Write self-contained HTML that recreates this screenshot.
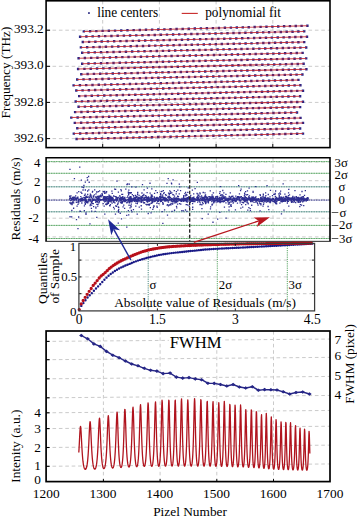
<!DOCTYPE html>
<html><head><meta charset="utf-8"><style>
html,body{margin:0;padding:0;background:#fff;}
svg{display:block;}
text{font-family:"Liberation Serif", serif;fill:#000;}
</style></head><body>
<svg width="357" height="516" viewBox="0 0 357 516">
<rect width="357" height="516" fill="#fff"/>
<line x1="46.1" y1="30.2" x2="330" y2="30.2" stroke="#cbcbcb" stroke-width="1.0" stroke-dasharray="3.6,2.8"/>
<line x1="46.1" y1="66.3" x2="330" y2="66.3" stroke="#cbcbcb" stroke-width="1.0" stroke-dasharray="3.6,2.8"/>
<line x1="46.1" y1="102.4" x2="330" y2="102.4" stroke="#cbcbcb" stroke-width="1.0" stroke-dasharray="3.6,2.8"/>
<line x1="46.1" y1="138.6" x2="330" y2="138.6" stroke="#cbcbcb" stroke-width="1.0" stroke-dasharray="3.6,2.8"/>
<line x1="102.7" y1="0.8" x2="102.7" y2="147.6" stroke="#cbcbcb" stroke-width="1.0" stroke-dasharray="3.6,2.8"/>
<line x1="159.4" y1="0.8" x2="159.4" y2="147.6" stroke="#cbcbcb" stroke-width="1.0" stroke-dasharray="3.6,2.8"/>
<line x1="216.1" y1="0.8" x2="216.1" y2="147.6" stroke="#cbcbcb" stroke-width="1.0" stroke-dasharray="3.6,2.8"/>
<line x1="272.8" y1="0.8" x2="272.8" y2="147.6" stroke="#cbcbcb" stroke-width="1.0" stroke-dasharray="3.6,2.8"/>
<path d="M82.6 30.2h2.4v2.4h-2.4zM88.88 30.04h2.4v2.4h-2.4zM95.14 29.88h2.4v2.4h-2.4zM101.4 29.72h2.4v2.4h-2.4zM107.64 29.56h2.4v2.4h-2.4zM113.86 29.4h2.4v2.4h-2.4zM120.07 29.24h2.4v2.4h-2.4zM126.27 29.09h2.4v2.4h-2.4zM132.46 28.93h2.4v2.4h-2.4zM138.64 28.77h2.4v2.4h-2.4zM144.8 28.61h2.4v2.4h-2.4zM150.94 28.46h2.4v2.4h-2.4zM157.08 28.3h2.4v2.4h-2.4zM163.2 28.15h2.4v2.4h-2.4zM169.31 27.99h2.4v2.4h-2.4zM175.4 27.83h2.4v2.4h-2.4zM181.49 27.68h2.4v2.4h-2.4zM187.56 27.52h2.4v2.4h-2.4zM193.61 27.37h2.4v2.4h-2.4zM199.66 27.22h2.4v2.4h-2.4zM205.69 27.06h2.4v2.4h-2.4zM211.7 26.91h2.4v2.4h-2.4zM217.71 26.76h2.4v2.4h-2.4zM223.7 26.6h2.4v2.4h-2.4zM229.68 26.45h2.4v2.4h-2.4zM235.64 26.3h2.4v2.4h-2.4zM241.59 26.15h2.4v2.4h-2.4zM247.53 26h2.4v2.4h-2.4zM253.46 25.84h2.4v2.4h-2.4zM259.37 25.69h2.4v2.4h-2.4zM265.27 25.54h2.4v2.4h-2.4zM271.16 25.39h2.4v2.4h-2.4zM277.03 25.24h2.4v2.4h-2.4zM282.89 25.09h2.4v2.4h-2.4zM288.74 24.95h2.4v2.4h-2.4zM294.57 24.8h2.4v2.4h-2.4zM300.39 24.65h2.4v2.4h-2.4zM306.2 24.5h2.4v2.4h-2.4zM78.9 35.5h2.4v2.4h-2.4zM85.19 35.35h2.4v2.4h-2.4zM91.47 35.2h2.4v2.4h-2.4zM97.74 35.05h2.4v2.4h-2.4zM103.99 34.91h2.4v2.4h-2.4zM110.23 34.76h2.4v2.4h-2.4zM116.46 34.61h2.4v2.4h-2.4zM122.67 34.46h2.4v2.4h-2.4zM128.87 34.32h2.4v2.4h-2.4zM135.06 34.17h2.4v2.4h-2.4zM141.24 34.03h2.4v2.4h-2.4zM147.4 33.88h2.4v2.4h-2.4zM153.55 33.73h2.4v2.4h-2.4zM159.68 33.59h2.4v2.4h-2.4zM165.8 33.44h2.4v2.4h-2.4zM171.91 33.3h2.4v2.4h-2.4zM178.01 33.16h2.4v2.4h-2.4zM184.09 33.01h2.4v2.4h-2.4zM190.16 32.87h2.4v2.4h-2.4zM196.22 32.73h2.4v2.4h-2.4zM202.26 32.58h2.4v2.4h-2.4zM208.29 32.44h2.4v2.4h-2.4zM214.31 32.3h2.4v2.4h-2.4zM220.31 32.16h2.4v2.4h-2.4zM226.31 32.01h2.4v2.4h-2.4zM232.28 31.87h2.4v2.4h-2.4zM238.25 31.73h2.4v2.4h-2.4zM244.2 31.59h2.4v2.4h-2.4zM250.14 31.45h2.4v2.4h-2.4zM256.07 31.31h2.4v2.4h-2.4zM261.98 31.17h2.4v2.4h-2.4zM267.88 31.03h2.4v2.4h-2.4zM273.76 30.89h2.4v2.4h-2.4zM279.64 30.75h2.4v2.4h-2.4zM285.5 30.61h2.4v2.4h-2.4zM291.34 30.48h2.4v2.4h-2.4zM297.18 30.34h2.4v2.4h-2.4zM303 30.2h2.4v2.4h-2.4zM81.6 40.8h2.4v2.4h-2.4zM87.9 40.65h2.4v2.4h-2.4zM94.18 40.51h2.4v2.4h-2.4zM100.45 40.36h2.4v2.4h-2.4zM106.7 40.22h2.4v2.4h-2.4zM112.95 40.07h2.4v2.4h-2.4zM119.18 39.93h2.4v2.4h-2.4zM125.39 39.78h2.4v2.4h-2.4zM131.6 39.64h2.4v2.4h-2.4zM137.79 39.5h2.4v2.4h-2.4zM143.96 39.35h2.4v2.4h-2.4zM150.13 39.21h2.4v2.4h-2.4zM156.28 39.07h2.4v2.4h-2.4zM162.42 38.93h2.4v2.4h-2.4zM168.54 38.78h2.4v2.4h-2.4zM174.65 38.64h2.4v2.4h-2.4zM180.75 38.5h2.4v2.4h-2.4zM186.84 38.36h2.4v2.4h-2.4zM192.91 38.22h2.4v2.4h-2.4zM198.97 38.08h2.4v2.4h-2.4zM205.02 37.94h2.4v2.4h-2.4zM211.05 37.8h2.4v2.4h-2.4zM217.07 37.66h2.4v2.4h-2.4zM223.08 37.52h2.4v2.4h-2.4zM229.07 37.38h2.4v2.4h-2.4zM235.05 37.24h2.4v2.4h-2.4zM241.02 37.1h2.4v2.4h-2.4zM246.97 36.96h2.4v2.4h-2.4zM252.92 36.83h2.4v2.4h-2.4zM258.84 36.69h2.4v2.4h-2.4zM264.76 36.55h2.4v2.4h-2.4zM270.66 36.41h2.4v2.4h-2.4zM276.55 36.28h2.4v2.4h-2.4zM282.43 36.14h2.4v2.4h-2.4zM288.29 36.01h2.4v2.4h-2.4zM294.14 35.87h2.4v2.4h-2.4zM299.98 35.74h2.4v2.4h-2.4zM305.8 35.6h2.4v2.4h-2.4zM79.7 46.2h2.4v2.4h-2.4zM85.97 46.05h2.4v2.4h-2.4zM92.23 45.9h2.4v2.4h-2.4zM98.47 45.75h2.4v2.4h-2.4zM104.7 45.61h2.4v2.4h-2.4zM110.92 45.46h2.4v2.4h-2.4zM117.12 45.31h2.4v2.4h-2.4zM123.32 45.16h2.4v2.4h-2.4zM129.49 45.02h2.4v2.4h-2.4zM135.66 44.87h2.4v2.4h-2.4zM141.81 44.73h2.4v2.4h-2.4zM147.95 44.58h2.4v2.4h-2.4zM154.08 44.43h2.4v2.4h-2.4zM160.19 44.29h2.4v2.4h-2.4zM166.29 44.14h2.4v2.4h-2.4zM172.38 44h2.4v2.4h-2.4zM178.45 43.86h2.4v2.4h-2.4zM184.52 43.71h2.4v2.4h-2.4zM190.56 43.57h2.4v2.4h-2.4zM196.6 43.43h2.4v2.4h-2.4zM202.62 43.28h2.4v2.4h-2.4zM208.63 43.14h2.4v2.4h-2.4zM214.63 43h2.4v2.4h-2.4zM220.61 42.86h2.4v2.4h-2.4zM226.58 42.71h2.4v2.4h-2.4zM232.54 42.57h2.4v2.4h-2.4zM238.48 42.43h2.4v2.4h-2.4zM244.41 42.29h2.4v2.4h-2.4zM250.33 42.15h2.4v2.4h-2.4zM256.23 42.01h2.4v2.4h-2.4zM262.12 41.87h2.4v2.4h-2.4zM268 41.73h2.4v2.4h-2.4zM273.87 41.59h2.4v2.4h-2.4zM279.72 41.45h2.4v2.4h-2.4zM285.56 41.31h2.4v2.4h-2.4zM291.39 41.18h2.4v2.4h-2.4zM297.2 41.04h2.4v2.4h-2.4zM303 40.9h2.4v2.4h-2.4zM81 51.5h2.4v2.4h-2.4zM87.29 51.35h2.4v2.4h-2.4zM93.57 51.21h2.4v2.4h-2.4zM99.83 51.06h2.4v2.4h-2.4zM106.08 50.92h2.4v2.4h-2.4zM112.32 50.77h2.4v2.4h-2.4zM118.54 50.63h2.4v2.4h-2.4zM124.75 50.48h2.4v2.4h-2.4zM130.95 50.34h2.4v2.4h-2.4zM137.14 50.2h2.4v2.4h-2.4zM143.31 50.05h2.4v2.4h-2.4zM149.47 49.91h2.4v2.4h-2.4zM155.61 49.77h2.4v2.4h-2.4zM161.74 49.63h2.4v2.4h-2.4zM167.86 49.48h2.4v2.4h-2.4zM173.97 49.34h2.4v2.4h-2.4zM180.06 49.2h2.4v2.4h-2.4zM186.14 49.06h2.4v2.4h-2.4zM192.21 48.92h2.4v2.4h-2.4zM198.27 48.78h2.4v2.4h-2.4zM204.31 48.64h2.4v2.4h-2.4zM210.33 48.5h2.4v2.4h-2.4zM216.35 48.36h2.4v2.4h-2.4zM222.35 48.22h2.4v2.4h-2.4zM228.34 48.08h2.4v2.4h-2.4zM234.31 47.94h2.4v2.4h-2.4zM240.28 47.8h2.4v2.4h-2.4zM246.23 47.66h2.4v2.4h-2.4zM252.16 47.53h2.4v2.4h-2.4zM258.09 47.39h2.4v2.4h-2.4zM264 47.25h2.4v2.4h-2.4zM269.89 47.11h2.4v2.4h-2.4zM275.78 46.98h2.4v2.4h-2.4zM281.65 46.84h2.4v2.4h-2.4zM287.51 46.71h2.4v2.4h-2.4zM293.35 46.57h2.4v2.4h-2.4zM299.18 46.44h2.4v2.4h-2.4zM305 46.3h2.4v2.4h-2.4zM77.4 57h2.4v2.4h-2.4zM83.69 56.85h2.4v2.4h-2.4zM89.97 56.7h2.4v2.4h-2.4zM96.23 56.55h2.4v2.4h-2.4zM102.48 56.41h2.4v2.4h-2.4zM108.72 56.26h2.4v2.4h-2.4zM114.94 56.11h2.4v2.4h-2.4zM121.15 55.96h2.4v2.4h-2.4zM127.35 55.82h2.4v2.4h-2.4zM133.54 55.67h2.4v2.4h-2.4zM139.71 55.53h2.4v2.4h-2.4zM145.87 55.38h2.4v2.4h-2.4zM152.01 55.23h2.4v2.4h-2.4zM158.14 55.09h2.4v2.4h-2.4zM164.26 54.94h2.4v2.4h-2.4zM170.37 54.8h2.4v2.4h-2.4zM176.46 54.66h2.4v2.4h-2.4zM182.54 54.51h2.4v2.4h-2.4zM188.61 54.37h2.4v2.4h-2.4zM194.67 54.23h2.4v2.4h-2.4zM200.71 54.08h2.4v2.4h-2.4zM206.73 53.94h2.4v2.4h-2.4zM212.75 53.8h2.4v2.4h-2.4zM218.75 53.66h2.4v2.4h-2.4zM224.74 53.51h2.4v2.4h-2.4zM230.71 53.37h2.4v2.4h-2.4zM236.68 53.23h2.4v2.4h-2.4zM242.63 53.09h2.4v2.4h-2.4zM248.56 52.95h2.4v2.4h-2.4zM254.49 52.81h2.4v2.4h-2.4zM260.4 52.67h2.4v2.4h-2.4zM266.29 52.53h2.4v2.4h-2.4zM272.18 52.39h2.4v2.4h-2.4zM278.05 52.25h2.4v2.4h-2.4zM283.91 52.11h2.4v2.4h-2.4zM289.75 51.98h2.4v2.4h-2.4zM295.58 51.84h2.4v2.4h-2.4zM301.4 51.7h2.4v2.4h-2.4zM81 62.5h2.4v2.4h-2.4zM87.29 62.35h2.4v2.4h-2.4zM93.57 62.2h2.4v2.4h-2.4zM99.83 62.05h2.4v2.4h-2.4zM106.08 61.91h2.4v2.4h-2.4zM112.32 61.76h2.4v2.4h-2.4zM118.54 61.61h2.4v2.4h-2.4zM124.75 61.46h2.4v2.4h-2.4zM130.95 61.32h2.4v2.4h-2.4zM137.14 61.17h2.4v2.4h-2.4zM143.31 61.03h2.4v2.4h-2.4zM149.47 60.88h2.4v2.4h-2.4zM155.61 60.73h2.4v2.4h-2.4zM161.74 60.59h2.4v2.4h-2.4zM167.86 60.44h2.4v2.4h-2.4zM173.97 60.3h2.4v2.4h-2.4zM180.06 60.16h2.4v2.4h-2.4zM186.14 60.01h2.4v2.4h-2.4zM192.21 59.87h2.4v2.4h-2.4zM198.27 59.73h2.4v2.4h-2.4zM204.31 59.58h2.4v2.4h-2.4zM210.33 59.44h2.4v2.4h-2.4zM216.35 59.3h2.4v2.4h-2.4zM222.35 59.16h2.4v2.4h-2.4zM228.34 59.01h2.4v2.4h-2.4zM234.31 58.87h2.4v2.4h-2.4zM240.28 58.73h2.4v2.4h-2.4zM246.23 58.59h2.4v2.4h-2.4zM252.16 58.45h2.4v2.4h-2.4zM258.09 58.31h2.4v2.4h-2.4zM264 58.17h2.4v2.4h-2.4zM269.89 58.03h2.4v2.4h-2.4zM275.78 57.89h2.4v2.4h-2.4zM281.65 57.75h2.4v2.4h-2.4zM287.51 57.61h2.4v2.4h-2.4zM293.35 57.48h2.4v2.4h-2.4zM299.18 57.34h2.4v2.4h-2.4zM305 57.2h2.4v2.4h-2.4zM76.9 67.8h2.4v2.4h-2.4zM83.23 67.65h2.4v2.4h-2.4zM89.55 67.51h2.4v2.4h-2.4zM95.86 67.36h2.4v2.4h-2.4zM102.15 67.22h2.4v2.4h-2.4zM108.43 67.07h2.4v2.4h-2.4zM114.69 66.93h2.4v2.4h-2.4zM120.95 66.78h2.4v2.4h-2.4zM127.19 66.64h2.4v2.4h-2.4zM133.41 66.5h2.4v2.4h-2.4zM139.62 66.35h2.4v2.4h-2.4zM145.82 66.21h2.4v2.4h-2.4zM152.01 66.07h2.4v2.4h-2.4zM158.19 65.93h2.4v2.4h-2.4zM164.35 65.78h2.4v2.4h-2.4zM170.49 65.64h2.4v2.4h-2.4zM176.63 65.5h2.4v2.4h-2.4zM182.75 65.36h2.4v2.4h-2.4zM188.86 65.22h2.4v2.4h-2.4zM194.95 65.08h2.4v2.4h-2.4zM201.03 64.94h2.4v2.4h-2.4zM207.1 64.8h2.4v2.4h-2.4zM213.16 64.66h2.4v2.4h-2.4zM219.2 64.52h2.4v2.4h-2.4zM225.23 64.38h2.4v2.4h-2.4zM231.24 64.24h2.4v2.4h-2.4zM237.24 64.1h2.4v2.4h-2.4zM243.23 63.96h2.4v2.4h-2.4zM249.21 63.83h2.4v2.4h-2.4zM255.17 63.69h2.4v2.4h-2.4zM261.12 63.55h2.4v2.4h-2.4zM267.06 63.41h2.4v2.4h-2.4zM272.98 63.28h2.4v2.4h-2.4zM278.89 63.14h2.4v2.4h-2.4zM284.79 63.01h2.4v2.4h-2.4zM290.67 62.87h2.4v2.4h-2.4zM296.54 62.74h2.4v2.4h-2.4zM302.4 62.6h2.4v2.4h-2.4zM80.1 73h2.4v2.4h-2.4zM86.42 72.86h2.4v2.4h-2.4zM92.73 72.72h2.4v2.4h-2.4zM99.02 72.58h2.4v2.4h-2.4zM105.3 72.44h2.4v2.4h-2.4zM111.57 72.3h2.4v2.4h-2.4zM117.83 72.16h2.4v2.4h-2.4zM124.07 72.02h2.4v2.4h-2.4zM130.3 71.89h2.4v2.4h-2.4zM136.51 71.75h2.4v2.4h-2.4zM142.71 71.61h2.4v2.4h-2.4zM148.9 71.47h2.4v2.4h-2.4zM155.08 71.33h2.4v2.4h-2.4zM161.24 71.2h2.4v2.4h-2.4zM167.39 71.06h2.4v2.4h-2.4zM173.53 70.92h2.4v2.4h-2.4zM179.65 70.79h2.4v2.4h-2.4zM185.76 70.65h2.4v2.4h-2.4zM191.86 70.52h2.4v2.4h-2.4zM197.94 70.38h2.4v2.4h-2.4zM204.01 70.25h2.4v2.4h-2.4zM210.07 70.11h2.4v2.4h-2.4zM216.11 69.98h2.4v2.4h-2.4zM222.14 69.84h2.4v2.4h-2.4zM228.16 69.71h2.4v2.4h-2.4zM234.17 69.58h2.4v2.4h-2.4zM240.16 69.44h2.4v2.4h-2.4zM246.14 69.31h2.4v2.4h-2.4zM252.1 69.18h2.4v2.4h-2.4zM258.06 69.05h2.4v2.4h-2.4zM263.99 68.92h2.4v2.4h-2.4zM269.92 68.78h2.4v2.4h-2.4zM275.83 68.65h2.4v2.4h-2.4zM281.73 68.52h2.4v2.4h-2.4zM287.62 68.39h2.4v2.4h-2.4zM293.49 68.26h2.4v2.4h-2.4zM299.35 68.13h2.4v2.4h-2.4zM305.2 68h2.4v2.4h-2.4zM76 78.3h2.4v2.4h-2.4zM82.32 78.16h2.4v2.4h-2.4zM88.63 78.02h2.4v2.4h-2.4zM94.93 77.88h2.4v2.4h-2.4zM101.21 77.74h2.4v2.4h-2.4zM107.49 77.6h2.4v2.4h-2.4zM113.74 77.46h2.4v2.4h-2.4zM119.99 77.32h2.4v2.4h-2.4zM126.22 77.19h2.4v2.4h-2.4zM132.44 77.05h2.4v2.4h-2.4zM138.64 76.91h2.4v2.4h-2.4zM144.83 76.77h2.4v2.4h-2.4zM151.01 76.63h2.4v2.4h-2.4zM157.18 76.5h2.4v2.4h-2.4zM163.33 76.36h2.4v2.4h-2.4zM169.47 76.22h2.4v2.4h-2.4zM175.59 76.09h2.4v2.4h-2.4zM181.71 75.95h2.4v2.4h-2.4zM187.81 75.82h2.4v2.4h-2.4zM193.89 75.68h2.4v2.4h-2.4zM199.97 75.55h2.4v2.4h-2.4zM206.03 75.41h2.4v2.4h-2.4zM212.07 75.28h2.4v2.4h-2.4zM218.11 75.14h2.4v2.4h-2.4zM224.13 75.01h2.4v2.4h-2.4zM230.14 74.88h2.4v2.4h-2.4zM236.13 74.74h2.4v2.4h-2.4zM242.11 74.61h2.4v2.4h-2.4zM248.08 74.48h2.4v2.4h-2.4zM254.03 74.35h2.4v2.4h-2.4zM259.98 74.22h2.4v2.4h-2.4zM265.9 74.08h2.4v2.4h-2.4zM271.82 73.95h2.4v2.4h-2.4zM277.72 73.82h2.4v2.4h-2.4zM283.61 73.69h2.4v2.4h-2.4zM289.49 73.56h2.4v2.4h-2.4zM295.35 73.43h2.4v2.4h-2.4zM301.2 73.3h2.4v2.4h-2.4zM72.4 84.2h2.4v2.4h-2.4zM78.71 84.05h2.4v2.4h-2.4zM85.01 83.89h2.4v2.4h-2.4zM91.3 83.74h2.4v2.4h-2.4zM97.57 83.58h2.4v2.4h-2.4zM103.83 83.43h2.4v2.4h-2.4zM110.08 83.28h2.4v2.4h-2.4zM116.31 83.13h2.4v2.4h-2.4zM122.53 82.97h2.4v2.4h-2.4zM128.74 82.82h2.4v2.4h-2.4zM134.93 82.67h2.4v2.4h-2.4zM141.11 82.52h2.4v2.4h-2.4zM147.28 82.37h2.4v2.4h-2.4zM153.43 82.22h2.4v2.4h-2.4zM159.57 82.07h2.4v2.4h-2.4zM165.7 81.92h2.4v2.4h-2.4zM171.82 81.77h2.4v2.4h-2.4zM177.92 81.62h2.4v2.4h-2.4zM184.01 81.47h2.4v2.4h-2.4zM190.08 81.32h2.4v2.4h-2.4zM196.15 81.17h2.4v2.4h-2.4zM202.2 81.02h2.4v2.4h-2.4zM208.23 80.88h2.4v2.4h-2.4zM214.26 80.73h2.4v2.4h-2.4zM220.27 80.58h2.4v2.4h-2.4zM226.26 80.44h2.4v2.4h-2.4zM232.25 80.29h2.4v2.4h-2.4zM238.22 80.14h2.4v2.4h-2.4zM244.17 80h2.4v2.4h-2.4zM250.12 79.85h2.4v2.4h-2.4zM256.05 79.71h2.4v2.4h-2.4zM261.97 79.56h2.4v2.4h-2.4zM267.87 79.42h2.4v2.4h-2.4zM273.76 79.27h2.4v2.4h-2.4zM279.64 79.13h2.4v2.4h-2.4zM285.51 78.99h2.4v2.4h-2.4zM291.36 78.84h2.4v2.4h-2.4zM297.2 78.7h2.4v2.4h-2.4zM75.1 89.3h2.4v2.4h-2.4zM81.39 89.15h2.4v2.4h-2.4zM87.67 89h2.4v2.4h-2.4zM93.94 88.85h2.4v2.4h-2.4zM100.19 88.71h2.4v2.4h-2.4zM106.43 88.56h2.4v2.4h-2.4zM112.66 88.41h2.4v2.4h-2.4zM118.87 88.26h2.4v2.4h-2.4zM125.07 88.12h2.4v2.4h-2.4zM131.26 87.97h2.4v2.4h-2.4zM137.44 87.83h2.4v2.4h-2.4zM143.6 87.68h2.4v2.4h-2.4zM149.75 87.53h2.4v2.4h-2.4zM155.88 87.39h2.4v2.4h-2.4zM162 87.24h2.4v2.4h-2.4zM168.11 87.1h2.4v2.4h-2.4zM174.21 86.96h2.4v2.4h-2.4zM180.29 86.81h2.4v2.4h-2.4zM186.36 86.67h2.4v2.4h-2.4zM192.42 86.53h2.4v2.4h-2.4zM198.46 86.38h2.4v2.4h-2.4zM204.49 86.24h2.4v2.4h-2.4zM210.51 86.1h2.4v2.4h-2.4zM216.51 85.96h2.4v2.4h-2.4zM222.51 85.81h2.4v2.4h-2.4zM228.48 85.67h2.4v2.4h-2.4zM234.45 85.53h2.4v2.4h-2.4zM240.4 85.39h2.4v2.4h-2.4zM246.34 85.25h2.4v2.4h-2.4zM252.27 85.11h2.4v2.4h-2.4zM258.18 84.97h2.4v2.4h-2.4zM264.08 84.83h2.4v2.4h-2.4zM269.96 84.69h2.4v2.4h-2.4zM275.84 84.55h2.4v2.4h-2.4zM281.7 84.41h2.4v2.4h-2.4zM287.54 84.28h2.4v2.4h-2.4zM293.38 84.14h2.4v2.4h-2.4zM299.2 84h2.4v2.4h-2.4zM78 94.9h2.4v2.4h-2.4zM84.28 94.75h2.4v2.4h-2.4zM90.56 94.6h2.4v2.4h-2.4zM96.81 94.45h2.4v2.4h-2.4zM103.06 94.3h2.4v2.4h-2.4zM109.29 94.15h2.4v2.4h-2.4zM115.51 93.99h2.4v2.4h-2.4zM121.71 93.85h2.4v2.4h-2.4zM127.91 93.7h2.4v2.4h-2.4zM134.09 93.55h2.4v2.4h-2.4zM140.25 93.4h2.4v2.4h-2.4zM146.41 93.25h2.4v2.4h-2.4zM152.55 93.1h2.4v2.4h-2.4zM158.67 92.95h2.4v2.4h-2.4zM164.79 92.81h2.4v2.4h-2.4zM170.89 92.66h2.4v2.4h-2.4zM176.98 92.51h2.4v2.4h-2.4zM183.05 92.37h2.4v2.4h-2.4zM189.11 92.22h2.4v2.4h-2.4zM195.16 92.07h2.4v2.4h-2.4zM201.2 91.93h2.4v2.4h-2.4zM207.22 91.78h2.4v2.4h-2.4zM213.23 91.64h2.4v2.4h-2.4zM219.22 91.49h2.4v2.4h-2.4zM225.21 91.35h2.4v2.4h-2.4zM231.18 91.2h2.4v2.4h-2.4zM237.14 91.06h2.4v2.4h-2.4zM243.08 90.92h2.4v2.4h-2.4zM249.01 90.77h2.4v2.4h-2.4zM254.93 90.63h2.4v2.4h-2.4zM260.83 90.49h2.4v2.4h-2.4zM266.72 90.35h2.4v2.4h-2.4zM272.6 90.2h2.4v2.4h-2.4zM278.47 90.06h2.4v2.4h-2.4zM284.32 89.92h2.4v2.4h-2.4zM290.16 89.78h2.4v2.4h-2.4zM295.99 89.64h2.4v2.4h-2.4zM301.8 89.5h2.4v2.4h-2.4zM74.5 100.3h2.4v2.4h-2.4zM80.8 100.15h2.4v2.4h-2.4zM87.09 100h2.4v2.4h-2.4zM93.36 99.85h2.4v2.4h-2.4zM99.62 99.71h2.4v2.4h-2.4zM105.87 99.56h2.4v2.4h-2.4zM112.11 99.41h2.4v2.4h-2.4zM118.33 99.26h2.4v2.4h-2.4zM124.54 99.12h2.4v2.4h-2.4zM130.74 98.97h2.4v2.4h-2.4zM136.92 98.83h2.4v2.4h-2.4zM143.09 98.68h2.4v2.4h-2.4zM149.25 98.53h2.4v2.4h-2.4zM155.39 98.39h2.4v2.4h-2.4zM161.52 98.24h2.4v2.4h-2.4zM167.64 98.1h2.4v2.4h-2.4zM173.74 97.96h2.4v2.4h-2.4zM179.83 97.81h2.4v2.4h-2.4zM185.91 97.67h2.4v2.4h-2.4zM191.97 97.53h2.4v2.4h-2.4zM198.03 97.38h2.4v2.4h-2.4zM204.07 97.24h2.4v2.4h-2.4zM210.09 97.1h2.4v2.4h-2.4zM216.1 96.96h2.4v2.4h-2.4zM222.1 96.81h2.4v2.4h-2.4zM228.09 96.67h2.4v2.4h-2.4zM234.06 96.53h2.4v2.4h-2.4zM240.02 96.39h2.4v2.4h-2.4zM245.97 96.25h2.4v2.4h-2.4zM251.9 96.11h2.4v2.4h-2.4zM257.82 95.97h2.4v2.4h-2.4zM263.73 95.83h2.4v2.4h-2.4zM269.62 95.69h2.4v2.4h-2.4zM275.51 95.55h2.4v2.4h-2.4zM281.37 95.41h2.4v2.4h-2.4zM287.23 95.28h2.4v2.4h-2.4zM293.07 95.14h2.4v2.4h-2.4zM298.9 95h2.4v2.4h-2.4zM77.4 105.6h2.4v2.4h-2.4zM83.7 105.46h2.4v2.4h-2.4zM89.99 105.32h2.4v2.4h-2.4zM96.26 105.18h2.4v2.4h-2.4zM102.52 105.04h2.4v2.4h-2.4zM108.77 104.9h2.4v2.4h-2.4zM115.01 104.76h2.4v2.4h-2.4zM121.23 104.62h2.4v2.4h-2.4zM127.44 104.49h2.4v2.4h-2.4zM133.64 104.35h2.4v2.4h-2.4zM139.82 104.21h2.4v2.4h-2.4zM145.99 104.07h2.4v2.4h-2.4zM152.15 103.93h2.4v2.4h-2.4zM158.29 103.8h2.4v2.4h-2.4zM164.42 103.66h2.4v2.4h-2.4zM170.54 103.52h2.4v2.4h-2.4zM176.64 103.39h2.4v2.4h-2.4zM182.73 103.25h2.4v2.4h-2.4zM188.81 103.12h2.4v2.4h-2.4zM194.87 102.98h2.4v2.4h-2.4zM200.93 102.85h2.4v2.4h-2.4zM206.97 102.71h2.4v2.4h-2.4zM212.99 102.58h2.4v2.4h-2.4zM219 102.44h2.4v2.4h-2.4zM225 102.31h2.4v2.4h-2.4zM230.99 102.18h2.4v2.4h-2.4zM236.96 102.04h2.4v2.4h-2.4zM242.92 101.91h2.4v2.4h-2.4zM248.87 101.78h2.4v2.4h-2.4zM254.8 101.65h2.4v2.4h-2.4zM260.72 101.52h2.4v2.4h-2.4zM266.63 101.38h2.4v2.4h-2.4zM272.52 101.25h2.4v2.4h-2.4zM278.41 101.12h2.4v2.4h-2.4zM284.27 100.99h2.4v2.4h-2.4zM290.13 100.86h2.4v2.4h-2.4zM295.97 100.73h2.4v2.4h-2.4zM301.8 100.6h2.4v2.4h-2.4zM73.9 110.9h2.4v2.4h-2.4zM80.22 110.76h2.4v2.4h-2.4zM86.52 110.62h2.4v2.4h-2.4zM92.81 110.48h2.4v2.4h-2.4zM99.09 110.34h2.4v2.4h-2.4zM105.36 110.2h2.4v2.4h-2.4zM111.61 110.06h2.4v2.4h-2.4zM117.85 109.92h2.4v2.4h-2.4zM124.07 109.79h2.4v2.4h-2.4zM130.29 109.65h2.4v2.4h-2.4zM136.49 109.51h2.4v2.4h-2.4zM142.67 109.37h2.4v2.4h-2.4zM148.85 109.23h2.4v2.4h-2.4zM155.01 109.1h2.4v2.4h-2.4zM161.15 108.96h2.4v2.4h-2.4zM167.29 108.82h2.4v2.4h-2.4zM173.41 108.69h2.4v2.4h-2.4zM179.51 108.55h2.4v2.4h-2.4zM185.61 108.42h2.4v2.4h-2.4zM191.69 108.28h2.4v2.4h-2.4zM197.76 108.15h2.4v2.4h-2.4zM203.81 108.01h2.4v2.4h-2.4zM209.85 107.88h2.4v2.4h-2.4zM215.88 107.74h2.4v2.4h-2.4zM221.9 107.61h2.4v2.4h-2.4zM227.9 107.48h2.4v2.4h-2.4zM233.89 107.34h2.4v2.4h-2.4zM239.86 107.21h2.4v2.4h-2.4zM245.83 107.08h2.4v2.4h-2.4zM251.78 106.95h2.4v2.4h-2.4zM257.71 106.82h2.4v2.4h-2.4zM263.64 106.68h2.4v2.4h-2.4zM269.55 106.55h2.4v2.4h-2.4zM275.44 106.42h2.4v2.4h-2.4zM281.33 106.29h2.4v2.4h-2.4zM287.2 106.16h2.4v2.4h-2.4zM293.06 106.03h2.4v2.4h-2.4zM298.9 105.9h2.4v2.4h-2.4zM70.1 116.4h2.4v2.4h-2.4zM76.44 116.26h2.4v2.4h-2.4zM82.76 116.11h2.4v2.4h-2.4zM89.07 115.97h2.4v2.4h-2.4zM95.37 115.83h2.4v2.4h-2.4zM101.66 115.69h2.4v2.4h-2.4zM107.93 115.55h2.4v2.4h-2.4zM114.18 115.4h2.4v2.4h-2.4zM120.43 115.26h2.4v2.4h-2.4zM126.66 115.12h2.4v2.4h-2.4zM132.88 114.98h2.4v2.4h-2.4zM139.09 114.84h2.4v2.4h-2.4zM145.28 114.7h2.4v2.4h-2.4zM151.46 114.56h2.4v2.4h-2.4zM157.62 114.42h2.4v2.4h-2.4zM163.78 114.28h2.4v2.4h-2.4zM169.92 114.14h2.4v2.4h-2.4zM176.04 114.01h2.4v2.4h-2.4zM182.16 113.87h2.4v2.4h-2.4zM188.26 113.73h2.4v2.4h-2.4zM194.34 113.59h2.4v2.4h-2.4zM200.42 113.46h2.4v2.4h-2.4zM206.48 113.32h2.4v2.4h-2.4zM212.52 113.18h2.4v2.4h-2.4zM218.56 113.05h2.4v2.4h-2.4zM224.58 112.91h2.4v2.4h-2.4zM230.59 112.77h2.4v2.4h-2.4zM236.58 112.64h2.4v2.4h-2.4zM242.56 112.5h2.4v2.4h-2.4zM248.53 112.37h2.4v2.4h-2.4zM254.48 112.23h2.4v2.4h-2.4zM260.43 112.1h2.4v2.4h-2.4zM266.36 111.97h2.4v2.4h-2.4zM272.27 111.83h2.4v2.4h-2.4zM278.17 111.7h2.4v2.4h-2.4zM284.06 111.57h2.4v2.4h-2.4zM289.94 111.43h2.4v2.4h-2.4zM295.8 111.3h2.4v2.4h-2.4zM73.6 121.7h2.4v2.4h-2.4zM79.94 121.56h2.4v2.4h-2.4zM86.26 121.42h2.4v2.4h-2.4zM92.57 121.28h2.4v2.4h-2.4zM98.87 121.14h2.4v2.4h-2.4zM105.16 121h2.4v2.4h-2.4zM111.43 120.86h2.4v2.4h-2.4zM117.68 120.72h2.4v2.4h-2.4zM123.93 120.59h2.4v2.4h-2.4zM130.16 120.45h2.4v2.4h-2.4zM136.38 120.31h2.4v2.4h-2.4zM142.59 120.17h2.4v2.4h-2.4zM148.78 120.03h2.4v2.4h-2.4zM154.96 119.9h2.4v2.4h-2.4zM161.12 119.76h2.4v2.4h-2.4zM167.28 119.62h2.4v2.4h-2.4zM173.42 119.49h2.4v2.4h-2.4zM179.54 119.35h2.4v2.4h-2.4zM185.66 119.22h2.4v2.4h-2.4zM191.76 119.08h2.4v2.4h-2.4zM197.84 118.95h2.4v2.4h-2.4zM203.92 118.81h2.4v2.4h-2.4zM209.98 118.68h2.4v2.4h-2.4zM216.02 118.54h2.4v2.4h-2.4zM222.06 118.41h2.4v2.4h-2.4zM228.08 118.28h2.4v2.4h-2.4zM234.09 118.14h2.4v2.4h-2.4zM240.08 118.01h2.4v2.4h-2.4zM246.06 117.88h2.4v2.4h-2.4zM252.03 117.75h2.4v2.4h-2.4zM257.98 117.62h2.4v2.4h-2.4zM263.93 117.48h2.4v2.4h-2.4zM269.86 117.35h2.4v2.4h-2.4zM275.77 117.22h2.4v2.4h-2.4zM281.67 117.09h2.4v2.4h-2.4zM287.56 116.96h2.4v2.4h-2.4zM293.44 116.83h2.4v2.4h-2.4zM299.3 116.7h2.4v2.4h-2.4zM76.1 127h2.4v2.4h-2.4zM82.44 126.85h2.4v2.4h-2.4zM88.76 126.7h2.4v2.4h-2.4zM95.07 126.55h2.4v2.4h-2.4zM101.37 126.41h2.4v2.4h-2.4zM107.66 126.26h2.4v2.4h-2.4zM113.93 126.11h2.4v2.4h-2.4zM120.18 125.96h2.4v2.4h-2.4zM126.43 125.82h2.4v2.4h-2.4zM132.66 125.67h2.4v2.4h-2.4zM138.88 125.53h2.4v2.4h-2.4zM145.09 125.38h2.4v2.4h-2.4zM151.28 125.23h2.4v2.4h-2.4zM157.46 125.09h2.4v2.4h-2.4zM163.62 124.94h2.4v2.4h-2.4zM169.78 124.8h2.4v2.4h-2.4zM175.92 124.66h2.4v2.4h-2.4zM182.04 124.51h2.4v2.4h-2.4zM188.16 124.37h2.4v2.4h-2.4zM194.26 124.23h2.4v2.4h-2.4zM200.34 124.08h2.4v2.4h-2.4zM206.42 123.94h2.4v2.4h-2.4zM212.48 123.8h2.4v2.4h-2.4zM218.52 123.66h2.4v2.4h-2.4zM224.56 123.51h2.4v2.4h-2.4zM230.58 123.37h2.4v2.4h-2.4zM236.59 123.23h2.4v2.4h-2.4zM242.58 123.09h2.4v2.4h-2.4zM248.56 122.95h2.4v2.4h-2.4zM254.53 122.81h2.4v2.4h-2.4zM260.48 122.67h2.4v2.4h-2.4zM266.43 122.53h2.4v2.4h-2.4zM272.36 122.39h2.4v2.4h-2.4zM278.27 122.25h2.4v2.4h-2.4zM284.17 122.11h2.4v2.4h-2.4zM290.06 121.98h2.4v2.4h-2.4zM295.94 121.84h2.4v2.4h-2.4zM301.8 121.7h2.4v2.4h-2.4zM72.6 132.4h2.4v2.4h-2.4zM78.95 132.26h2.4v2.4h-2.4zM85.3 132.11h2.4v2.4h-2.4zM91.62 131.97h2.4v2.4h-2.4zM97.94 131.83h2.4v2.4h-2.4zM104.24 131.69h2.4v2.4h-2.4zM110.53 131.55h2.4v2.4h-2.4zM116.8 131.4h2.4v2.4h-2.4zM123.06 131.26h2.4v2.4h-2.4zM129.31 131.12h2.4v2.4h-2.4zM135.55 130.98h2.4v2.4h-2.4zM141.77 130.84h2.4v2.4h-2.4zM147.98 130.7h2.4v2.4h-2.4zM154.17 130.56h2.4v2.4h-2.4zM160.36 130.42h2.4v2.4h-2.4zM166.53 130.28h2.4v2.4h-2.4zM172.68 130.14h2.4v2.4h-2.4zM178.82 130.01h2.4v2.4h-2.4zM184.95 129.87h2.4v2.4h-2.4zM191.07 129.73h2.4v2.4h-2.4zM197.17 129.59h2.4v2.4h-2.4zM203.26 129.46h2.4v2.4h-2.4zM209.34 129.32h2.4v2.4h-2.4zM215.4 129.18h2.4v2.4h-2.4zM221.45 129.05h2.4v2.4h-2.4zM227.49 128.91h2.4v2.4h-2.4zM233.51 128.77h2.4v2.4h-2.4zM239.52 128.64h2.4v2.4h-2.4zM245.52 128.5h2.4v2.4h-2.4zM251.5 128.37h2.4v2.4h-2.4zM257.48 128.23h2.4v2.4h-2.4zM263.43 128.1h2.4v2.4h-2.4zM269.38 127.97h2.4v2.4h-2.4zM275.31 127.83h2.4v2.4h-2.4zM281.23 127.7h2.4v2.4h-2.4zM287.13 127.57h2.4v2.4h-2.4zM293.02 127.43h2.4v2.4h-2.4zM298.9 127.3h2.4v2.4h-2.4zM75.4 137.8h2.4v2.4h-2.4zM81.76 137.65h2.4v2.4h-2.4zM88.1 137.5h2.4v2.4h-2.4zM94.43 137.35h2.4v2.4h-2.4zM100.75 137.2h2.4v2.4h-2.4zM107.05 137.05h2.4v2.4h-2.4zM113.34 136.89h2.4v2.4h-2.4zM119.62 136.75h2.4v2.4h-2.4zM125.89 136.6h2.4v2.4h-2.4zM132.14 136.45h2.4v2.4h-2.4zM138.38 136.3h2.4v2.4h-2.4zM144.6 136.15h2.4v2.4h-2.4zM150.81 136h2.4v2.4h-2.4zM157.01 135.85h2.4v2.4h-2.4zM163.19 135.71h2.4v2.4h-2.4zM169.37 135.56h2.4v2.4h-2.4zM175.53 135.41h2.4v2.4h-2.4zM181.67 135.27h2.4v2.4h-2.4zM187.8 135.12h2.4v2.4h-2.4zM193.92 134.97h2.4v2.4h-2.4zM200.03 134.83h2.4v2.4h-2.4zM206.12 134.68h2.4v2.4h-2.4zM212.2 134.54h2.4v2.4h-2.4zM218.27 134.39h2.4v2.4h-2.4zM224.32 134.25h2.4v2.4h-2.4zM230.36 134.1h2.4v2.4h-2.4zM236.38 133.96h2.4v2.4h-2.4zM242.4 133.82h2.4v2.4h-2.4zM248.4 133.67h2.4v2.4h-2.4zM254.38 133.53h2.4v2.4h-2.4zM260.36 133.39h2.4v2.4h-2.4zM266.32 133.25h2.4v2.4h-2.4zM272.26 133.1h2.4v2.4h-2.4zM278.2 132.96h2.4v2.4h-2.4zM284.12 132.82h2.4v2.4h-2.4zM290.03 132.68h2.4v2.4h-2.4zM295.92 132.54h2.4v2.4h-2.4zM301.8 132.4h2.4v2.4h-2.4z" fill="#26268a"/>
<path d="M83.8 31.4L307.4 25.7M80.1 36.7L304.2 31.4M82.8 42L307 36.8M80.9 47.4L304.2 42.1M82.2 52.7L306.2 47.5M78.6 58.2L302.6 52.9M82.2 63.7L306.2 58.4M78.1 69L303.6 63.8M81.3 74.2L306.4 69.2M77.2 79.5L302.4 74.5M73.6 85.4L298.4 79.9M76.3 90.5L300.4 85.2M79.2 96.1L303 90.7M75.7 101.5L300.1 96.2M78.6 106.8L303 101.8M75.1 112.1L300.1 107.1M71.3 117.6L297 112.5M74.8 122.9L300.5 117.9M77.3 128.2L303 122.9M73.8 133.6L300.1 128.5M76.6 139L303 133.6" stroke="#c21e2a" stroke-width="1.05" fill="none" stroke-opacity="0.85"/>
<rect x="88.1" y="12.2" width="1.7" height="1.7" fill="#23237e"/>
<text x="97.2" y="16.9" font-size="13.6" text-anchor="start" textLength="61" lengthAdjust="spacingAndGlyphs">line centers</text>
<line x1="181.7" y1="13.4" x2="197.8" y2="13.4" stroke="#c82828" stroke-width="1.1"/>
<text x="205.2" y="16.9" font-size="13.6" text-anchor="start" textLength="75.7" lengthAdjust="spacingAndGlyphs">polynomial fit</text>
<line x1="46.1" y1="30.2" x2="50.1" y2="30.2" stroke="#000" stroke-width="1"/>
<line x1="46.1" y1="66.3" x2="50.1" y2="66.3" stroke="#000" stroke-width="1"/>
<line x1="46.1" y1="102.4" x2="50.1" y2="102.4" stroke="#000" stroke-width="1"/>
<line x1="46.1" y1="138.6" x2="50.1" y2="138.6" stroke="#000" stroke-width="1"/>
<line x1="102.7" y1="144.1" x2="102.7" y2="147.6" stroke="#000" stroke-width="1"/>
<line x1="159.4" y1="144.1" x2="159.4" y2="147.6" stroke="#000" stroke-width="1"/>
<line x1="216.1" y1="144.1" x2="216.1" y2="147.6" stroke="#000" stroke-width="1"/>
<line x1="272.8" y1="144.1" x2="272.8" y2="147.6" stroke="#000" stroke-width="1"/>
<rect x="46.1" y="0.8" width="283.9" height="146.8" fill="none" stroke="#000" stroke-width="1.6"/>
<text x="43.7" y="33.36" font-size="13.2" text-anchor="end">393.2</text>
<text x="43.7" y="69.46" font-size="13.2" text-anchor="end">393.0</text>
<text x="43.7" y="105.56" font-size="13.2" text-anchor="end">392.8</text>
<text x="43.7" y="141.76" font-size="13.2" text-anchor="end">392.6</text>
<text x="9.6" y="118.4" font-size="12.5" text-anchor="start" textLength="91.8" lengthAdjust="spacingAndGlyphs" transform="rotate(-90 9.6 118.4)">Frequency (THz)</text>
<line x1="46.1" y1="162" x2="330" y2="162" stroke="#cbcbcb" stroke-width="1.0" stroke-dasharray="3.6,2.8"/>
<line x1="46.1" y1="180.7" x2="330" y2="180.7" stroke="#cbcbcb" stroke-width="1.0" stroke-dasharray="3.6,2.8"/>
<line x1="46.1" y1="199.4" x2="330" y2="199.4" stroke="#cbcbcb" stroke-width="1.0" stroke-dasharray="3.6,2.8"/>
<line x1="46.1" y1="218.2" x2="330" y2="218.2" stroke="#cbcbcb" stroke-width="1.0" stroke-dasharray="3.6,2.8"/>
<line x1="46.1" y1="236.9" x2="330" y2="236.9" stroke="#cbcbcb" stroke-width="1.0" stroke-dasharray="3.6,2.8"/>
<line x1="102.9" y1="157.8" x2="102.9" y2="241.3" stroke="#cbcbcb" stroke-width="1.0" stroke-dasharray="3.6,2.8"/>
<line x1="159.6" y1="157.8" x2="159.6" y2="241.3" stroke="#cbcbcb" stroke-width="1.0" stroke-dasharray="3.6,2.8"/>
<line x1="216.3" y1="157.8" x2="216.3" y2="241.3" stroke="#cbcbcb" stroke-width="1.0" stroke-dasharray="3.6,2.8"/>
<line x1="273" y1="157.8" x2="273" y2="241.3" stroke="#cbcbcb" stroke-width="1.0" stroke-dasharray="3.6,2.8"/>
<line x1="46.1" y1="161.6" x2="330" y2="161.6" stroke="#a9d3ae" stroke-width="1.0"/>
<line x1="46.1" y1="161.6" x2="330" y2="161.6" stroke="#5aa566" stroke-width="1.0" stroke-dasharray="1.2,1.3"/>
<line x1="46.1" y1="173.3" x2="330" y2="173.3" stroke="#a9d3ae" stroke-width="1.0"/>
<line x1="46.1" y1="173.3" x2="330" y2="173.3" stroke="#5aa566" stroke-width="1.0" stroke-dasharray="1.2,1.3"/>
<line x1="46.1" y1="186.8" x2="330" y2="186.8" stroke="#a0c4c0" stroke-width="1.0"/>
<line x1="46.1" y1="186.8" x2="330" y2="186.8" stroke="#4f8a82" stroke-width="1.0" stroke-dasharray="1.2,1.3"/>
<line x1="46.1" y1="211.8" x2="330" y2="211.8" stroke="#a0c4c0" stroke-width="1.0"/>
<line x1="46.1" y1="211.8" x2="330" y2="211.8" stroke="#4f8a82" stroke-width="1.0" stroke-dasharray="1.2,1.3"/>
<line x1="46.1" y1="225.4" x2="330" y2="225.4" stroke="#a9d3ae" stroke-width="1.0"/>
<line x1="46.1" y1="225.4" x2="330" y2="225.4" stroke="#5aa566" stroke-width="1.0" stroke-dasharray="1.2,1.3"/>
<line x1="46.1" y1="238.5" x2="330" y2="238.5" stroke="#a9d3ae" stroke-width="1.0"/>
<line x1="46.1" y1="238.5" x2="330" y2="238.5" stroke="#5aa566" stroke-width="1.0" stroke-dasharray="1.2,1.3"/>
<line x1="46.1" y1="200.1" x2="330" y2="200.1" stroke="#a8a8cc" stroke-width="1.0"/>
<line x1="46.1" y1="200.1" x2="330" y2="200.1" stroke="#3a3a8a" stroke-width="1.0" stroke-dasharray="1.2,1.3"/>
<path d="M123.18 199.9h1.3v1.3h-1.3zM144.56 195.08h1.3v1.3h-1.3zM259.42 193.88h1.3v1.3h-1.3zM230.47 198.09h1.3v1.3h-1.3zM162.33 199.15h1.3v1.3h-1.3zM148.39 197.08h1.3v1.3h-1.3zM211.85 203.38h1.3v1.3h-1.3zM113.48 195.75h1.3v1.3h-1.3zM229.64 192.21h1.3v1.3h-1.3zM293.94 199.31h1.3v1.3h-1.3zM128.18 198.76h1.3v1.3h-1.3zM295.63 198.41h1.3v1.3h-1.3zM228.32 209.38h1.3v1.3h-1.3zM91.77 191.39h1.3v1.3h-1.3zM174.45 199.63h1.3v1.3h-1.3zM280.72 197.1h1.3v1.3h-1.3zM235.54 200.65h1.3v1.3h-1.3zM146.88 198.67h1.3v1.3h-1.3zM244.26 198.87h1.3v1.3h-1.3zM121.46 200.92h1.3v1.3h-1.3zM88.35 198.27h1.3v1.3h-1.3zM107.07 200.46h1.3v1.3h-1.3zM150.13 198.33h1.3v1.3h-1.3zM180.03 199.53h1.3v1.3h-1.3zM132.52 198.92h1.3v1.3h-1.3zM263.82 198.05h1.3v1.3h-1.3zM115.05 199.46h1.3v1.3h-1.3zM99.79 199.42h1.3v1.3h-1.3zM90.76 196.77h1.3v1.3h-1.3zM211.91 197.63h1.3v1.3h-1.3zM273.13 193.69h1.3v1.3h-1.3zM212.64 199.68h1.3v1.3h-1.3zM291.6 201.03h1.3v1.3h-1.3zM242.07 206.56h1.3v1.3h-1.3zM274.52 199.54h1.3v1.3h-1.3zM290.96 201.64h1.3v1.3h-1.3zM199.39 204.03h1.3v1.3h-1.3zM292.95 199.42h1.3v1.3h-1.3zM187.15 191.76h1.3v1.3h-1.3zM134.28 196.94h1.3v1.3h-1.3zM176.83 199.15h1.3v1.3h-1.3zM227.79 199.7h1.3v1.3h-1.3zM147.93 198.84h1.3v1.3h-1.3zM284.78 197.71h1.3v1.3h-1.3zM130.29 196.06h1.3v1.3h-1.3zM150.07 199.19h1.3v1.3h-1.3zM130.72 209.77h1.3v1.3h-1.3zM153.8 196.9h1.3v1.3h-1.3zM70.05 199.91h1.3v1.3h-1.3zM219.09 198h1.3v1.3h-1.3zM136.34 198.47h1.3v1.3h-1.3zM85.12 197.58h1.3v1.3h-1.3zM216.27 201.57h1.3v1.3h-1.3zM110.99 197.39h1.3v1.3h-1.3zM141.6 199.26h1.3v1.3h-1.3zM174.22 202.15h1.3v1.3h-1.3zM104.75 198.64h1.3v1.3h-1.3zM120.93 196.96h1.3v1.3h-1.3zM182.22 199.21h1.3v1.3h-1.3zM182.7 198.42h1.3v1.3h-1.3zM129.85 196.88h1.3v1.3h-1.3zM139.97 198.42h1.3v1.3h-1.3zM135.55 196.02h1.3v1.3h-1.3zM131.13 199.52h1.3v1.3h-1.3zM184.23 198h1.3v1.3h-1.3zM119.51 198.81h1.3v1.3h-1.3zM187.31 204.4h1.3v1.3h-1.3zM127.71 191.51h1.3v1.3h-1.3zM269.25 201.63h1.3v1.3h-1.3zM111.9 198.69h1.3v1.3h-1.3zM274.91 197.58h1.3v1.3h-1.3zM111.46 198.85h1.3v1.3h-1.3zM248.23 206.96h1.3v1.3h-1.3zM214.91 196.31h1.3v1.3h-1.3zM118.84 197.9h1.3v1.3h-1.3zM250.46 200.25h1.3v1.3h-1.3zM128.42 204.6h1.3v1.3h-1.3zM89.3 223.16h1.3v1.3h-1.3zM216.57 198.84h1.3v1.3h-1.3zM197.19 195.27h1.3v1.3h-1.3zM220.5 197.46h1.3v1.3h-1.3zM110.53 198.21h1.3v1.3h-1.3zM128.16 189.38h1.3v1.3h-1.3zM232.52 202.35h1.3v1.3h-1.3zM88.18 200.99h1.3v1.3h-1.3zM277.99 197.52h1.3v1.3h-1.3zM171.31 200.72h1.3v1.3h-1.3zM216.65 197.52h1.3v1.3h-1.3zM143.68 197.7h1.3v1.3h-1.3zM111.62 196.75h1.3v1.3h-1.3zM71.17 209.65h1.3v1.3h-1.3zM119.05 198.38h1.3v1.3h-1.3zM276.78 198.69h1.3v1.3h-1.3zM301.36 190.83h1.3v1.3h-1.3zM174.44 197.84h1.3v1.3h-1.3zM159.37 199.09h1.3v1.3h-1.3zM134.8 194.84h1.3v1.3h-1.3zM299.75 204.02h1.3v1.3h-1.3zM82.76 199.3h1.3v1.3h-1.3zM166.54 200.19h1.3v1.3h-1.3zM109.15 197.56h1.3v1.3h-1.3zM126.24 202.17h1.3v1.3h-1.3zM255.27 200.15h1.3v1.3h-1.3zM117.55 202.25h1.3v1.3h-1.3zM200.79 197.32h1.3v1.3h-1.3zM156.56 206.66h1.3v1.3h-1.3zM190.09 194.83h1.3v1.3h-1.3zM148.54 200.6h1.3v1.3h-1.3zM136.42 195.45h1.3v1.3h-1.3zM136.21 198.49h1.3v1.3h-1.3zM89.26 195.25h1.3v1.3h-1.3zM184 197.79h1.3v1.3h-1.3zM279.97 190.4h1.3v1.3h-1.3zM295.24 198.51h1.3v1.3h-1.3zM75.39 199.34h1.3v1.3h-1.3zM288.19 198.79h1.3v1.3h-1.3zM97.89 198.51h1.3v1.3h-1.3zM247.59 203.32h1.3v1.3h-1.3zM283.12 199.08h1.3v1.3h-1.3zM108.99 199.6h1.3v1.3h-1.3zM148.07 204.03h1.3v1.3h-1.3zM159.23 198.68h1.3v1.3h-1.3zM151.75 198.91h1.3v1.3h-1.3zM192.24 199.67h1.3v1.3h-1.3zM71 198.25h1.3v1.3h-1.3zM169.87 203.71h1.3v1.3h-1.3zM278.61 194.66h1.3v1.3h-1.3zM89.74 198.42h1.3v1.3h-1.3zM184.55 198.44h1.3v1.3h-1.3zM183.86 197.77h1.3v1.3h-1.3zM255.88 198.73h1.3v1.3h-1.3zM299.38 197.57h1.3v1.3h-1.3zM237.85 195.88h1.3v1.3h-1.3zM134.27 200.36h1.3v1.3h-1.3zM229.01 198.21h1.3v1.3h-1.3zM151.91 201.7h1.3v1.3h-1.3zM252.43 190.75h1.3v1.3h-1.3zM230.36 204.09h1.3v1.3h-1.3zM302.48 197.43h1.3v1.3h-1.3zM275.99 203.11h1.3v1.3h-1.3zM79.87 198.25h1.3v1.3h-1.3zM138.24 197.19h1.3v1.3h-1.3zM274.96 190.37h1.3v1.3h-1.3zM212.45 195.79h1.3v1.3h-1.3zM151.13 196.91h1.3v1.3h-1.3zM82.14 197.48h1.3v1.3h-1.3zM251.18 197.96h1.3v1.3h-1.3zM69.21 197.56h1.3v1.3h-1.3zM91.04 210.5h1.3v1.3h-1.3zM306.3 198.27h1.3v1.3h-1.3zM254.32 197.44h1.3v1.3h-1.3zM276.37 197.85h1.3v1.3h-1.3zM182.89 197.18h1.3v1.3h-1.3zM109.2 199.18h1.3v1.3h-1.3zM196.47 198.09h1.3v1.3h-1.3zM170.62 198.13h1.3v1.3h-1.3zM107.81 201.55h1.3v1.3h-1.3zM108.49 198.74h1.3v1.3h-1.3zM130.55 206.17h1.3v1.3h-1.3zM294.25 199.42h1.3v1.3h-1.3zM304.7 190.03h1.3v1.3h-1.3zM237.03 196.09h1.3v1.3h-1.3zM241.68 201.8h1.3v1.3h-1.3zM243.92 197.45h1.3v1.3h-1.3zM192.51 201h1.3v1.3h-1.3zM111.25 190.42h1.3v1.3h-1.3zM278.61 196.05h1.3v1.3h-1.3zM279.26 192.29h1.3v1.3h-1.3zM238.43 197.83h1.3v1.3h-1.3zM291.94 198.22h1.3v1.3h-1.3zM303.07 205.05h1.3v1.3h-1.3zM189.18 199.7h1.3v1.3h-1.3zM249.91 199.5h1.3v1.3h-1.3zM216.22 199.86h1.3v1.3h-1.3zM96.31 191.53h1.3v1.3h-1.3zM144.37 198.78h1.3v1.3h-1.3zM85.04 198.51h1.3v1.3h-1.3zM280.81 213.19h1.3v1.3h-1.3zM74.12 197.24h1.3v1.3h-1.3zM197.26 193.49h1.3v1.3h-1.3zM111.3 198.81h1.3v1.3h-1.3zM103.98 198.06h1.3v1.3h-1.3zM108.49 198.85h1.3v1.3h-1.3zM278.44 198.96h1.3v1.3h-1.3zM187.03 198.94h1.3v1.3h-1.3zM150.33 196.45h1.3v1.3h-1.3zM307.66 198.27h1.3v1.3h-1.3zM199.34 201.81h1.3v1.3h-1.3zM141.35 196.53h1.3v1.3h-1.3zM157.44 199.45h1.3v1.3h-1.3zM235.16 195.57h1.3v1.3h-1.3zM97.59 195.94h1.3v1.3h-1.3zM250.06 199.79h1.3v1.3h-1.3zM280.07 198.95h1.3v1.3h-1.3zM182.41 200.61h1.3v1.3h-1.3zM173.37 200.27h1.3v1.3h-1.3zM103.05 199.2h1.3v1.3h-1.3zM169.89 192.67h1.3v1.3h-1.3zM251.54 201.05h1.3v1.3h-1.3zM167.79 199.43h1.3v1.3h-1.3zM217.01 218.48h1.3v1.3h-1.3zM79.31 210.55h1.3v1.3h-1.3zM121.36 202.77h1.3v1.3h-1.3zM117.57 206.26h1.3v1.3h-1.3zM303.35 199.3h1.3v1.3h-1.3zM79.5 198.64h1.3v1.3h-1.3zM120.31 202.2h1.3v1.3h-1.3zM76.35 197.24h1.3v1.3h-1.3zM221.7 194.22h1.3v1.3h-1.3zM224.96 199.3h1.3v1.3h-1.3zM151.43 194.57h1.3v1.3h-1.3zM77.54 201.12h1.3v1.3h-1.3zM172.82 199.07h1.3v1.3h-1.3zM109.8 203.96h1.3v1.3h-1.3zM170.84 199.1h1.3v1.3h-1.3zM157.95 197.88h1.3v1.3h-1.3zM121.69 198.51h1.3v1.3h-1.3zM270 199.66h1.3v1.3h-1.3zM234.38 198.17h1.3v1.3h-1.3zM181.33 197.8h1.3v1.3h-1.3zM164.37 198.96h1.3v1.3h-1.3zM94.91 199.54h1.3v1.3h-1.3zM212.98 200.5h1.3v1.3h-1.3zM189.34 199.52h1.3v1.3h-1.3zM285.24 199.77h1.3v1.3h-1.3zM300.42 198.67h1.3v1.3h-1.3zM262.34 200.96h1.3v1.3h-1.3zM275.99 201.24h1.3v1.3h-1.3zM187.34 198.04h1.3v1.3h-1.3zM158.18 202.88h1.3v1.3h-1.3zM183.33 199.41h1.3v1.3h-1.3zM195.82 199.35h1.3v1.3h-1.3zM264.28 197.86h1.3v1.3h-1.3zM104.94 196.65h1.3v1.3h-1.3zM212.38 197.24h1.3v1.3h-1.3zM285.38 196.47h1.3v1.3h-1.3zM122.02 198.95h1.3v1.3h-1.3zM137.65 200.36h1.3v1.3h-1.3zM270.14 200.92h1.3v1.3h-1.3zM224.65 198.38h1.3v1.3h-1.3zM299.6 198.18h1.3v1.3h-1.3zM222.31 197.01h1.3v1.3h-1.3zM295.74 199.54h1.3v1.3h-1.3zM266.47 198.96h1.3v1.3h-1.3zM230.1 205.25h1.3v1.3h-1.3zM114.26 202.2h1.3v1.3h-1.3zM119.88 199.67h1.3v1.3h-1.3zM275.11 198.74h1.3v1.3h-1.3zM148.66 198.5h1.3v1.3h-1.3zM232.91 197.65h1.3v1.3h-1.3zM172.9 194.29h1.3v1.3h-1.3zM178.63 199.48h1.3v1.3h-1.3zM71.38 203.94h1.3v1.3h-1.3zM265.39 198.38h1.3v1.3h-1.3zM143.29 202.4h1.3v1.3h-1.3zM149.42 203.31h1.3v1.3h-1.3zM85.96 201.91h1.3v1.3h-1.3zM218.14 198.42h1.3v1.3h-1.3zM254.94 198.84h1.3v1.3h-1.3zM190.99 198.29h1.3v1.3h-1.3zM183.02 196.18h1.3v1.3h-1.3zM253.38 201.68h1.3v1.3h-1.3zM91.97 190.8h1.3v1.3h-1.3zM198.13 194.63h1.3v1.3h-1.3zM247.83 197.63h1.3v1.3h-1.3zM156.4 199.41h1.3v1.3h-1.3zM278.25 197.73h1.3v1.3h-1.3zM178.03 198.1h1.3v1.3h-1.3zM96.55 197.34h1.3v1.3h-1.3zM302.33 198.95h1.3v1.3h-1.3zM177.81 195.96h1.3v1.3h-1.3zM248.77 197.86h1.3v1.3h-1.3zM87.55 196.25h1.3v1.3h-1.3zM262.16 197.71h1.3v1.3h-1.3zM105.18 200.34h1.3v1.3h-1.3zM98.71 196.15h1.3v1.3h-1.3zM134.92 199.2h1.3v1.3h-1.3zM170.36 199h1.3v1.3h-1.3zM184.83 209.37h1.3v1.3h-1.3zM171.21 192.14h1.3v1.3h-1.3zM77.1 196.62h1.3v1.3h-1.3zM211.54 198.24h1.3v1.3h-1.3zM246.18 198.17h1.3v1.3h-1.3zM302.77 196.03h1.3v1.3h-1.3zM201.29 200.18h1.3v1.3h-1.3zM291.57 198.86h1.3v1.3h-1.3zM296.37 199.36h1.3v1.3h-1.3zM119.61 197.47h1.3v1.3h-1.3zM84.71 202.84h1.3v1.3h-1.3zM109.4 197.42h1.3v1.3h-1.3zM246.77 200.47h1.3v1.3h-1.3zM131.22 199.56h1.3v1.3h-1.3zM95.67 200.97h1.3v1.3h-1.3zM294.32 189.88h1.3v1.3h-1.3zM232.23 195.62h1.3v1.3h-1.3zM297.85 198.19h1.3v1.3h-1.3zM147.6 197.74h1.3v1.3h-1.3zM114.8 213.43h1.3v1.3h-1.3zM101.54 199.16h1.3v1.3h-1.3zM294.32 197.52h1.3v1.3h-1.3zM108.09 197.48h1.3v1.3h-1.3zM260.61 200.68h1.3v1.3h-1.3zM119.44 198.17h1.3v1.3h-1.3zM275.09 202.89h1.3v1.3h-1.3zM82.4 189.36h1.3v1.3h-1.3zM160.01 193.03h1.3v1.3h-1.3zM164.91 197.92h1.3v1.3h-1.3zM302.17 198.36h1.3v1.3h-1.3zM283.41 198.61h1.3v1.3h-1.3zM160.73 199.83h1.3v1.3h-1.3zM170.35 200.19h1.3v1.3h-1.3zM239.77 196.52h1.3v1.3h-1.3zM221.84 198.68h1.3v1.3h-1.3zM282.55 200.57h1.3v1.3h-1.3zM233.09 199.29h1.3v1.3h-1.3zM192.01 208.78h1.3v1.3h-1.3zM284.11 198.47h1.3v1.3h-1.3zM147.96 196.88h1.3v1.3h-1.3zM156.67 197.45h1.3v1.3h-1.3zM152.84 206.87h1.3v1.3h-1.3zM185.84 193.73h1.3v1.3h-1.3zM77.15 197.68h1.3v1.3h-1.3zM177.09 197.86h1.3v1.3h-1.3zM144.52 199.45h1.3v1.3h-1.3zM126.97 195.48h1.3v1.3h-1.3zM127.99 197.28h1.3v1.3h-1.3zM259.46 200.29h1.3v1.3h-1.3zM161.01 196.99h1.3v1.3h-1.3zM303.25 197.87h1.3v1.3h-1.3zM167.5 195.78h1.3v1.3h-1.3zM235.6 199.58h1.3v1.3h-1.3zM141.83 199.33h1.3v1.3h-1.3zM266.38 184.98h1.3v1.3h-1.3zM119.77 198.23h1.3v1.3h-1.3zM134.62 200.46h1.3v1.3h-1.3zM138.76 197.61h1.3v1.3h-1.3zM99.77 195.86h1.3v1.3h-1.3zM248.24 198.06h1.3v1.3h-1.3zM171.98 203.55h1.3v1.3h-1.3zM98.95 190.15h1.3v1.3h-1.3zM197.01 201.4h1.3v1.3h-1.3zM185.56 198.43h1.3v1.3h-1.3zM189.6 201.69h1.3v1.3h-1.3zM239.14 197.29h1.3v1.3h-1.3zM84.75 200.25h1.3v1.3h-1.3zM186.42 199.48h1.3v1.3h-1.3zM81.18 202.34h1.3v1.3h-1.3zM302.14 198.63h1.3v1.3h-1.3zM226.57 199.75h1.3v1.3h-1.3zM109.29 196.19h1.3v1.3h-1.3zM288.63 198.1h1.3v1.3h-1.3zM110.67 197.09h1.3v1.3h-1.3zM153.6 196.36h1.3v1.3h-1.3zM80.2 198.61h1.3v1.3h-1.3zM157.58 198.05h1.3v1.3h-1.3zM243.66 198.42h1.3v1.3h-1.3zM97.98 197h1.3v1.3h-1.3zM254.55 198.94h1.3v1.3h-1.3zM170.92 198.59h1.3v1.3h-1.3zM260.61 197.88h1.3v1.3h-1.3zM110.42 201.15h1.3v1.3h-1.3zM284.51 200.78h1.3v1.3h-1.3zM242.67 197.51h1.3v1.3h-1.3zM80.37 191.58h1.3v1.3h-1.3zM183.39 200.4h1.3v1.3h-1.3zM84.51 197.11h1.3v1.3h-1.3zM241.52 201.7h1.3v1.3h-1.3zM155.67 197.6h1.3v1.3h-1.3zM253.87 197.19h1.3v1.3h-1.3zM279.78 197.57h1.3v1.3h-1.3zM111 200.02h1.3v1.3h-1.3zM262.53 196.31h1.3v1.3h-1.3zM161.05 199.27h1.3v1.3h-1.3zM160.21 195.59h1.3v1.3h-1.3zM225.23 199.5h1.3v1.3h-1.3zM301.67 199h1.3v1.3h-1.3zM231.96 200.72h1.3v1.3h-1.3zM121.68 201.58h1.3v1.3h-1.3zM68.95 198.47h1.3v1.3h-1.3zM95.47 200.59h1.3v1.3h-1.3zM139.28 200.93h1.3v1.3h-1.3zM85.32 212.36h1.3v1.3h-1.3zM84.7 189.36h1.3v1.3h-1.3zM295.03 201.86h1.3v1.3h-1.3zM105.1 198.26h1.3v1.3h-1.3zM148.66 204.47h1.3v1.3h-1.3zM299.68 201.43h1.3v1.3h-1.3zM196.4 199.2h1.3v1.3h-1.3zM234.4 200.92h1.3v1.3h-1.3zM137.59 199.54h1.3v1.3h-1.3zM228.04 201.52h1.3v1.3h-1.3zM107.82 202.63h1.3v1.3h-1.3zM151.57 195.99h1.3v1.3h-1.3zM285.53 197.35h1.3v1.3h-1.3zM243.21 197.24h1.3v1.3h-1.3zM179.32 198.5h1.3v1.3h-1.3zM178.29 198.78h1.3v1.3h-1.3zM246.26 199.63h1.3v1.3h-1.3zM163.94 200.23h1.3v1.3h-1.3zM172.22 202.45h1.3v1.3h-1.3zM204.53 199.75h1.3v1.3h-1.3zM202.63 191.74h1.3v1.3h-1.3zM178.89 203.07h1.3v1.3h-1.3zM213.32 200.64h1.3v1.3h-1.3zM104.67 198.73h1.3v1.3h-1.3zM245.45 199.7h1.3v1.3h-1.3zM107.7 198h1.3v1.3h-1.3zM262.1 198.83h1.3v1.3h-1.3zM205.73 199.02h1.3v1.3h-1.3zM292.51 201.57h1.3v1.3h-1.3zM168.6 193.83h1.3v1.3h-1.3zM226.2 198.95h1.3v1.3h-1.3zM86.41 200.66h1.3v1.3h-1.3zM141.37 199.38h1.3v1.3h-1.3zM107.62 201.91h1.3v1.3h-1.3zM228.62 195.78h1.3v1.3h-1.3zM97.79 190.88h1.3v1.3h-1.3zM187.99 196.16h1.3v1.3h-1.3zM129.24 196.33h1.3v1.3h-1.3zM108.96 195.56h1.3v1.3h-1.3zM263.24 202.32h1.3v1.3h-1.3zM127.12 199.18h1.3v1.3h-1.3zM87.94 175.86h1.3v1.3h-1.3zM162.64 198.13h1.3v1.3h-1.3zM119.21 199.2h1.3v1.3h-1.3zM239.5 202.13h1.3v1.3h-1.3zM216.72 199.63h1.3v1.3h-1.3zM295.65 196.1h1.3v1.3h-1.3zM272.32 198.03h1.3v1.3h-1.3zM142.01 199.85h1.3v1.3h-1.3zM274.62 201.83h1.3v1.3h-1.3zM129.31 197.28h1.3v1.3h-1.3zM272.82 198.05h1.3v1.3h-1.3zM103.51 205.43h1.3v1.3h-1.3zM290.79 198.87h1.3v1.3h-1.3zM203.75 200.56h1.3v1.3h-1.3zM178.18 199.43h1.3v1.3h-1.3zM165.15 200.15h1.3v1.3h-1.3zM159.07 195.99h1.3v1.3h-1.3zM106.43 196.76h1.3v1.3h-1.3zM219.71 185.97h1.3v1.3h-1.3zM153.9 192.63h1.3v1.3h-1.3zM279.27 199.08h1.3v1.3h-1.3zM98.41 197.62h1.3v1.3h-1.3zM180.7 200.72h1.3v1.3h-1.3zM208.75 196.09h1.3v1.3h-1.3zM243.07 201.93h1.3v1.3h-1.3zM225.45 199.76h1.3v1.3h-1.3zM170.79 182.41h1.3v1.3h-1.3zM243.69 195.25h1.3v1.3h-1.3zM238.54 197.92h1.3v1.3h-1.3zM160.05 199.82h1.3v1.3h-1.3zM171.15 199.76h1.3v1.3h-1.3zM153.58 205.54h1.3v1.3h-1.3zM254.68 196.91h1.3v1.3h-1.3zM103.02 198.99h1.3v1.3h-1.3zM263.76 198.6h1.3v1.3h-1.3zM209.41 197.64h1.3v1.3h-1.3zM157.55 197.27h1.3v1.3h-1.3zM294.09 196.49h1.3v1.3h-1.3zM297.77 200.59h1.3v1.3h-1.3zM300.35 198.21h1.3v1.3h-1.3zM92.97 196.41h1.3v1.3h-1.3zM186.09 203.9h1.3v1.3h-1.3zM288.93 197.9h1.3v1.3h-1.3zM70.97 199.12h1.3v1.3h-1.3zM140.54 195.9h1.3v1.3h-1.3zM178.67 183.53h1.3v1.3h-1.3zM135.3 196.78h1.3v1.3h-1.3zM205.44 199.03h1.3v1.3h-1.3zM197 197.25h1.3v1.3h-1.3zM270.59 199.18h1.3v1.3h-1.3zM126.1 214.76h1.3v1.3h-1.3zM249.55 208.04h1.3v1.3h-1.3zM186.8 198.19h1.3v1.3h-1.3zM299.55 197.82h1.3v1.3h-1.3zM273.98 201.37h1.3v1.3h-1.3zM73.76 177.99h1.3v1.3h-1.3zM164.35 197.17h1.3v1.3h-1.3zM129.81 201.09h1.3v1.3h-1.3zM185.49 200.12h1.3v1.3h-1.3zM306.94 199.16h1.3v1.3h-1.3zM207.29 198.29h1.3v1.3h-1.3zM85.35 213.64h1.3v1.3h-1.3zM247.47 202.44h1.3v1.3h-1.3zM116.85 198.5h1.3v1.3h-1.3zM179.45 199.9h1.3v1.3h-1.3zM220.84 197.87h1.3v1.3h-1.3zM287.01 199.21h1.3v1.3h-1.3zM150.42 212.23h1.3v1.3h-1.3zM227.8 203.31h1.3v1.3h-1.3zM77.29 196.4h1.3v1.3h-1.3zM83.77 205.19h1.3v1.3h-1.3zM170.52 202.81h1.3v1.3h-1.3zM209.82 208.17h1.3v1.3h-1.3zM136.58 213.49h1.3v1.3h-1.3zM246.35 199.47h1.3v1.3h-1.3zM145.54 198.71h1.3v1.3h-1.3zM133.43 197.24h1.3v1.3h-1.3zM235.17 197.57h1.3v1.3h-1.3zM238.21 196.73h1.3v1.3h-1.3zM302.16 195.92h1.3v1.3h-1.3zM100.58 195.25h1.3v1.3h-1.3zM91.88 202.72h1.3v1.3h-1.3zM267.63 193.83h1.3v1.3h-1.3zM134.87 199.39h1.3v1.3h-1.3zM285.43 196.64h1.3v1.3h-1.3zM205.46 202.28h1.3v1.3h-1.3zM212.66 196.94h1.3v1.3h-1.3zM69.97 202.51h1.3v1.3h-1.3zM204.22 201.15h1.3v1.3h-1.3zM276.9 198.36h1.3v1.3h-1.3zM306.37 198.85h1.3v1.3h-1.3zM159.81 199h1.3v1.3h-1.3zM108.99 205.06h1.3v1.3h-1.3zM284.86 195.7h1.3v1.3h-1.3zM167.89 201.3h1.3v1.3h-1.3zM176.94 203.48h1.3v1.3h-1.3zM180.98 199.59h1.3v1.3h-1.3zM199.69 203.55h1.3v1.3h-1.3zM83.34 198.65h1.3v1.3h-1.3zM72.49 197.7h1.3v1.3h-1.3zM252.18 198.65h1.3v1.3h-1.3zM220.05 199.39h1.3v1.3h-1.3zM163.05 193.04h1.3v1.3h-1.3zM225.28 198.36h1.3v1.3h-1.3zM239.21 199.33h1.3v1.3h-1.3zM138.43 194.75h1.3v1.3h-1.3zM162.53 202.78h1.3v1.3h-1.3zM127.98 197.2h1.3v1.3h-1.3zM101.86 199.11h1.3v1.3h-1.3zM210.29 198.71h1.3v1.3h-1.3zM245.15 199.18h1.3v1.3h-1.3zM214.13 197.8h1.3v1.3h-1.3zM129.89 195.94h1.3v1.3h-1.3zM222.15 189.83h1.3v1.3h-1.3zM167.09 204.11h1.3v1.3h-1.3zM175.57 193.23h1.3v1.3h-1.3zM71.97 196.86h1.3v1.3h-1.3zM255.04 185.88h1.3v1.3h-1.3zM283.33 209.43h1.3v1.3h-1.3zM138.54 199.78h1.3v1.3h-1.3zM155.33 199.97h1.3v1.3h-1.3zM186.32 194.53h1.3v1.3h-1.3zM163.92 209.23h1.3v1.3h-1.3zM157.14 197.65h1.3v1.3h-1.3zM247.14 209.39h1.3v1.3h-1.3zM225.05 198.62h1.3v1.3h-1.3zM145.53 195.43h1.3v1.3h-1.3zM220.51 198.59h1.3v1.3h-1.3zM232.21 197.61h1.3v1.3h-1.3zM174.03 202.22h1.3v1.3h-1.3zM131.17 186.19h1.3v1.3h-1.3zM275.08 198.37h1.3v1.3h-1.3zM70.22 197.18h1.3v1.3h-1.3zM240.76 195.97h1.3v1.3h-1.3zM262.19 197.84h1.3v1.3h-1.3zM119.27 198.63h1.3v1.3h-1.3zM205.08 199.17h1.3v1.3h-1.3zM303.57 198.25h1.3v1.3h-1.3zM140.93 198.31h1.3v1.3h-1.3zM215.88 198.69h1.3v1.3h-1.3zM167.73 197.32h1.3v1.3h-1.3zM174.25 198.35h1.3v1.3h-1.3zM248.75 198.84h1.3v1.3h-1.3zM199.14 200.1h1.3v1.3h-1.3zM135.16 205.54h1.3v1.3h-1.3zM246.05 199.28h1.3v1.3h-1.3zM202.51 199.93h1.3v1.3h-1.3zM142.44 197.56h1.3v1.3h-1.3zM211.55 200.19h1.3v1.3h-1.3zM246.24 198.22h1.3v1.3h-1.3zM84.15 196.92h1.3v1.3h-1.3zM108.39 198.07h1.3v1.3h-1.3zM153.13 205.21h1.3v1.3h-1.3zM128.42 197.74h1.3v1.3h-1.3zM204.21 199.45h1.3v1.3h-1.3zM80.58 197.95h1.3v1.3h-1.3zM288.16 198.11h1.3v1.3h-1.3zM244.62 199.97h1.3v1.3h-1.3zM169.13 190.32h1.3v1.3h-1.3zM105.16 203.58h1.3v1.3h-1.3zM83.84 194.77h1.3v1.3h-1.3zM245.52 197.05h1.3v1.3h-1.3zM204.24 200.26h1.3v1.3h-1.3zM168.05 196.51h1.3v1.3h-1.3zM143.88 202.1h1.3v1.3h-1.3zM81.8 198.75h1.3v1.3h-1.3zM250.11 198.74h1.3v1.3h-1.3zM119.23 199.34h1.3v1.3h-1.3zM132.83 195.03h1.3v1.3h-1.3zM124.51 200.98h1.3v1.3h-1.3zM204.21 199.35h1.3v1.3h-1.3zM138.25 199.55h1.3v1.3h-1.3zM94.84 200.02h1.3v1.3h-1.3zM277.44 199.69h1.3v1.3h-1.3zM110.27 199.06h1.3v1.3h-1.3zM120.47 197.26h1.3v1.3h-1.3zM245.81 194.32h1.3v1.3h-1.3zM178.59 193.25h1.3v1.3h-1.3zM292.25 198.13h1.3v1.3h-1.3zM282.69 199.69h1.3v1.3h-1.3zM202.89 196.83h1.3v1.3h-1.3zM108.02 198.08h1.3v1.3h-1.3zM142.42 199.44h1.3v1.3h-1.3zM227.48 198.16h1.3v1.3h-1.3zM139.89 198.2h1.3v1.3h-1.3zM191.42 197.09h1.3v1.3h-1.3zM98.07 198.83h1.3v1.3h-1.3zM202.96 197.78h1.3v1.3h-1.3zM293.94 197.85h1.3v1.3h-1.3zM217.62 198.04h1.3v1.3h-1.3zM137.46 199.82h1.3v1.3h-1.3zM96.51 200.19h1.3v1.3h-1.3zM211.79 197.04h1.3v1.3h-1.3zM200.68 199.22h1.3v1.3h-1.3zM249.36 197.25h1.3v1.3h-1.3zM69.29 168.73h1.3v1.3h-1.3zM105.18 197.53h1.3v1.3h-1.3zM215.84 198.51h1.3v1.3h-1.3zM206.16 198.48h1.3v1.3h-1.3zM236.75 199.02h1.3v1.3h-1.3zM282.5 183.24h1.3v1.3h-1.3zM252.41 200.21h1.3v1.3h-1.3zM214.79 199.63h1.3v1.3h-1.3zM306.45 199.25h1.3v1.3h-1.3zM149.34 182.58h1.3v1.3h-1.3zM126.42 199.2h1.3v1.3h-1.3zM133.04 197.84h1.3v1.3h-1.3zM219.01 197.94h1.3v1.3h-1.3zM97.41 198.08h1.3v1.3h-1.3zM166.34 182.65h1.3v1.3h-1.3zM151.14 202.59h1.3v1.3h-1.3zM97.35 200.26h1.3v1.3h-1.3zM266.99 200.94h1.3v1.3h-1.3zM268.15 208.98h1.3v1.3h-1.3zM128.93 191.91h1.3v1.3h-1.3zM90.15 194.33h1.3v1.3h-1.3zM218.76 198.15h1.3v1.3h-1.3zM117.61 196.82h1.3v1.3h-1.3zM208.31 199.67h1.3v1.3h-1.3zM162.22 222.81h1.3v1.3h-1.3zM274.55 197.44h1.3v1.3h-1.3zM143.36 199.41h1.3v1.3h-1.3zM193.08 198.71h1.3v1.3h-1.3zM88.47 198.87h1.3v1.3h-1.3zM155.95 198.75h1.3v1.3h-1.3zM284.64 200.56h1.3v1.3h-1.3zM103.59 195.91h1.3v1.3h-1.3zM248.78 195.19h1.3v1.3h-1.3zM176.49 200.95h1.3v1.3h-1.3zM203.72 198.63h1.3v1.3h-1.3zM282.64 198.61h1.3v1.3h-1.3zM284.25 193.47h1.3v1.3h-1.3zM173.02 199.28h1.3v1.3h-1.3zM306.37 199.24h1.3v1.3h-1.3zM136.83 199h1.3v1.3h-1.3zM122.11 200.83h1.3v1.3h-1.3zM216.13 196.05h1.3v1.3h-1.3zM209.96 206.29h1.3v1.3h-1.3zM193.29 196.38h1.3v1.3h-1.3zM142.24 197.11h1.3v1.3h-1.3zM172.43 179.16h1.3v1.3h-1.3zM199.45 199.69h1.3v1.3h-1.3zM75.2 198.26h1.3v1.3h-1.3zM84.38 197.68h1.3v1.3h-1.3zM78.08 198.59h1.3v1.3h-1.3zM269.36 196.22h1.3v1.3h-1.3zM217.01 196.23h1.3v1.3h-1.3zM143.73 199.1h1.3v1.3h-1.3zM206.15 197.75h1.3v1.3h-1.3zM278.52 198.49h1.3v1.3h-1.3zM92.66 195.7h1.3v1.3h-1.3zM115.77 198.94h1.3v1.3h-1.3zM147.68 197.12h1.3v1.3h-1.3zM178.36 198.82h1.3v1.3h-1.3zM154.42 200.71h1.3v1.3h-1.3zM271.63 198.57h1.3v1.3h-1.3zM199.23 192.19h1.3v1.3h-1.3zM87.12 202.23h1.3v1.3h-1.3zM131.71 193.97h1.3v1.3h-1.3zM190.07 200.75h1.3v1.3h-1.3zM250.24 198.3h1.3v1.3h-1.3zM219.12 198.52h1.3v1.3h-1.3zM306.93 199.67h1.3v1.3h-1.3zM145.93 196.71h1.3v1.3h-1.3zM217.01 198.46h1.3v1.3h-1.3zM298.11 197.66h1.3v1.3h-1.3zM175.82 201.49h1.3v1.3h-1.3zM107.35 200.55h1.3v1.3h-1.3zM123.77 201.04h1.3v1.3h-1.3zM165.12 198.3h1.3v1.3h-1.3zM98.66 198.67h1.3v1.3h-1.3zM182.41 199.94h1.3v1.3h-1.3zM300.68 196.39h1.3v1.3h-1.3zM278.74 197.5h1.3v1.3h-1.3zM211.35 203.69h1.3v1.3h-1.3zM292.79 199.6h1.3v1.3h-1.3zM219.08 199.08h1.3v1.3h-1.3zM88.13 189.32h1.3v1.3h-1.3zM225.28 193.78h1.3v1.3h-1.3zM209.47 196.48h1.3v1.3h-1.3zM223.14 195.73h1.3v1.3h-1.3zM130.85 198.91h1.3v1.3h-1.3zM243.98 197.37h1.3v1.3h-1.3zM196.4 196.86h1.3v1.3h-1.3zM299.97 200.49h1.3v1.3h-1.3zM99.55 199.2h1.3v1.3h-1.3zM194.44 187.88h1.3v1.3h-1.3zM272.68 200.85h1.3v1.3h-1.3zM108.8 199.27h1.3v1.3h-1.3zM253.34 199.39h1.3v1.3h-1.3zM292.21 195.71h1.3v1.3h-1.3zM245.22 200.3h1.3v1.3h-1.3zM224.98 198.9h1.3v1.3h-1.3zM120.56 200.26h1.3v1.3h-1.3zM290.72 200.36h1.3v1.3h-1.3zM88.53 181.58h1.3v1.3h-1.3zM156.26 205.53h1.3v1.3h-1.3zM82.17 200.19h1.3v1.3h-1.3zM180.51 199.22h1.3v1.3h-1.3zM244.96 191.06h1.3v1.3h-1.3zM188.8 205.84h1.3v1.3h-1.3zM124.77 199.05h1.3v1.3h-1.3zM219.64 199.39h1.3v1.3h-1.3zM245.34 197.19h1.3v1.3h-1.3zM129.47 199.46h1.3v1.3h-1.3zM147.3 203.84h1.3v1.3h-1.3zM118.17 200.72h1.3v1.3h-1.3zM177.2 189.52h1.3v1.3h-1.3zM82.92 186.87h1.3v1.3h-1.3zM168.45 197.74h1.3v1.3h-1.3zM89.05 196.75h1.3v1.3h-1.3zM131.12 198.98h1.3v1.3h-1.3zM305.72 198.45h1.3v1.3h-1.3zM85.42 200.84h1.3v1.3h-1.3zM139.38 200.39h1.3v1.3h-1.3zM159.77 200.97h1.3v1.3h-1.3zM267.36 198.79h1.3v1.3h-1.3zM95.98 191.18h1.3v1.3h-1.3zM290.6 198.49h1.3v1.3h-1.3zM241.35 198.34h1.3v1.3h-1.3zM283.62 198.5h1.3v1.3h-1.3zM264.74 198.41h1.3v1.3h-1.3zM209.31 198.53h1.3v1.3h-1.3zM81.52 186.4h1.3v1.3h-1.3zM284.79 199.15h1.3v1.3h-1.3zM208.27 199.21h1.3v1.3h-1.3zM109.35 199.01h1.3v1.3h-1.3zM296.6 198.44h1.3v1.3h-1.3zM108.02 199.8h1.3v1.3h-1.3zM115.58 196.14h1.3v1.3h-1.3zM213.54 198.38h1.3v1.3h-1.3zM245.18 199.21h1.3v1.3h-1.3zM100.41 196.22h1.3v1.3h-1.3zM163.03 196.88h1.3v1.3h-1.3zM176.09 207.14h1.3v1.3h-1.3zM178.24 198.24h1.3v1.3h-1.3zM183.34 194.88h1.3v1.3h-1.3zM176.85 197.81h1.3v1.3h-1.3zM73.03 202.19h1.3v1.3h-1.3zM292.26 197.44h1.3v1.3h-1.3zM206.86 198.5h1.3v1.3h-1.3zM237.6 196.91h1.3v1.3h-1.3zM227.26 198.07h1.3v1.3h-1.3zM297.52 199.29h1.3v1.3h-1.3zM201.18 204.1h1.3v1.3h-1.3zM153.13 198.57h1.3v1.3h-1.3zM248.78 198.97h1.3v1.3h-1.3zM112.35 199.57h1.3v1.3h-1.3zM210.89 197.49h1.3v1.3h-1.3zM245.41 198.69h1.3v1.3h-1.3zM204.92 194.14h1.3v1.3h-1.3zM269.87 199.88h1.3v1.3h-1.3zM103.12 198.63h1.3v1.3h-1.3zM263.52 197.08h1.3v1.3h-1.3zM294.13 197h1.3v1.3h-1.3zM271.93 200.55h1.3v1.3h-1.3zM159.81 198.89h1.3v1.3h-1.3zM105.43 196.06h1.3v1.3h-1.3zM211.39 204.4h1.3v1.3h-1.3zM130.96 198.82h1.3v1.3h-1.3zM236.47 198.98h1.3v1.3h-1.3zM144.29 197.12h1.3v1.3h-1.3zM240.76 197.57h1.3v1.3h-1.3zM162.15 196.43h1.3v1.3h-1.3zM182.52 198.73h1.3v1.3h-1.3zM286.52 198.53h1.3v1.3h-1.3zM164 198.17h1.3v1.3h-1.3zM81.44 199.96h1.3v1.3h-1.3zM298.75 198.88h1.3v1.3h-1.3zM108.3 194.4h1.3v1.3h-1.3zM138.59 196.79h1.3v1.3h-1.3zM251.71 199.85h1.3v1.3h-1.3zM68.97 195.41h1.3v1.3h-1.3zM250.01 201.03h1.3v1.3h-1.3zM186.44 197.8h1.3v1.3h-1.3zM228.85 201.72h1.3v1.3h-1.3zM149.22 200.05h1.3v1.3h-1.3zM141.32 192.37h1.3v1.3h-1.3zM297.15 199.04h1.3v1.3h-1.3zM282.61 198.72h1.3v1.3h-1.3zM221.55 198.04h1.3v1.3h-1.3zM152.19 198.58h1.3v1.3h-1.3zM92.74 198.63h1.3v1.3h-1.3zM84.69 181.57h1.3v1.3h-1.3zM134.27 199.59h1.3v1.3h-1.3zM244.49 195.88h1.3v1.3h-1.3zM130.6 198.31h1.3v1.3h-1.3zM130.55 201.12h1.3v1.3h-1.3zM194.94 198.42h1.3v1.3h-1.3zM252.69 197.17h1.3v1.3h-1.3zM303.44 199.41h1.3v1.3h-1.3zM298.37 198.27h1.3v1.3h-1.3zM205.06 198.89h1.3v1.3h-1.3zM223.22 192.13h1.3v1.3h-1.3zM148.58 198.36h1.3v1.3h-1.3zM104.47 197.1h1.3v1.3h-1.3zM219.21 211.69h1.3v1.3h-1.3zM105.56 197.03h1.3v1.3h-1.3zM281.58 201.29h1.3v1.3h-1.3zM104.12 190.83h1.3v1.3h-1.3zM228.49 198.9h1.3v1.3h-1.3zM81.75 198h1.3v1.3h-1.3zM233.1 199.79h1.3v1.3h-1.3zM116.05 200.42h1.3v1.3h-1.3zM225.44 217.43h1.3v1.3h-1.3zM269.55 201.83h1.3v1.3h-1.3zM75.02 195.3h1.3v1.3h-1.3zM151.7 199.56h1.3v1.3h-1.3zM100.06 194.42h1.3v1.3h-1.3zM133.31 197.25h1.3v1.3h-1.3zM152.41 198.29h1.3v1.3h-1.3zM300.93 204.46h1.3v1.3h-1.3zM155.94 199.52h1.3v1.3h-1.3zM233.88 197.95h1.3v1.3h-1.3zM133.55 200.17h1.3v1.3h-1.3zM127.98 194.11h1.3v1.3h-1.3zM162.71 189.89h1.3v1.3h-1.3zM215.85 198.53h1.3v1.3h-1.3zM209.76 196.27h1.3v1.3h-1.3zM164.45 200.5h1.3v1.3h-1.3zM112.4 198.44h1.3v1.3h-1.3zM267.89 197.6h1.3v1.3h-1.3zM202.27 199.21h1.3v1.3h-1.3zM210.74 196.9h1.3v1.3h-1.3zM243.03 198.25h1.3v1.3h-1.3zM119.41 196.27h1.3v1.3h-1.3zM296.15 197.47h1.3v1.3h-1.3zM257.98 198.78h1.3v1.3h-1.3zM258.98 200.46h1.3v1.3h-1.3zM247.6 198.66h1.3v1.3h-1.3zM117.83 211.44h1.3v1.3h-1.3zM224.65 198.64h1.3v1.3h-1.3zM127.05 183.35h1.3v1.3h-1.3zM195.32 199.67h1.3v1.3h-1.3zM281.83 198.86h1.3v1.3h-1.3zM196.43 197.88h1.3v1.3h-1.3zM84.68 203.47h1.3v1.3h-1.3zM246.81 190.22h1.3v1.3h-1.3zM301.81 198.26h1.3v1.3h-1.3zM255.51 199.46h1.3v1.3h-1.3zM227.69 199.7h1.3v1.3h-1.3zM86.96 190.33h1.3v1.3h-1.3zM137.03 201.48h1.3v1.3h-1.3zM80.75 199.06h1.3v1.3h-1.3zM166.5 204.5h1.3v1.3h-1.3zM220.99 198.35h1.3v1.3h-1.3zM264.96 192.2h1.3v1.3h-1.3zM159.63 198.13h1.3v1.3h-1.3zM157.84 200.75h1.3v1.3h-1.3zM115.76 197.47h1.3v1.3h-1.3zM81.06 197.53h1.3v1.3h-1.3zM233.89 199.65h1.3v1.3h-1.3zM173.28 198.32h1.3v1.3h-1.3zM206.69 197.23h1.3v1.3h-1.3zM236.35 198.61h1.3v1.3h-1.3zM164.47 196.73h1.3v1.3h-1.3zM271.96 197.69h1.3v1.3h-1.3zM183.73 198.42h1.3v1.3h-1.3zM197.72 196.79h1.3v1.3h-1.3zM263.8 196.88h1.3v1.3h-1.3zM140.42 197.07h1.3v1.3h-1.3zM243.75 198.03h1.3v1.3h-1.3zM133.7 198.64h1.3v1.3h-1.3zM250.8 197.94h1.3v1.3h-1.3zM215.34 200.04h1.3v1.3h-1.3zM297.4 200.29h1.3v1.3h-1.3zM182.1 198.72h1.3v1.3h-1.3zM242.67 202.32h1.3v1.3h-1.3zM84.23 201.51h1.3v1.3h-1.3zM239.91 199.5h1.3v1.3h-1.3zM198.2 197.91h1.3v1.3h-1.3zM124.02 199.85h1.3v1.3h-1.3zM260.42 200.01h1.3v1.3h-1.3zM115.95 200.28h1.3v1.3h-1.3zM189.39 198.52h1.3v1.3h-1.3zM222.91 201.13h1.3v1.3h-1.3zM90.07 200.38h1.3v1.3h-1.3zM204.34 192.18h1.3v1.3h-1.3zM96.15 216.79h1.3v1.3h-1.3zM286.81 199.14h1.3v1.3h-1.3zM122.43 206.25h1.3v1.3h-1.3zM206.05 198.77h1.3v1.3h-1.3zM293.11 197.84h1.3v1.3h-1.3zM175.35 201.87h1.3v1.3h-1.3zM71.51 198.89h1.3v1.3h-1.3zM160.05 199.92h1.3v1.3h-1.3zM210.73 198.12h1.3v1.3h-1.3zM198.21 194.74h1.3v1.3h-1.3zM298.95 197.98h1.3v1.3h-1.3zM91.42 197.47h1.3v1.3h-1.3zM96.26 203.65h1.3v1.3h-1.3zM159.76 193.92h1.3v1.3h-1.3zM173.09 199.39h1.3v1.3h-1.3zM263.95 199.89h1.3v1.3h-1.3zM110.48 197.33h1.3v1.3h-1.3zM74.32 198.19h1.3v1.3h-1.3zM236.32 197.72h1.3v1.3h-1.3zM175.53 197.21h1.3v1.3h-1.3zM78.62 198.95h1.3v1.3h-1.3zM291.11 200.6h1.3v1.3h-1.3zM79.7 210.72h1.3v1.3h-1.3zM182.93 197.72h1.3v1.3h-1.3zM155.12 199.59h1.3v1.3h-1.3zM296.96 196.93h1.3v1.3h-1.3zM169.7 197.03h1.3v1.3h-1.3zM119.18 194.95h1.3v1.3h-1.3zM274.5 192.87h1.3v1.3h-1.3zM193.59 198.86h1.3v1.3h-1.3zM106.96 195.97h1.3v1.3h-1.3zM101.37 198.92h1.3v1.3h-1.3zM212.34 221.58h1.3v1.3h-1.3zM83.36 196.81h1.3v1.3h-1.3zM151.6 195.7h1.3v1.3h-1.3zM231.82 199.08h1.3v1.3h-1.3zM239.91 189.95h1.3v1.3h-1.3zM226.12 198.44h1.3v1.3h-1.3zM102.4 198.54h1.3v1.3h-1.3zM73.44 199.09h1.3v1.3h-1.3zM223.78 206.38h1.3v1.3h-1.3zM159.55 199.07h1.3v1.3h-1.3zM200.67 198.98h1.3v1.3h-1.3zM99.32 198.48h1.3v1.3h-1.3zM102.59 190.98h1.3v1.3h-1.3zM108.26 196.23h1.3v1.3h-1.3zM239.09 197.38h1.3v1.3h-1.3zM118.06 206.87h1.3v1.3h-1.3zM119.48 197.24h1.3v1.3h-1.3zM264.1 200.72h1.3v1.3h-1.3zM158.07 199.13h1.3v1.3h-1.3zM262.4 205.55h1.3v1.3h-1.3zM188.75 197.99h1.3v1.3h-1.3zM206.62 199.49h1.3v1.3h-1.3zM154.24 197.84h1.3v1.3h-1.3zM181.19 209.88h1.3v1.3h-1.3zM165.3 198.43h1.3v1.3h-1.3zM198.97 198.76h1.3v1.3h-1.3zM282.08 197.24h1.3v1.3h-1.3zM216.98 200.75h1.3v1.3h-1.3zM207.68 200.9h1.3v1.3h-1.3zM219.32 200.44h1.3v1.3h-1.3zM72.85 196.43h1.3v1.3h-1.3zM123.95 207.68h1.3v1.3h-1.3zM167.92 192.57h1.3v1.3h-1.3zM302.22 197.07h1.3v1.3h-1.3zM246.09 197.25h1.3v1.3h-1.3zM286.73 202.43h1.3v1.3h-1.3zM201.97 197.77h1.3v1.3h-1.3zM276.62 197.41h1.3v1.3h-1.3zM180.05 199.24h1.3v1.3h-1.3zM285.51 199.07h1.3v1.3h-1.3zM305.95 198.01h1.3v1.3h-1.3zM227.78 203.4h1.3v1.3h-1.3zM183.83 198.23h1.3v1.3h-1.3zM238.79 200.23h1.3v1.3h-1.3zM296.17 199.51h1.3v1.3h-1.3zM179.67 198.71h1.3v1.3h-1.3zM233.8 199.17h1.3v1.3h-1.3zM80.18 200.6h1.3v1.3h-1.3zM207.93 198.6h1.3v1.3h-1.3zM141.5 199.47h1.3v1.3h-1.3zM251.96 198.45h1.3v1.3h-1.3zM138.64 197.63h1.3v1.3h-1.3zM212.64 192.13h1.3v1.3h-1.3zM187.94 197h1.3v1.3h-1.3zM307.23 197.69h1.3v1.3h-1.3zM277.13 199.27h1.3v1.3h-1.3zM89.85 203.45h1.3v1.3h-1.3zM287.11 197.68h1.3v1.3h-1.3zM252.01 197.29h1.3v1.3h-1.3zM95.48 196.49h1.3v1.3h-1.3zM247.5 198.2h1.3v1.3h-1.3zM288.73 198.41h1.3v1.3h-1.3zM140.6 205.21h1.3v1.3h-1.3zM201.64 196.8h1.3v1.3h-1.3zM105.35 200.65h1.3v1.3h-1.3zM156.96 200.94h1.3v1.3h-1.3zM186.65 198.23h1.3v1.3h-1.3zM172.18 193.88h1.3v1.3h-1.3zM114.02 188.49h1.3v1.3h-1.3zM303.56 198.07h1.3v1.3h-1.3zM73.28 199.86h1.3v1.3h-1.3zM111.01 198.49h1.3v1.3h-1.3zM140.32 195.71h1.3v1.3h-1.3zM128.26 199.03h1.3v1.3h-1.3zM83.25 184.65h1.3v1.3h-1.3zM165.12 199.74h1.3v1.3h-1.3zM126.14 226.54h1.3v1.3h-1.3zM148.4 197.83h1.3v1.3h-1.3zM94.54 210.68h1.3v1.3h-1.3zM275.52 197.58h1.3v1.3h-1.3zM256.71 198.75h1.3v1.3h-1.3zM72.38 201.82h1.3v1.3h-1.3zM76.44 205.56h1.3v1.3h-1.3zM228.07 198.78h1.3v1.3h-1.3zM133.49 200.56h1.3v1.3h-1.3zM153.81 196.88h1.3v1.3h-1.3zM184.8 197.88h1.3v1.3h-1.3zM294.73 198.65h1.3v1.3h-1.3zM97.6 198.81h1.3v1.3h-1.3zM154.71 198.2h1.3v1.3h-1.3zM251.08 204.59h1.3v1.3h-1.3zM209.62 198.16h1.3v1.3h-1.3zM156.29 202.58h1.3v1.3h-1.3zM190.91 199.26h1.3v1.3h-1.3zM77.33 227.99h1.3v1.3h-1.3zM152.2 197.91h1.3v1.3h-1.3zM234.7 199.57h1.3v1.3h-1.3zM72.97 207.62h1.3v1.3h-1.3zM185.34 194.23h1.3v1.3h-1.3zM110.39 200.35h1.3v1.3h-1.3zM113.98 200.18h1.3v1.3h-1.3zM140.91 200.87h1.3v1.3h-1.3zM120.27 188.95h1.3v1.3h-1.3zM95.82 198.4h1.3v1.3h-1.3zM136.81 200.46h1.3v1.3h-1.3zM251.58 197.4h1.3v1.3h-1.3zM208.27 195.99h1.3v1.3h-1.3zM253.63 199.41h1.3v1.3h-1.3zM269.09 200.93h1.3v1.3h-1.3zM239.92 200.36h1.3v1.3h-1.3zM117.71 210.08h1.3v1.3h-1.3zM160.21 199.05h1.3v1.3h-1.3zM140.13 197.27h1.3v1.3h-1.3zM248.27 197.97h1.3v1.3h-1.3zM216.33 198.74h1.3v1.3h-1.3zM219.47 200.22h1.3v1.3h-1.3zM276.52 198.79h1.3v1.3h-1.3zM125.66 199.89h1.3v1.3h-1.3zM133.55 197.7h1.3v1.3h-1.3zM225.54 197.47h1.3v1.3h-1.3zM271.82 195h1.3v1.3h-1.3zM71.5 203.29h1.3v1.3h-1.3zM286.85 198.58h1.3v1.3h-1.3zM132.79 208.92h1.3v1.3h-1.3zM146.35 200.57h1.3v1.3h-1.3zM222.2 200.22h1.3v1.3h-1.3zM287.74 198.41h1.3v1.3h-1.3zM84.62 193.43h1.3v1.3h-1.3zM180.76 198.43h1.3v1.3h-1.3zM262.67 193.62h1.3v1.3h-1.3zM187.44 197.02h1.3v1.3h-1.3zM212.58 199.78h1.3v1.3h-1.3zM239.72 199.96h1.3v1.3h-1.3zM218.94 199.85h1.3v1.3h-1.3zM72.27 200.64h1.3v1.3h-1.3zM281.36 201.04h1.3v1.3h-1.3zM127.39 198.96h1.3v1.3h-1.3zM171.16 199.79h1.3v1.3h-1.3zM270.61 199.8h1.3v1.3h-1.3zM152.55 198.29h1.3v1.3h-1.3zM173.33 196.89h1.3v1.3h-1.3zM213.8 199.87h1.3v1.3h-1.3zM152.58 198.85h1.3v1.3h-1.3zM135.33 200.32h1.3v1.3h-1.3zM193.46 197.9h1.3v1.3h-1.3zM111.59 192.68h1.3v1.3h-1.3zM163.37 197.92h1.3v1.3h-1.3zM119.74 197.88h1.3v1.3h-1.3zM98.37 197.22h1.3v1.3h-1.3zM300.83 200.31h1.3v1.3h-1.3zM265.69 201.5h1.3v1.3h-1.3zM297.94 197.54h1.3v1.3h-1.3zM168.6 196.52h1.3v1.3h-1.3zM131.11 198.63h1.3v1.3h-1.3zM283.94 199.37h1.3v1.3h-1.3zM129.88 200.06h1.3v1.3h-1.3zM171.41 210.67h1.3v1.3h-1.3zM217.28 199.18h1.3v1.3h-1.3zM119.53 199.45h1.3v1.3h-1.3zM184.92 191.81h1.3v1.3h-1.3zM257.9 200.24h1.3v1.3h-1.3zM212.21 198.06h1.3v1.3h-1.3zM148.54 200.09h1.3v1.3h-1.3zM103.05 196.4h1.3v1.3h-1.3zM175.78 190.91h1.3v1.3h-1.3zM180.16 203.52h1.3v1.3h-1.3zM135.13 197.04h1.3v1.3h-1.3zM161.84 199.02h1.3v1.3h-1.3zM159.59 195.85h1.3v1.3h-1.3zM95.1 201.8h1.3v1.3h-1.3zM285.1 200.05h1.3v1.3h-1.3zM259.19 203h1.3v1.3h-1.3zM213.56 198.74h1.3v1.3h-1.3zM130.03 192.54h1.3v1.3h-1.3zM201.54 218.05h1.3v1.3h-1.3zM156.41 196.85h1.3v1.3h-1.3zM119.47 198.87h1.3v1.3h-1.3zM135.84 199.27h1.3v1.3h-1.3zM206.95 196.7h1.3v1.3h-1.3zM140.44 199.8h1.3v1.3h-1.3zM221.63 198.29h1.3v1.3h-1.3zM274.25 193.67h1.3v1.3h-1.3zM245.51 196.98h1.3v1.3h-1.3zM280.35 196.28h1.3v1.3h-1.3zM279.82 193.49h1.3v1.3h-1.3zM248.73 198.26h1.3v1.3h-1.3zM185.08 195.3h1.3v1.3h-1.3zM120.99 198.91h1.3v1.3h-1.3zM81.92 198.06h1.3v1.3h-1.3zM160.69 200.82h1.3v1.3h-1.3zM96.89 198.73h1.3v1.3h-1.3zM96.76 198.45h1.3v1.3h-1.3zM140.02 197.57h1.3v1.3h-1.3zM150.47 194.27h1.3v1.3h-1.3zM302.27 196.28h1.3v1.3h-1.3zM102.49 203.04h1.3v1.3h-1.3zM217.54 198.08h1.3v1.3h-1.3zM76.17 201.82h1.3v1.3h-1.3zM270.55 199.6h1.3v1.3h-1.3zM94.96 196.37h1.3v1.3h-1.3zM161.77 199.33h1.3v1.3h-1.3zM186.37 210.7h1.3v1.3h-1.3zM258.07 197.94h1.3v1.3h-1.3zM183.27 200.42h1.3v1.3h-1.3zM134.72 197.67h1.3v1.3h-1.3zM259.33 200.52h1.3v1.3h-1.3zM116.77 199.46h1.3v1.3h-1.3zM299.58 197.31h1.3v1.3h-1.3zM223.74 196.58h1.3v1.3h-1.3zM74.74 198.48h1.3v1.3h-1.3zM297.95 196.63h1.3v1.3h-1.3zM275.15 199.84h1.3v1.3h-1.3zM117.29 197.44h1.3v1.3h-1.3zM303.27 199.16h1.3v1.3h-1.3zM169.3 196.93h1.3v1.3h-1.3zM302.54 200.34h1.3v1.3h-1.3zM192.08 206.6h1.3v1.3h-1.3zM165.98 199.45h1.3v1.3h-1.3zM157.45 200.69h1.3v1.3h-1.3zM246.44 200.01h1.3v1.3h-1.3zM252.79 197.57h1.3v1.3h-1.3zM264.55 199.37h1.3v1.3h-1.3zM253.08 198.98h1.3v1.3h-1.3zM104 201.16h1.3v1.3h-1.3zM81.24 198.37h1.3v1.3h-1.3zM140.85 208.43h1.3v1.3h-1.3zM147.88 196.3h1.3v1.3h-1.3zM161.54 211.01h1.3v1.3h-1.3zM204.93 202.83h1.3v1.3h-1.3zM134.26 200.28h1.3v1.3h-1.3zM302.05 201.23h1.3v1.3h-1.3zM159.1 196.93h1.3v1.3h-1.3zM120.5 197.94h1.3v1.3h-1.3zM164.36 198.82h1.3v1.3h-1.3zM175.92 198.27h1.3v1.3h-1.3zM200.05 198h1.3v1.3h-1.3zM113.72 208.24h1.3v1.3h-1.3zM175.66 198.75h1.3v1.3h-1.3zM293.53 198.44h1.3v1.3h-1.3zM100.3 199h1.3v1.3h-1.3zM260.2 202.89h1.3v1.3h-1.3zM127.03 201.34h1.3v1.3h-1.3zM147.44 200.24h1.3v1.3h-1.3zM281.63 199.23h1.3v1.3h-1.3zM179.26 186.14h1.3v1.3h-1.3zM290.41 198.09h1.3v1.3h-1.3zM72.13 196.68h1.3v1.3h-1.3zM200.92 195.33h1.3v1.3h-1.3zM86.65 200.98h1.3v1.3h-1.3zM189.58 197.86h1.3v1.3h-1.3zM249.76 209.99h1.3v1.3h-1.3zM102.99 198.88h1.3v1.3h-1.3zM121.67 197.72h1.3v1.3h-1.3zM269.75 198.14h1.3v1.3h-1.3zM248.46 187.44h1.3v1.3h-1.3zM205.27 197.3h1.3v1.3h-1.3zM209.6 199.82h1.3v1.3h-1.3zM115.75 205.61h1.3v1.3h-1.3zM192.18 198.91h1.3v1.3h-1.3zM283.61 199.42h1.3v1.3h-1.3zM172.25 198.92h1.3v1.3h-1.3zM85.82 199.49h1.3v1.3h-1.3zM293.68 201.19h1.3v1.3h-1.3zM255.55 199.22h1.3v1.3h-1.3zM86.59 176.9h1.3v1.3h-1.3zM168.92 195.72h1.3v1.3h-1.3zM105.27 197.61h1.3v1.3h-1.3zM280.13 198.92h1.3v1.3h-1.3zM225.27 202.16h1.3v1.3h-1.3zM291.05 198.66h1.3v1.3h-1.3zM181.12 199.32h1.3v1.3h-1.3zM305.5 200.4h1.3v1.3h-1.3zM87.04 193.87h1.3v1.3h-1.3zM124.51 198.64h1.3v1.3h-1.3zM261.99 199.08h1.3v1.3h-1.3zM210.05 198.19h1.3v1.3h-1.3zM288.9 197.82h1.3v1.3h-1.3zM158.11 199.45h1.3v1.3h-1.3zM69.4 216.12h1.3v1.3h-1.3zM180.77 198.81h1.3v1.3h-1.3zM101.88 195.03h1.3v1.3h-1.3zM106.51 197.55h1.3v1.3h-1.3zM120.11 198.1h1.3v1.3h-1.3zM117.21 203.14h1.3v1.3h-1.3zM169.63 196.95h1.3v1.3h-1.3zM203.69 198.11h1.3v1.3h-1.3zM266.4 199.78h1.3v1.3h-1.3zM75.64 201.38h1.3v1.3h-1.3zM83.64 198.85h1.3v1.3h-1.3zM151.17 188.3h1.3v1.3h-1.3zM169.45 196.95h1.3v1.3h-1.3zM92.35 199.8h1.3v1.3h-1.3zM252.57 196.2h1.3v1.3h-1.3zM129.68 198.62h1.3v1.3h-1.3zM304.92 198.46h1.3v1.3h-1.3zM224.88 199.16h1.3v1.3h-1.3zM85.01 199.29h1.3v1.3h-1.3zM285.65 195.67h1.3v1.3h-1.3zM176.78 197.73h1.3v1.3h-1.3zM260.85 198.85h1.3v1.3h-1.3zM241.49 198.71h1.3v1.3h-1.3zM137.79 196.73h1.3v1.3h-1.3zM186.86 201.28h1.3v1.3h-1.3zM80.75 179.48h1.3v1.3h-1.3zM78.35 200.77h1.3v1.3h-1.3zM149.49 192.38h1.3v1.3h-1.3zM288.14 205.45h1.3v1.3h-1.3zM244.54 196.51h1.3v1.3h-1.3zM251.6 199.7h1.3v1.3h-1.3zM169.68 198.86h1.3v1.3h-1.3zM297.63 200.8h1.3v1.3h-1.3zM204.21 197.63h1.3v1.3h-1.3zM213.43 198.96h1.3v1.3h-1.3zM282.63 199.29h1.3v1.3h-1.3zM124.87 199.97h1.3v1.3h-1.3zM121.86 196.42h1.3v1.3h-1.3zM199.76 203.5h1.3v1.3h-1.3zM198.92 196.18h1.3v1.3h-1.3zM220.29 196.65h1.3v1.3h-1.3zM93.09 196.03h1.3v1.3h-1.3zM136.02 200.62h1.3v1.3h-1.3zM130.42 197.36h1.3v1.3h-1.3zM185.61 197.59h1.3v1.3h-1.3zM209.53 197.66h1.3v1.3h-1.3zM171.92 198.16h1.3v1.3h-1.3zM280.93 198.34h1.3v1.3h-1.3zM167.2 196.67h1.3v1.3h-1.3zM197.04 196.56h1.3v1.3h-1.3zM97.96 199.29h1.3v1.3h-1.3zM188.55 198.54h1.3v1.3h-1.3zM296.35 200.18h1.3v1.3h-1.3zM282.16 199.07h1.3v1.3h-1.3zM71.84 198.42h1.3v1.3h-1.3zM303.85 194.67h1.3v1.3h-1.3zM202.1 198.73h1.3v1.3h-1.3zM264.08 199.3h1.3v1.3h-1.3zM124.23 200.97h1.3v1.3h-1.3zM84.51 203.59h1.3v1.3h-1.3zM281.41 200.93h1.3v1.3h-1.3zM185.71 200.84h1.3v1.3h-1.3zM131.52 200.93h1.3v1.3h-1.3zM131.46 200.24h1.3v1.3h-1.3zM160.09 198.79h1.3v1.3h-1.3zM121.62 196.59h1.3v1.3h-1.3zM128.06 214.15h1.3v1.3h-1.3zM213.44 198.92h1.3v1.3h-1.3zM289.53 197.79h1.3v1.3h-1.3zM223.14 196.81h1.3v1.3h-1.3zM196.74 196.23h1.3v1.3h-1.3zM107.33 201.08h1.3v1.3h-1.3zM70.36 198.24h1.3v1.3h-1.3zM273.18 198.97h1.3v1.3h-1.3zM273.87 199.98h1.3v1.3h-1.3zM277.34 197.96h1.3v1.3h-1.3zM110.67 199.71h1.3v1.3h-1.3zM75.12 197.48h1.3v1.3h-1.3zM183.01 195.28h1.3v1.3h-1.3zM176.99 195.47h1.3v1.3h-1.3zM191.29 197.55h1.3v1.3h-1.3zM240.22 207.46h1.3v1.3h-1.3zM275.3 198.06h1.3v1.3h-1.3zM186.63 201.34h1.3v1.3h-1.3zM254.28 198.77h1.3v1.3h-1.3zM70.19 203.18h1.3v1.3h-1.3zM119.58 212.61h1.3v1.3h-1.3zM127.8 192.38h1.3v1.3h-1.3zM161.97 196.97h1.3v1.3h-1.3zM274.75 202.06h1.3v1.3h-1.3zM110.48 199.56h1.3v1.3h-1.3zM268.46 198.98h1.3v1.3h-1.3zM106.8 203.35h1.3v1.3h-1.3zM106.36 199.5h1.3v1.3h-1.3zM155.31 198.89h1.3v1.3h-1.3zM182.73 210.28h1.3v1.3h-1.3zM274.2 199.94h1.3v1.3h-1.3zM209.94 196.92h1.3v1.3h-1.3zM138.09 199.15h1.3v1.3h-1.3zM105.27 199.09h1.3v1.3h-1.3zM205.42 200.94h1.3v1.3h-1.3zM252.79 199.07h1.3v1.3h-1.3zM174.48 197.8h1.3v1.3h-1.3zM122.89 200.18h1.3v1.3h-1.3zM141.13 196.95h1.3v1.3h-1.3zM176.56 198.17h1.3v1.3h-1.3zM277.54 199.06h1.3v1.3h-1.3zM286.26 196.23h1.3v1.3h-1.3zM94.05 189.2h1.3v1.3h-1.3zM85.99 196.68h1.3v1.3h-1.3zM137.07 197.51h1.3v1.3h-1.3zM69.26 202.17h1.3v1.3h-1.3zM194.14 198h1.3v1.3h-1.3zM297.61 198.57h1.3v1.3h-1.3zM251.8 197.53h1.3v1.3h-1.3zM143.37 198.72h1.3v1.3h-1.3zM73.47 197.24h1.3v1.3h-1.3zM223.68 200.52h1.3v1.3h-1.3zM245.05 199.33h1.3v1.3h-1.3zM275.72 202.87h1.3v1.3h-1.3zM274.52 199.26h1.3v1.3h-1.3zM244.29 198.22h1.3v1.3h-1.3zM200.72 197.43h1.3v1.3h-1.3zM160.05 198.89h1.3v1.3h-1.3zM147.46 199.62h1.3v1.3h-1.3zM257.52 200.4h1.3v1.3h-1.3zM212.27 197.87h1.3v1.3h-1.3zM288.14 188.82h1.3v1.3h-1.3zM251.73 196.44h1.3v1.3h-1.3zM125.16 188.5h1.3v1.3h-1.3zM97.3 197.48h1.3v1.3h-1.3zM70.97 197.88h1.3v1.3h-1.3zM87.26 196.67h1.3v1.3h-1.3zM155.65 198.48h1.3v1.3h-1.3zM289.86 199.37h1.3v1.3h-1.3zM146.47 191.89h1.3v1.3h-1.3zM76.13 198.41h1.3v1.3h-1.3zM271.34 198.36h1.3v1.3h-1.3zM176.9 196.03h1.3v1.3h-1.3zM196.15 196.69h1.3v1.3h-1.3zM221.59 196.14h1.3v1.3h-1.3zM92.65 203.02h1.3v1.3h-1.3zM193.07 193.25h1.3v1.3h-1.3zM137.83 198.33h1.3v1.3h-1.3zM127.35 199.41h1.3v1.3h-1.3zM75.3 197.68h1.3v1.3h-1.3zM184.44 199.8h1.3v1.3h-1.3zM79.71 199.3h1.3v1.3h-1.3zM89.67 193.53h1.3v1.3h-1.3zM211.47 194.22h1.3v1.3h-1.3zM218.94 201.11h1.3v1.3h-1.3zM274.94 197.68h1.3v1.3h-1.3zM287.81 200.82h1.3v1.3h-1.3zM186.82 196.98h1.3v1.3h-1.3zM265.62 198.71h1.3v1.3h-1.3zM111.67 198.4h1.3v1.3h-1.3zM197.96 199.2h1.3v1.3h-1.3zM290.27 197.55h1.3v1.3h-1.3zM84.28 199.76h1.3v1.3h-1.3zM257.46 204.52h1.3v1.3h-1.3zM107.27 196.03h1.3v1.3h-1.3zM79.11 166.44h1.3v1.3h-1.3zM197.03 199.35h1.3v1.3h-1.3zM277.45 198.97h1.3v1.3h-1.3zM148.47 203.86h1.3v1.3h-1.3zM123.35 197.34h1.3v1.3h-1.3zM143.55 199.06h1.3v1.3h-1.3zM123.15 199.72h1.3v1.3h-1.3zM192.73 197.82h1.3v1.3h-1.3zM94.22 198.52h1.3v1.3h-1.3zM111.45 202.38h1.3v1.3h-1.3zM254.91 199.37h1.3v1.3h-1.3zM121.62 198.15h1.3v1.3h-1.3zM229.48 198.74h1.3v1.3h-1.3zM175.89 205.77h1.3v1.3h-1.3zM95.26 207.41h1.3v1.3h-1.3zM155.72 197.01h1.3v1.3h-1.3zM120.84 218.21h1.3v1.3h-1.3zM253.17 198.07h1.3v1.3h-1.3zM283.24 199.65h1.3v1.3h-1.3zM233.26 196.99h1.3v1.3h-1.3zM187.55 198.21h1.3v1.3h-1.3zM301.37 197.87h1.3v1.3h-1.3zM115.05 205.21h1.3v1.3h-1.3zM88.18 199.04h1.3v1.3h-1.3zM119.73 201.57h1.3v1.3h-1.3zM185.22 199.02h1.3v1.3h-1.3zM246.61 198.87h1.3v1.3h-1.3zM91.82 200.04h1.3v1.3h-1.3zM294.01 198.61h1.3v1.3h-1.3zM188.03 197.82h1.3v1.3h-1.3zM261.61 196.27h1.3v1.3h-1.3zM235.88 197.38h1.3v1.3h-1.3zM90.45 195.36h1.3v1.3h-1.3zM266.28 198.9h1.3v1.3h-1.3zM149.71 206.98h1.3v1.3h-1.3zM199.47 196.23h1.3v1.3h-1.3zM217.75 201.01h1.3v1.3h-1.3zM151.49 200.19h1.3v1.3h-1.3zM129.52 198.5h1.3v1.3h-1.3zM166.88 198.94h1.3v1.3h-1.3zM243.77 198.45h1.3v1.3h-1.3zM224.88 196.18h1.3v1.3h-1.3zM185.91 199.58h1.3v1.3h-1.3zM263.61 198.73h1.3v1.3h-1.3zM114.95 196.1h1.3v1.3h-1.3zM281.48 200.78h1.3v1.3h-1.3zM163.54 191.94h1.3v1.3h-1.3zM73.99 196.42h1.3v1.3h-1.3zM196.7 181.67h1.3v1.3h-1.3zM181.86 198.39h1.3v1.3h-1.3zM133.98 199.04h1.3v1.3h-1.3zM196.68 197.88h1.3v1.3h-1.3zM236.11 198.11h1.3v1.3h-1.3zM292.45 196.54h1.3v1.3h-1.3zM77.35 203.82h1.3v1.3h-1.3zM207.74 198.38h1.3v1.3h-1.3zM299.08 198.44h1.3v1.3h-1.3zM151.75 200.58h1.3v1.3h-1.3zM287.02 199.56h1.3v1.3h-1.3zM149.24 198.31h1.3v1.3h-1.3zM245.13 201.03h1.3v1.3h-1.3zM166.84 214.5h1.3v1.3h-1.3zM220.76 194.34h1.3v1.3h-1.3zM228.95 198.39h1.3v1.3h-1.3zM103.3 191.21h1.3v1.3h-1.3zM112.58 200.32h1.3v1.3h-1.3zM191.95 203.07h1.3v1.3h-1.3zM106.9 198.2h1.3v1.3h-1.3zM267.02 197.17h1.3v1.3h-1.3zM222.79 197.75h1.3v1.3h-1.3zM88.02 199.09h1.3v1.3h-1.3zM275.72 196.82h1.3v1.3h-1.3zM260.04 196.84h1.3v1.3h-1.3zM274.33 199.5h1.3v1.3h-1.3zM70.3 195.23h1.3v1.3h-1.3zM91.89 198.46h1.3v1.3h-1.3zM105.14 196.8h1.3v1.3h-1.3zM89.58 195.42h1.3v1.3h-1.3zM223.61 200.81h1.3v1.3h-1.3zM298.68 199.62h1.3v1.3h-1.3zM242.88 197.5h1.3v1.3h-1.3zM83.69 209.9h1.3v1.3h-1.3zM283.31 198.64h1.3v1.3h-1.3zM150.71 202.13h1.3v1.3h-1.3zM179.83 198.68h1.3v1.3h-1.3zM240.45 188.54h1.3v1.3h-1.3zM209.58 199.81h1.3v1.3h-1.3zM276.9 198.65h1.3v1.3h-1.3zM115.84 199.17h1.3v1.3h-1.3zM123.03 198.67h1.3v1.3h-1.3zM101.36 193.06h1.3v1.3h-1.3zM129.37 207.13h1.3v1.3h-1.3zM192.4 199.08h1.3v1.3h-1.3zM95.78 197.04h1.3v1.3h-1.3zM278.94 199.24h1.3v1.3h-1.3zM262.6 194.54h1.3v1.3h-1.3zM251.8 198.94h1.3v1.3h-1.3zM297.5 201.3h1.3v1.3h-1.3zM202.95 197.6h1.3v1.3h-1.3zM234.43 199.91h1.3v1.3h-1.3zM136.19 196.83h1.3v1.3h-1.3zM288.07 198.56h1.3v1.3h-1.3zM271.42 199.76h1.3v1.3h-1.3zM222.31 194.75h1.3v1.3h-1.3zM114.98 188.64h1.3v1.3h-1.3zM207.77 200.03h1.3v1.3h-1.3zM155.4 199.23h1.3v1.3h-1.3zM116.84 203.9h1.3v1.3h-1.3zM183.18 200.23h1.3v1.3h-1.3zM218.65 196.85h1.3v1.3h-1.3zM278.15 193.26h1.3v1.3h-1.3zM160.55 190.98h1.3v1.3h-1.3zM115.95 199.18h1.3v1.3h-1.3zM141.83 183.93h1.3v1.3h-1.3zM205.8 196.14h1.3v1.3h-1.3zM219 192.74h1.3v1.3h-1.3zM148.75 198.27h1.3v1.3h-1.3zM269.78 199.7h1.3v1.3h-1.3zM169.99 191.21h1.3v1.3h-1.3zM202.49 202.99h1.3v1.3h-1.3zM260.76 197.42h1.3v1.3h-1.3zM280.19 198.67h1.3v1.3h-1.3zM181.76 198.4h1.3v1.3h-1.3zM76.43 192.22h1.3v1.3h-1.3zM249.4 198.97h1.3v1.3h-1.3zM107.45 200.77h1.3v1.3h-1.3zM207.79 202.25h1.3v1.3h-1.3zM282.68 200.59h1.3v1.3h-1.3zM214.34 201.28h1.3v1.3h-1.3zM275.22 199.57h1.3v1.3h-1.3zM170.26 204.12h1.3v1.3h-1.3zM95.33 193.21h1.3v1.3h-1.3zM171.01 183.19h1.3v1.3h-1.3zM267.58 199.01h1.3v1.3h-1.3zM130.19 192.08h1.3v1.3h-1.3zM297.79 198.27h1.3v1.3h-1.3zM104.08 192.59h1.3v1.3h-1.3zM235.48 199.72h1.3v1.3h-1.3zM259.7 194.68h1.3v1.3h-1.3zM126.13 201.89h1.3v1.3h-1.3zM246.58 199.58h1.3v1.3h-1.3zM287.77 196.9h1.3v1.3h-1.3zM147.77 199.04h1.3v1.3h-1.3zM131.35 211.27h1.3v1.3h-1.3zM143.2 193.71h1.3v1.3h-1.3zM189.89 198.82h1.3v1.3h-1.3zM280.68 196.82h1.3v1.3h-1.3zM148.62 198.61h1.3v1.3h-1.3zM297.58 198.05h1.3v1.3h-1.3zM254.12 198.76h1.3v1.3h-1.3zM204.94 202.05h1.3v1.3h-1.3zM231.93 199.33h1.3v1.3h-1.3zM299.37 194.29h1.3v1.3h-1.3zM99.47 199.67h1.3v1.3h-1.3zM185.73 198.58h1.3v1.3h-1.3zM146.14 197.64h1.3v1.3h-1.3zM290.93 198.26h1.3v1.3h-1.3zM191.44 200.77h1.3v1.3h-1.3zM149.98 196.41h1.3v1.3h-1.3zM93.8 194.16h1.3v1.3h-1.3zM279.45 199.35h1.3v1.3h-1.3zM98.99 195.65h1.3v1.3h-1.3zM194.31 201.03h1.3v1.3h-1.3zM265.35 200.26h1.3v1.3h-1.3zM228.8 203.13h1.3v1.3h-1.3zM267.74 197.9h1.3v1.3h-1.3zM208.72 198.07h1.3v1.3h-1.3zM246.46 202.04h1.3v1.3h-1.3zM207.58 213.57h1.3v1.3h-1.3zM181.22 199.29h1.3v1.3h-1.3zM256.67 200.01h1.3v1.3h-1.3zM145.79 200.32h1.3v1.3h-1.3zM111.33 198.6h1.3v1.3h-1.3zM96.7 195.77h1.3v1.3h-1.3zM91.09 202.39h1.3v1.3h-1.3zM236.8 202.43h1.3v1.3h-1.3zM132.96 195.36h1.3v1.3h-1.3zM286.74 200.83h1.3v1.3h-1.3zM105.41 192.14h1.3v1.3h-1.3zM189.6 197.17h1.3v1.3h-1.3zM260.43 197.94h1.3v1.3h-1.3zM238.79 199.49h1.3v1.3h-1.3zM74.29 197.08h1.3v1.3h-1.3zM249.94 198.34h1.3v1.3h-1.3zM296.72 198.42h1.3v1.3h-1.3zM124.18 198.03h1.3v1.3h-1.3zM267.62 200.12h1.3v1.3h-1.3zM205.01 195.84h1.3v1.3h-1.3zM124.17 196.68h1.3v1.3h-1.3zM302.64 198.03h1.3v1.3h-1.3zM287.79 195.08h1.3v1.3h-1.3zM259.51 198.77h1.3v1.3h-1.3zM69.38 195.96h1.3v1.3h-1.3zM228.03 199.07h1.3v1.3h-1.3zM175.38 198.33h1.3v1.3h-1.3zM132.37 199.43h1.3v1.3h-1.3zM272.52 198.59h1.3v1.3h-1.3zM109.31 205.26h1.3v1.3h-1.3zM98.36 198h1.3v1.3h-1.3zM212.8 192.26h1.3v1.3h-1.3zM220.23 198.63h1.3v1.3h-1.3zM255.29 198.65h1.3v1.3h-1.3zM138.46 197.91h1.3v1.3h-1.3zM226.81 199.9h1.3v1.3h-1.3zM244.08 199.27h1.3v1.3h-1.3zM299.46 200.23h1.3v1.3h-1.3zM306.18 197.63h1.3v1.3h-1.3zM249.28 198.19h1.3v1.3h-1.3zM138.1 199.39h1.3v1.3h-1.3zM174.17 200.79h1.3v1.3h-1.3zM131.27 197.69h1.3v1.3h-1.3zM159.49 199.38h1.3v1.3h-1.3zM106.25 198.64h1.3v1.3h-1.3zM236.44 197.73h1.3v1.3h-1.3zM106.27 202.45h1.3v1.3h-1.3zM255.16 201.55h1.3v1.3h-1.3zM167.7 201.53h1.3v1.3h-1.3zM175.43 197.78h1.3v1.3h-1.3zM298.12 198.91h1.3v1.3h-1.3zM236.59 196.64h1.3v1.3h-1.3zM80.16 199.83h1.3v1.3h-1.3zM267.21 197.24h1.3v1.3h-1.3zM210.35 198.35h1.3v1.3h-1.3zM258.94 201.45h1.3v1.3h-1.3zM192.59 197.93h1.3v1.3h-1.3zM201.05 198.92h1.3v1.3h-1.3zM253.13 197.93h1.3v1.3h-1.3zM213.08 202.12h1.3v1.3h-1.3zM101.73 193.67h1.3v1.3h-1.3zM256.35 198.04h1.3v1.3h-1.3zM146.7 198.35h1.3v1.3h-1.3zM118.08 209.02h1.3v1.3h-1.3zM203.61 197.99h1.3v1.3h-1.3zM140.88 198.85h1.3v1.3h-1.3zM262.75 199.67h1.3v1.3h-1.3zM255.37 196.28h1.3v1.3h-1.3zM298.73 201.43h1.3v1.3h-1.3zM91.04 204.43h1.3v1.3h-1.3zM240.94 204.04h1.3v1.3h-1.3zM146.33 201h1.3v1.3h-1.3zM281.37 199.34h1.3v1.3h-1.3zM78.02 216.35h1.3v1.3h-1.3zM156.33 197.94h1.3v1.3h-1.3zM165.53 194.82h1.3v1.3h-1.3zM238.32 198.4h1.3v1.3h-1.3zM109.15 199.16h1.3v1.3h-1.3zM249.1 198.17h1.3v1.3h-1.3zM89.74 199.74h1.3v1.3h-1.3zM198.56 199.74h1.3v1.3h-1.3zM276.25 200.76h1.3v1.3h-1.3zM211.68 198.67h1.3v1.3h-1.3zM225.39 198.28h1.3v1.3h-1.3zM245.06 204.02h1.3v1.3h-1.3zM142.34 199.24h1.3v1.3h-1.3zM168.24 199.75h1.3v1.3h-1.3zM206.9 201.17h1.3v1.3h-1.3zM156.59 197.77h1.3v1.3h-1.3zM143.68 202.28h1.3v1.3h-1.3zM303.58 200.23h1.3v1.3h-1.3zM69.3 202.04h1.3v1.3h-1.3zM135.18 186.38h1.3v1.3h-1.3zM105.71 198.49h1.3v1.3h-1.3zM168.84 204.37h1.3v1.3h-1.3zM278.78 199.26h1.3v1.3h-1.3zM219.55 199.48h1.3v1.3h-1.3zM292.5 198.75h1.3v1.3h-1.3zM90.72 201.36h1.3v1.3h-1.3zM304.33 199.1h1.3v1.3h-1.3zM268.52 197.96h1.3v1.3h-1.3zM280.53 198.97h1.3v1.3h-1.3zM176.87 200.9h1.3v1.3h-1.3zM93.24 199.7h1.3v1.3h-1.3zM241.93 196.91h1.3v1.3h-1.3zM92.73 195.28h1.3v1.3h-1.3zM305.73 199.51h1.3v1.3h-1.3zM104.1 196.33h1.3v1.3h-1.3zM183.41 199.04h1.3v1.3h-1.3zM177.46 197.82h1.3v1.3h-1.3zM102.11 199.17h1.3v1.3h-1.3zM104.57 197.7h1.3v1.3h-1.3zM173.89 195.43h1.3v1.3h-1.3zM147.58 212.83h1.3v1.3h-1.3zM197.62 198.76h1.3v1.3h-1.3zM206.25 198.5h1.3v1.3h-1.3zM243.67 200.6h1.3v1.3h-1.3zM216.25 199.61h1.3v1.3h-1.3zM179.68 200.27h1.3v1.3h-1.3zM202.54 197.16h1.3v1.3h-1.3zM230.29 198.86h1.3v1.3h-1.3zM130.64 203.38h1.3v1.3h-1.3zM244.24 194.03h1.3v1.3h-1.3zM230.38 201.56h1.3v1.3h-1.3zM224.57 199.24h1.3v1.3h-1.3zM132.65 198.27h1.3v1.3h-1.3zM142.05 195.12h1.3v1.3h-1.3zM228.5 206.3h1.3v1.3h-1.3zM81.99 198.38h1.3v1.3h-1.3zM147.85 199.27h1.3v1.3h-1.3zM160.39 199.88h1.3v1.3h-1.3zM99.1 198.38h1.3v1.3h-1.3zM219.84 194.59h1.3v1.3h-1.3zM304.48 199.03h1.3v1.3h-1.3zM289.51 199.53h1.3v1.3h-1.3zM84.97 195.5h1.3v1.3h-1.3zM196.4 192.85h1.3v1.3h-1.3zM150.22 199.94h1.3v1.3h-1.3zM303.38 197.48h1.3v1.3h-1.3zM223.34 200.26h1.3v1.3h-1.3zM260.8 200.52h1.3v1.3h-1.3zM75.84 219h1.3v1.3h-1.3zM203.58 198.67h1.3v1.3h-1.3zM124.66 198.87h1.3v1.3h-1.3zM162.01 201.8h1.3v1.3h-1.3zM184.26 193.04h1.3v1.3h-1.3zM228.21 197.62h1.3v1.3h-1.3zM162.3 203.06h1.3v1.3h-1.3zM266.63 197.95h1.3v1.3h-1.3zM155.15 190.02h1.3v1.3h-1.3zM127.9 200.1h1.3v1.3h-1.3zM185.55 204h1.3v1.3h-1.3zM279.97 198.64h1.3v1.3h-1.3zM301.08 198.43h1.3v1.3h-1.3zM96.74 198.77h1.3v1.3h-1.3zM107.98 199.34h1.3v1.3h-1.3zM86.94 179.37h1.3v1.3h-1.3zM104.18 199.28h1.3v1.3h-1.3zM281.16 199.15h1.3v1.3h-1.3zM239.81 199.98h1.3v1.3h-1.3zM256.76 202.21h1.3v1.3h-1.3zM251.35 199.48h1.3v1.3h-1.3zM146.97 201.56h1.3v1.3h-1.3zM164.72 199.45h1.3v1.3h-1.3zM151.86 198.6h1.3v1.3h-1.3zM193.55 200.96h1.3v1.3h-1.3zM88.24 199.64h1.3v1.3h-1.3zM193.94 197.97h1.3v1.3h-1.3zM174.48 198h1.3v1.3h-1.3zM206.13 198.89h1.3v1.3h-1.3zM289.04 197.32h1.3v1.3h-1.3zM293.06 199.76h1.3v1.3h-1.3zM166.74 199.19h1.3v1.3h-1.3zM91.53 201.05h1.3v1.3h-1.3zM301.32 197.7h1.3v1.3h-1.3zM107.91 198.27h1.3v1.3h-1.3zM286.69 197.04h1.3v1.3h-1.3zM97.11 205.48h1.3v1.3h-1.3zM175.96 199.3h1.3v1.3h-1.3zM138.62 206.53h1.3v1.3h-1.3zM131.89 199.74h1.3v1.3h-1.3zM191.76 189.41h1.3v1.3h-1.3zM194.17 199.13h1.3v1.3h-1.3zM255.88 199.17h1.3v1.3h-1.3zM196.12 198.86h1.3v1.3h-1.3zM298.89 199.24h1.3v1.3h-1.3zM229.51 196.41h1.3v1.3h-1.3zM199.47 193.09h1.3v1.3h-1.3zM269.38 198.42h1.3v1.3h-1.3zM295.92 196.5h1.3v1.3h-1.3zM116.15 197.12h1.3v1.3h-1.3zM290.87 199.67h1.3v1.3h-1.3zM283.08 199.63h1.3v1.3h-1.3zM211.15 200.91h1.3v1.3h-1.3zM196.89 197.46h1.3v1.3h-1.3zM179.91 190.05h1.3v1.3h-1.3zM242.99 199.47h1.3v1.3h-1.3zM211.18 195.84h1.3v1.3h-1.3zM204.51 194.86h1.3v1.3h-1.3zM283.6 200.14h1.3v1.3h-1.3zM282.78 198.56h1.3v1.3h-1.3zM307.02 196.95h1.3v1.3h-1.3zM169.03 198.92h1.3v1.3h-1.3zM238.79 193.22h1.3v1.3h-1.3zM89.53 204.83h1.3v1.3h-1.3zM306.18 197.38h1.3v1.3h-1.3zM189.73 196.53h1.3v1.3h-1.3zM154.13 199.59h1.3v1.3h-1.3zM235.19 199.73h1.3v1.3h-1.3zM170.96 198.23h1.3v1.3h-1.3zM203.57 197.07h1.3v1.3h-1.3zM193.42 199.39h1.3v1.3h-1.3zM245.78 198.74h1.3v1.3h-1.3zM175.82 200.38h1.3v1.3h-1.3zM81.17 192.67h1.3v1.3h-1.3zM288.87 194.27h1.3v1.3h-1.3zM277.09 198.07h1.3v1.3h-1.3zM162.44 203.81h1.3v1.3h-1.3zM227.14 197.75h1.3v1.3h-1.3zM230.47 198.44h1.3v1.3h-1.3zM224.22 198.26h1.3v1.3h-1.3zM245.93 199.69h1.3v1.3h-1.3zM98.82 201.09h1.3v1.3h-1.3zM134.7 197.98h1.3v1.3h-1.3zM216.79 200.96h1.3v1.3h-1.3zM268.95 198.78h1.3v1.3h-1.3zM236.92 198.95h1.3v1.3h-1.3zM111.7 197.65h1.3v1.3h-1.3zM126.29 183.84h1.3v1.3h-1.3zM226.69 199.14h1.3v1.3h-1.3zM268.21 198.21h1.3v1.3h-1.3zM202.56 199.59h1.3v1.3h-1.3zM173.65 190.07h1.3v1.3h-1.3zM108.42 200.94h1.3v1.3h-1.3zM93.03 198.59h1.3v1.3h-1.3zM142.56 201.49h1.3v1.3h-1.3zM239.1 197.31h1.3v1.3h-1.3zM109.28 198.84h1.3v1.3h-1.3zM171.7 198.8h1.3v1.3h-1.3zM299.14 205.88h1.3v1.3h-1.3zM264.29 199.47h1.3v1.3h-1.3zM282.84 196.45h1.3v1.3h-1.3zM209.49 198.87h1.3v1.3h-1.3zM253.78 198.75h1.3v1.3h-1.3zM189.52 198.16h1.3v1.3h-1.3zM163.7 198.89h1.3v1.3h-1.3zM252.27 199.27h1.3v1.3h-1.3zM201.89 201.92h1.3v1.3h-1.3zM146.78 187.55h1.3v1.3h-1.3zM219.45 191.07h1.3v1.3h-1.3zM298.95 198.66h1.3v1.3h-1.3zM86.76 201.77h1.3v1.3h-1.3zM160.04 197.26h1.3v1.3h-1.3zM213.2 198.61h1.3v1.3h-1.3zM286.89 197.29h1.3v1.3h-1.3zM164.43 198.62h1.3v1.3h-1.3zM115.16 198.35h1.3v1.3h-1.3zM110.25 200.42h1.3v1.3h-1.3zM180.66 200.5h1.3v1.3h-1.3zM150.93 195.6h1.3v1.3h-1.3zM80.93 199.42h1.3v1.3h-1.3zM128.71 183.56h1.3v1.3h-1.3zM298.52 199.41h1.3v1.3h-1.3zM167.79 205.17h1.3v1.3h-1.3zM169.19 192.75h1.3v1.3h-1.3zM122.76 197.9h1.3v1.3h-1.3zM161.49 194.22h1.3v1.3h-1.3zM202.24 199.17h1.3v1.3h-1.3zM113.19 201.64h1.3v1.3h-1.3zM209.62 190.28h1.3v1.3h-1.3zM270.12 198.99h1.3v1.3h-1.3zM174.97 200.54h1.3v1.3h-1.3zM116.56 197.56h1.3v1.3h-1.3zM151.23 200.39h1.3v1.3h-1.3zM298.18 197.86h1.3v1.3h-1.3zM211.95 196.93h1.3v1.3h-1.3zM267.91 198.66h1.3v1.3h-1.3zM279.16 199.57h1.3v1.3h-1.3zM202.7 199.43h1.3v1.3h-1.3zM229.13 198.59h1.3v1.3h-1.3zM165.77 197.97h1.3v1.3h-1.3zM152.13 208.78h1.3v1.3h-1.3zM182.87 199.34h1.3v1.3h-1.3zM162.4 199.22h1.3v1.3h-1.3zM202.51 192.03h1.3v1.3h-1.3zM304.8 198.44h1.3v1.3h-1.3zM260.07 197.44h1.3v1.3h-1.3zM283.28 200.5h1.3v1.3h-1.3zM131.36 199.58h1.3v1.3h-1.3zM146.11 204.15h1.3v1.3h-1.3zM299.29 197.82h1.3v1.3h-1.3zM160.92 196.52h1.3v1.3h-1.3zM202.59 197.6h1.3v1.3h-1.3zM78.15 202.24h1.3v1.3h-1.3zM282.45 196.7h1.3v1.3h-1.3zM255.57 200.93h1.3v1.3h-1.3zM256.97 202.9h1.3v1.3h-1.3zM98.44 195.19h1.3v1.3h-1.3zM103.21 200.18h1.3v1.3h-1.3zM167.56 178.01h1.3v1.3h-1.3zM278.95 197.34h1.3v1.3h-1.3zM85.97 195.63h1.3v1.3h-1.3zM84.93 197.01h1.3v1.3h-1.3zM248.5 197h1.3v1.3h-1.3zM256.41 198.25h1.3v1.3h-1.3zM191.11 200.09h1.3v1.3h-1.3zM184.49 199.85h1.3v1.3h-1.3zM109.5 200.35h1.3v1.3h-1.3zM112.99 195.27h1.3v1.3h-1.3zM104.14 213.38h1.3v1.3h-1.3zM130.18 205.1h1.3v1.3h-1.3zM274.68 195.74h1.3v1.3h-1.3zM208.93 199.97h1.3v1.3h-1.3zM215.36 198.24h1.3v1.3h-1.3zM304.75 199.22h1.3v1.3h-1.3zM146.5 199.22h1.3v1.3h-1.3zM186.78 199.5h1.3v1.3h-1.3zM264.1 200.38h1.3v1.3h-1.3zM219.51 201.89h1.3v1.3h-1.3zM136.69 202.88h1.3v1.3h-1.3zM114.28 199.33h1.3v1.3h-1.3zM155.26 198.68h1.3v1.3h-1.3zM145.41 203.63h1.3v1.3h-1.3zM97.8 199.75h1.3v1.3h-1.3zM145.33 196.93h1.3v1.3h-1.3zM127.63 199.32h1.3v1.3h-1.3zM267.42 205.84h1.3v1.3h-1.3zM107.96 199.88h1.3v1.3h-1.3zM190.9 200.25h1.3v1.3h-1.3zM251.64 198.79h1.3v1.3h-1.3zM140.64 201.8h1.3v1.3h-1.3zM113.54 199.61h1.3v1.3h-1.3zM216.59 198.37h1.3v1.3h-1.3zM165.97 197.75h1.3v1.3h-1.3zM186.05 200.79h1.3v1.3h-1.3zM90.76 207.73h1.3v1.3h-1.3zM306.39 198.1h1.3v1.3h-1.3zM120.71 190.25h1.3v1.3h-1.3zM252.44 191.64h1.3v1.3h-1.3zM304.58 199.45h1.3v1.3h-1.3zM143.44 189.24h1.3v1.3h-1.3zM307.13 198.01h1.3v1.3h-1.3zM151.01 197.27h1.3v1.3h-1.3zM183.1 195.6h1.3v1.3h-1.3zM183.1 199.83h1.3v1.3h-1.3zM150.53 197.66h1.3v1.3h-1.3zM134.03 200.8h1.3v1.3h-1.3zM109.88 197.71h1.3v1.3h-1.3zM262.83 196.24h1.3v1.3h-1.3zM133.62 199.64h1.3v1.3h-1.3zM163.88 199.63h1.3v1.3h-1.3zM162.01 197.08h1.3v1.3h-1.3zM224.94 198.89h1.3v1.3h-1.3zM106.34 197.34h1.3v1.3h-1.3zM268.7 199.48h1.3v1.3h-1.3zM103.04 197.76h1.3v1.3h-1.3zM223.91 197.53h1.3v1.3h-1.3zM278.14 199.58h1.3v1.3h-1.3zM136.96 193.59h1.3v1.3h-1.3zM135.99 199.26h1.3v1.3h-1.3zM261.13 200.94h1.3v1.3h-1.3zM229.66 196.95h1.3v1.3h-1.3zM106.87 198.23h1.3v1.3h-1.3zM112.71 201.02h1.3v1.3h-1.3zM290.59 201.04h1.3v1.3h-1.3zM274.5 200.48h1.3v1.3h-1.3zM196.87 199.68h1.3v1.3h-1.3zM256.97 199.08h1.3v1.3h-1.3zM164.01 198.59h1.3v1.3h-1.3zM71.38 201.99h1.3v1.3h-1.3zM137.05 191.85h1.3v1.3h-1.3zM123.03 197.7h1.3v1.3h-1.3zM259.42 210.32h1.3v1.3h-1.3zM105.98 191.12h1.3v1.3h-1.3zM164.96 193.99h1.3v1.3h-1.3zM302.66 199.16h1.3v1.3h-1.3zM135.25 202.55h1.3v1.3h-1.3zM221.6 200.91h1.3v1.3h-1.3zM232.54 201.4h1.3v1.3h-1.3zM287.92 192.29h1.3v1.3h-1.3zM298.88 198.19h1.3v1.3h-1.3zM292.11 196.61h1.3v1.3h-1.3zM207.62 200.08h1.3v1.3h-1.3zM300.25 197.82h1.3v1.3h-1.3zM84.95 199.57h1.3v1.3h-1.3zM75.89 199.31h1.3v1.3h-1.3zM242.93 199.4h1.3v1.3h-1.3zM215.21 197.6h1.3v1.3h-1.3zM162.81 199.03h1.3v1.3h-1.3zM230.97 195.82h1.3v1.3h-1.3zM268.07 197.73h1.3v1.3h-1.3zM306.12 198.42h1.3v1.3h-1.3zM230.61 205.63h1.3v1.3h-1.3zM239.39 196.25h1.3v1.3h-1.3zM224.92 198.39h1.3v1.3h-1.3zM177.27 200.64h1.3v1.3h-1.3zM178.69 198.91h1.3v1.3h-1.3zM121.18 193.81h1.3v1.3h-1.3zM220.3 201.09h1.3v1.3h-1.3zM153.42 200.92h1.3v1.3h-1.3zM73.04 196.58h1.3v1.3h-1.3zM291.33 197.94h1.3v1.3h-1.3zM208.18 199.69h1.3v1.3h-1.3zM219.14 197.82h1.3v1.3h-1.3zM247.73 197.85h1.3v1.3h-1.3zM133.66 199.84h1.3v1.3h-1.3zM161.27 190.78h1.3v1.3h-1.3zM306.01 197.88h1.3v1.3h-1.3zM128.61 200.56h1.3v1.3h-1.3zM159.25 198.89h1.3v1.3h-1.3zM287.26 200.01h1.3v1.3h-1.3zM130.73 191.88h1.3v1.3h-1.3zM102.88 196.34h1.3v1.3h-1.3zM110.27 195.69h1.3v1.3h-1.3zM112.51 197.47h1.3v1.3h-1.3zM122.22 195.96h1.3v1.3h-1.3zM71.94 202.01h1.3v1.3h-1.3zM78.09 191.02h1.3v1.3h-1.3zM230.35 198.01h1.3v1.3h-1.3zM242.74 198.69h1.3v1.3h-1.3zM242.29 197.81h1.3v1.3h-1.3zM187.59 187.31h1.3v1.3h-1.3zM183.75 198.32h1.3v1.3h-1.3zM265.22 194.96h1.3v1.3h-1.3zM224.08 200.31h1.3v1.3h-1.3zM251.64 197.16h1.3v1.3h-1.3zM283.16 198.36h1.3v1.3h-1.3zM204.01 196.24h1.3v1.3h-1.3zM298.55 198.71h1.3v1.3h-1.3zM202.13 198.95h1.3v1.3h-1.3zM271.25 198.5h1.3v1.3h-1.3zM220.55 197.3h1.3v1.3h-1.3zM297.51 201.74h1.3v1.3h-1.3zM217 198.53h1.3v1.3h-1.3zM116.33 180.57h1.3v1.3h-1.3zM216.64 195.74h1.3v1.3h-1.3zM126.46 197.04h1.3v1.3h-1.3zM269.83 189.65h1.3v1.3h-1.3zM307.29 196.98h1.3v1.3h-1.3zM265.32 197.53h1.3v1.3h-1.3zM186.04 199.81h1.3v1.3h-1.3zM173.47 200.38h1.3v1.3h-1.3zM274.85 199.26h1.3v1.3h-1.3zM98.23 202.19h1.3v1.3h-1.3zM234.77 200.03h1.3v1.3h-1.3zM120.61 201.7h1.3v1.3h-1.3zM97.33 203.75h1.3v1.3h-1.3zM281.31 200.36h1.3v1.3h-1.3zM99.13 198.4h1.3v1.3h-1.3zM143.97 197.2h1.3v1.3h-1.3zM179.57 199.22h1.3v1.3h-1.3zM127.73 209.93h1.3v1.3h-1.3zM267.55 200.89h1.3v1.3h-1.3zM305.36 198.09h1.3v1.3h-1.3zM77.78 199.83h1.3v1.3h-1.3zM283.18 198.54h1.3v1.3h-1.3zM170.51 197.78h1.3v1.3h-1.3zM221.58 196.1h1.3v1.3h-1.3zM180.66 200.65h1.3v1.3h-1.3zM171.17 197.69h1.3v1.3h-1.3zM173.89 209.58h1.3v1.3h-1.3zM251.01 196.56h1.3v1.3h-1.3zM121.2 198.74h1.3v1.3h-1.3zM298.83 198.05h1.3v1.3h-1.3zM260.29 204.09h1.3v1.3h-1.3zM105.8 204.07h1.3v1.3h-1.3zM72.82 198.59h1.3v1.3h-1.3zM148.12 204.08h1.3v1.3h-1.3zM121.96 193.81h1.3v1.3h-1.3zM96.96 201.56h1.3v1.3h-1.3zM246.95 194.06h1.3v1.3h-1.3zM89.86 198.38h1.3v1.3h-1.3zM147.02 197.99h1.3v1.3h-1.3zM137.54 199.48h1.3v1.3h-1.3zM254.76 196.55h1.3v1.3h-1.3zM291.16 197.31h1.3v1.3h-1.3zM188.47 200.54h1.3v1.3h-1.3zM162.2 195.43h1.3v1.3h-1.3zM146.47 197.81h1.3v1.3h-1.3zM192.87 196.81h1.3v1.3h-1.3zM142.58 194.86h1.3v1.3h-1.3zM238.93 199.13h1.3v1.3h-1.3zM80.16 195.96h1.3v1.3h-1.3zM279.24 202.4h1.3v1.3h-1.3zM264.64 196.52h1.3v1.3h-1.3zM129.8 200.08h1.3v1.3h-1.3zM71.55 202.17h1.3v1.3h-1.3zM243.95 192.59h1.3v1.3h-1.3zM117.03 199.57h1.3v1.3h-1.3zM173.69 199.64h1.3v1.3h-1.3zM149.29 198.95h1.3v1.3h-1.3zM198.48 200.55h1.3v1.3h-1.3zM284.07 199.39h1.3v1.3h-1.3zM156.67 191.92h1.3v1.3h-1.3zM247.97 196.21h1.3v1.3h-1.3zM206.82 198.49h1.3v1.3h-1.3zM95.25 206.4h1.3v1.3h-1.3zM237.36 198.51h1.3v1.3h-1.3zM262.12 199.7h1.3v1.3h-1.3zM177.75 198.48h1.3v1.3h-1.3zM165.64 199.58h1.3v1.3h-1.3zM251.21 199.32h1.3v1.3h-1.3zM234.77 209.2h1.3v1.3h-1.3zM128.6 201.29h1.3v1.3h-1.3zM279.51 198.14h1.3v1.3h-1.3zM284 197.45h1.3v1.3h-1.3zM255.7 198.51h1.3v1.3h-1.3zM131.12 198.65h1.3v1.3h-1.3zM295.66 198.97h1.3v1.3h-1.3zM245.66 199.91h1.3v1.3h-1.3zM75.97 197.85h1.3v1.3h-1.3zM271.4 198.71h1.3v1.3h-1.3zM189.93 199.24h1.3v1.3h-1.3zM71.03 216.24h1.3v1.3h-1.3zM107.77 198.11h1.3v1.3h-1.3zM124.94 200.43h1.3v1.3h-1.3zM227.26 201.17h1.3v1.3h-1.3zM97.51 198.38h1.3v1.3h-1.3zM123.11 204.39h1.3v1.3h-1.3zM92.95 206.06h1.3v1.3h-1.3zM192.37 198.66h1.3v1.3h-1.3zM112.95 206.72h1.3v1.3h-1.3zM125.12 200.53h1.3v1.3h-1.3zM281.55 198.4h1.3v1.3h-1.3zM262.86 203.72h1.3v1.3h-1.3zM128.33 193.01h1.3v1.3h-1.3zM291.93 197.29h1.3v1.3h-1.3zM152.54 200.28h1.3v1.3h-1.3zM104.92 199.07h1.3v1.3h-1.3zM230.39 200.85h1.3v1.3h-1.3zM214.42 199.59h1.3v1.3h-1.3zM194.06 199.17h1.3v1.3h-1.3zM300.56 198.65h1.3v1.3h-1.3zM147.37 199.04h1.3v1.3h-1.3zM213.28 197.75h1.3v1.3h-1.3zM120.26 198.47h1.3v1.3h-1.3zM238 184.96h1.3v1.3h-1.3zM230.62 196.5h1.3v1.3h-1.3zM153.69 196.85h1.3v1.3h-1.3zM69.22 197.45h1.3v1.3h-1.3zM150.47 198.67h1.3v1.3h-1.3zM111.46 198.52h1.3v1.3h-1.3zM217.78 200.29h1.3v1.3h-1.3zM128.66 202.29h1.3v1.3h-1.3zM109.01 195.31h1.3v1.3h-1.3zM172.37 200.83h1.3v1.3h-1.3zM201.3 207.99h1.3v1.3h-1.3zM84.17 197.68h1.3v1.3h-1.3zM293.65 200.3h1.3v1.3h-1.3zM117.75 191.42h1.3v1.3h-1.3zM160.48 198.43h1.3v1.3h-1.3zM140.53 205.02h1.3v1.3h-1.3zM298.08 197.49h1.3v1.3h-1.3zM275.36 198.06h1.3v1.3h-1.3zM108.75 198.89h1.3v1.3h-1.3zM280.28 200.84h1.3v1.3h-1.3zM209.84 198.79h1.3v1.3h-1.3zM146.88 196.85h1.3v1.3h-1.3zM298.12 199.38h1.3v1.3h-1.3zM246.95 198.02h1.3v1.3h-1.3zM117.61 222.39h1.3v1.3h-1.3z" fill="#2e2e90"/>
<line x1="189.7" y1="157.8" x2="189.7" y2="241.3" stroke="#222" stroke-width="1.3" stroke-dasharray="3.5,2"/>
<path d="M46.1 241.3V157.8H330.0V241.3" fill="none" stroke="#000" stroke-width="1.6"/>
<line x1="45.3" y1="241.35" x2="330.8" y2="241.35" stroke="#2a2a2a" stroke-width="1.0"/>
<text x="40.4" y="166.92" font-size="12.8" text-anchor="end">4</text>
<text x="40.4" y="185.72" font-size="12.8" text-anchor="end">2</text>
<text x="40.4" y="204.22" font-size="12.8" text-anchor="end">0</text>
<text x="39" y="222.32" font-size="12.8" text-anchor="end">-2</text>
<text x="39" y="242.52" font-size="12.8" text-anchor="end">-4</text>
<text x="334.6" y="167.02" font-size="12.8" text-anchor="start">3σ</text>
<text x="334.6" y="178.62" font-size="12.8" text-anchor="start">2σ</text>
<text x="338.4" y="191.42" font-size="12.8" text-anchor="start">σ</text>
<text x="338.6" y="203.92" font-size="12.8" text-anchor="start">0</text>
<text x="339.4" y="216.52" font-size="12.8" text-anchor="start">σ</text>
<text x="339" y="229.12" font-size="12.8" text-anchor="start">2σ</text>
<text x="339" y="242.72" font-size="12.8" text-anchor="start">3σ</text>
<line x1="331.7" y1="212.5" x2="338.3" y2="212.5" stroke="#5a5a5a" stroke-width="1.0"/>
<line x1="331.7" y1="225.5" x2="338.3" y2="225.5" stroke="#5a5a5a" stroke-width="1.0"/>
<line x1="331.7" y1="238.5" x2="338.3" y2="238.5" stroke="#5a5a5a" stroke-width="1.0"/>
<text x="20.2" y="240.6" font-size="12.8" text-anchor="start" textLength="83.4" lengthAdjust="spacingAndGlyphs" transform="rotate(-90 20.2 240.6)">Residuals (m/s)</text>
<rect x="78.9" y="243.4" width="235.7" height="67.5" fill="#fff" stroke="none"/>
<line x1="78.9" y1="260.1" x2="314.6" y2="260.1" stroke="#cbcbcb" stroke-width="1.0" stroke-dasharray="3.6,2.8"/>
<line x1="78.9" y1="276.9" x2="314.6" y2="276.9" stroke="#cbcbcb" stroke-width="1.0" stroke-dasharray="3.6,2.8"/>
<line x1="78.9" y1="293.7" x2="314.6" y2="293.7" stroke="#cbcbcb" stroke-width="1.0" stroke-dasharray="3.6,2.8"/>
<line x1="148.2" y1="243.4" x2="148.2" y2="310.9" stroke="#4f8a82" stroke-width="1.0" stroke-dasharray="1.2,1"/>
<line x1="217.3" y1="243.4" x2="217.3" y2="310.9" stroke="#5aa566" stroke-width="1.0" stroke-dasharray="1.2,1"/>
<line x1="287.3" y1="243.4" x2="287.3" y2="310.9" stroke="#5aa566" stroke-width="1.0" stroke-dasharray="1.2,1"/>
<text x="149.6" y="288.6" font-size="12.8" text-anchor="start">σ</text>
<text x="218.8" y="288.6" font-size="12.8" text-anchor="start">2σ</text>
<text x="288.6" y="288.6" font-size="12.8" text-anchor="start">3σ</text>
<text x="114.2" y="307.3" font-size="12.8" text-anchor="start" textLength="181.8" lengthAdjust="spacingAndGlyphs">Absolute value of Residuals (m/s)</text>
<path d="M78 309.6a1.2 1.2 0 1 0 2.4 0a1.2 1.2 0 1 0 -2.4 0M80.1 305.91a1.2 1.2 0 1 0 2.4 0a1.2 1.2 0 1 0 -2.4 0M82.2 303.08a1.2 1.2 0 1 0 2.4 0a1.2 1.2 0 1 0 -2.4 0M84.3 300.23a1.2 1.2 0 1 0 2.4 0a1.2 1.2 0 1 0 -2.4 0M86.4 297.54a1.2 1.2 0 1 0 2.4 0a1.2 1.2 0 1 0 -2.4 0M88.5 295.29a1.2 1.2 0 1 0 2.4 0a1.2 1.2 0 1 0 -2.4 0M90.6 293.14a1.2 1.2 0 1 0 2.4 0a1.2 1.2 0 1 0 -2.4 0M92.7 290.72a1.2 1.2 0 1 0 2.4 0a1.2 1.2 0 1 0 -2.4 0M94.8 288.49a1.2 1.2 0 1 0 2.4 0a1.2 1.2 0 1 0 -2.4 0M96.9 286.4a1.2 1.2 0 1 0 2.4 0a1.2 1.2 0 1 0 -2.4 0M99 284.21a1.2 1.2 0 1 0 2.4 0a1.2 1.2 0 1 0 -2.4 0M101.1 282.01a1.2 1.2 0 1 0 2.4 0a1.2 1.2 0 1 0 -2.4 0M103.2 279.81a1.2 1.2 0 1 0 2.4 0a1.2 1.2 0 1 0 -2.4 0M105.3 277.65a1.2 1.2 0 1 0 2.4 0a1.2 1.2 0 1 0 -2.4 0M107.4 275.76a1.2 1.2 0 1 0 2.4 0a1.2 1.2 0 1 0 -2.4 0M109.5 274.06a1.2 1.2 0 1 0 2.4 0a1.2 1.2 0 1 0 -2.4 0M111.6 272.49a1.2 1.2 0 1 0 2.4 0a1.2 1.2 0 1 0 -2.4 0M113.7 271.04a1.2 1.2 0 1 0 2.4 0a1.2 1.2 0 1 0 -2.4 0M115.8 269.71a1.2 1.2 0 1 0 2.4 0a1.2 1.2 0 1 0 -2.4 0M117.9 268.49a1.2 1.2 0 1 0 2.4 0a1.2 1.2 0 1 0 -2.4 0M120 267.41a1.2 1.2 0 1 0 2.4 0a1.2 1.2 0 1 0 -2.4 0M122.1 266.46a1.2 1.2 0 1 0 2.4 0a1.2 1.2 0 1 0 -2.4 0M124.2 265.57a1.2 1.2 0 1 0 2.4 0a1.2 1.2 0 1 0 -2.4 0M126.3 264.74a1.2 1.2 0 1 0 2.4 0a1.2 1.2 0 1 0 -2.4 0M128.4 263.9a1.2 1.2 0 1 0 2.4 0a1.2 1.2 0 1 0 -2.4 0M130.5 263a1.2 1.2 0 1 0 2.4 0a1.2 1.2 0 1 0 -2.4 0M132.6 262.12a1.2 1.2 0 1 0 2.4 0a1.2 1.2 0 1 0 -2.4 0M134.7 261.33a1.2 1.2 0 1 0 2.4 0a1.2 1.2 0 1 0 -2.4 0M136.8 260.59a1.2 1.2 0 1 0 2.4 0a1.2 1.2 0 1 0 -2.4 0M138.9 259.91a1.2 1.2 0 1 0 2.4 0a1.2 1.2 0 1 0 -2.4 0M141 259.26a1.2 1.2 0 1 0 2.4 0a1.2 1.2 0 1 0 -2.4 0M143.1 258.63a1.2 1.2 0 1 0 2.4 0a1.2 1.2 0 1 0 -2.4 0M145.2 258.03a1.2 1.2 0 1 0 2.4 0a1.2 1.2 0 1 0 -2.4 0M147.3 257.46a1.2 1.2 0 1 0 2.4 0a1.2 1.2 0 1 0 -2.4 0M149.4 256.93a1.2 1.2 0 1 0 2.4 0a1.2 1.2 0 1 0 -2.4 0M151.5 256.42a1.2 1.2 0 1 0 2.4 0a1.2 1.2 0 1 0 -2.4 0M153.6 255.94a1.2 1.2 0 1 0 2.4 0a1.2 1.2 0 1 0 -2.4 0M155.7 255.49a1.2 1.2 0 1 0 2.4 0a1.2 1.2 0 1 0 -2.4 0M157.8 255.06a1.2 1.2 0 1 0 2.4 0a1.2 1.2 0 1 0 -2.4 0M159.9 254.67a1.2 1.2 0 1 0 2.4 0a1.2 1.2 0 1 0 -2.4 0M162 254.31a1.2 1.2 0 1 0 2.4 0a1.2 1.2 0 1 0 -2.4 0M164.1 253.97a1.2 1.2 0 1 0 2.4 0a1.2 1.2 0 1 0 -2.4 0M166.2 253.66a1.2 1.2 0 1 0 2.4 0a1.2 1.2 0 1 0 -2.4 0M168.3 253.37a1.2 1.2 0 1 0 2.4 0a1.2 1.2 0 1 0 -2.4 0M170.4 253.1a1.2 1.2 0 1 0 2.4 0a1.2 1.2 0 1 0 -2.4 0M172.5 252.84a1.2 1.2 0 1 0 2.4 0a1.2 1.2 0 1 0 -2.4 0M174.6 252.6a1.2 1.2 0 1 0 2.4 0a1.2 1.2 0 1 0 -2.4 0M176.7 252.38a1.2 1.2 0 1 0 2.4 0a1.2 1.2 0 1 0 -2.4 0M178.8 252.16a1.2 1.2 0 1 0 2.4 0a1.2 1.2 0 1 0 -2.4 0M180.9 251.94a1.2 1.2 0 1 0 2.4 0a1.2 1.2 0 1 0 -2.4 0M183 251.73a1.2 1.2 0 1 0 2.4 0a1.2 1.2 0 1 0 -2.4 0M185.1 251.51a1.2 1.2 0 1 0 2.4 0a1.2 1.2 0 1 0 -2.4 0M187.2 251.3a1.2 1.2 0 1 0 2.4 0a1.2 1.2 0 1 0 -2.4 0M189.3 251.07a1.2 1.2 0 1 0 2.4 0a1.2 1.2 0 1 0 -2.4 0M191.4 250.85a1.2 1.2 0 1 0 2.4 0a1.2 1.2 0 1 0 -2.4 0M193.5 250.62a1.2 1.2 0 1 0 2.4 0a1.2 1.2 0 1 0 -2.4 0M195.6 250.39a1.2 1.2 0 1 0 2.4 0a1.2 1.2 0 1 0 -2.4 0M197.7 250.17a1.2 1.2 0 1 0 2.4 0a1.2 1.2 0 1 0 -2.4 0M199.8 249.96a1.2 1.2 0 1 0 2.4 0a1.2 1.2 0 1 0 -2.4 0M201.9 249.75a1.2 1.2 0 1 0 2.4 0a1.2 1.2 0 1 0 -2.4 0M204 249.56a1.2 1.2 0 1 0 2.4 0a1.2 1.2 0 1 0 -2.4 0M206.1 249.39a1.2 1.2 0 1 0 2.4 0a1.2 1.2 0 1 0 -2.4 0M208.2 249.23a1.2 1.2 0 1 0 2.4 0a1.2 1.2 0 1 0 -2.4 0M210.3 249.09a1.2 1.2 0 1 0 2.4 0a1.2 1.2 0 1 0 -2.4 0M212.4 248.95a1.2 1.2 0 1 0 2.4 0a1.2 1.2 0 1 0 -2.4 0M214.5 248.83a1.2 1.2 0 1 0 2.4 0a1.2 1.2 0 1 0 -2.4 0M216.6 248.71a1.2 1.2 0 1 0 2.4 0a1.2 1.2 0 1 0 -2.4 0M218.7 248.6a1.2 1.2 0 1 0 2.4 0a1.2 1.2 0 1 0 -2.4 0M220.8 248.49a1.2 1.2 0 1 0 2.4 0a1.2 1.2 0 1 0 -2.4 0M222.9 248.38a1.2 1.2 0 1 0 2.4 0a1.2 1.2 0 1 0 -2.4 0M225 248.28a1.2 1.2 0 1 0 2.4 0a1.2 1.2 0 1 0 -2.4 0M227.1 248.19a1.2 1.2 0 1 0 2.4 0a1.2 1.2 0 1 0 -2.4 0M229.2 248.09a1.2 1.2 0 1 0 2.4 0a1.2 1.2 0 1 0 -2.4 0M231.3 248a1.2 1.2 0 1 0 2.4 0a1.2 1.2 0 1 0 -2.4 0M233.4 247.9a1.2 1.2 0 1 0 2.4 0a1.2 1.2 0 1 0 -2.4 0M235.5 247.81a1.2 1.2 0 1 0 2.4 0a1.2 1.2 0 1 0 -2.4 0M237.6 247.71a1.2 1.2 0 1 0 2.4 0a1.2 1.2 0 1 0 -2.4 0M239.7 247.61a1.2 1.2 0 1 0 2.4 0a1.2 1.2 0 1 0 -2.4 0M241.8 247.5a1.2 1.2 0 1 0 2.4 0a1.2 1.2 0 1 0 -2.4 0M243.9 247.39a1.2 1.2 0 1 0 2.4 0a1.2 1.2 0 1 0 -2.4 0M246 247.28a1.2 1.2 0 1 0 2.4 0a1.2 1.2 0 1 0 -2.4 0M248.1 247.17a1.2 1.2 0 1 0 2.4 0a1.2 1.2 0 1 0 -2.4 0M250.2 247.06a1.2 1.2 0 1 0 2.4 0a1.2 1.2 0 1 0 -2.4 0M252.3 246.95a1.2 1.2 0 1 0 2.4 0a1.2 1.2 0 1 0 -2.4 0M254.4 246.84a1.2 1.2 0 1 0 2.4 0a1.2 1.2 0 1 0 -2.4 0M256.5 246.72a1.2 1.2 0 1 0 2.4 0a1.2 1.2 0 1 0 -2.4 0M258.6 246.61a1.2 1.2 0 1 0 2.4 0a1.2 1.2 0 1 0 -2.4 0M260.7 246.5a1.2 1.2 0 1 0 2.4 0a1.2 1.2 0 1 0 -2.4 0M262.8 246.38a1.2 1.2 0 1 0 2.4 0a1.2 1.2 0 1 0 -2.4 0M264.9 246.27a1.2 1.2 0 1 0 2.4 0a1.2 1.2 0 1 0 -2.4 0M267 246.15a1.2 1.2 0 1 0 2.4 0a1.2 1.2 0 1 0 -2.4 0M269.1 246.04a1.2 1.2 0 1 0 2.4 0a1.2 1.2 0 1 0 -2.4 0M271.2 245.92a1.2 1.2 0 1 0 2.4 0a1.2 1.2 0 1 0 -2.4 0M273.3 245.81a1.2 1.2 0 1 0 2.4 0a1.2 1.2 0 1 0 -2.4 0M275.4 245.69a1.2 1.2 0 1 0 2.4 0a1.2 1.2 0 1 0 -2.4 0M277.5 245.57a1.2 1.2 0 1 0 2.4 0a1.2 1.2 0 1 0 -2.4 0M279.6 245.46a1.2 1.2 0 1 0 2.4 0a1.2 1.2 0 1 0 -2.4 0M281.7 245.34a1.2 1.2 0 1 0 2.4 0a1.2 1.2 0 1 0 -2.4 0M283.8 245.22a1.2 1.2 0 1 0 2.4 0a1.2 1.2 0 1 0 -2.4 0M285.9 245.1a1.2 1.2 0 1 0 2.4 0a1.2 1.2 0 1 0 -2.4 0M288 244.98a1.2 1.2 0 1 0 2.4 0a1.2 1.2 0 1 0 -2.4 0M290.1 244.86a1.2 1.2 0 1 0 2.4 0a1.2 1.2 0 1 0 -2.4 0M292.2 244.74a1.2 1.2 0 1 0 2.4 0a1.2 1.2 0 1 0 -2.4 0M294.3 244.62a1.2 1.2 0 1 0 2.4 0a1.2 1.2 0 1 0 -2.4 0M296.4 244.5a1.2 1.2 0 1 0 2.4 0a1.2 1.2 0 1 0 -2.4 0M298.5 244.38a1.2 1.2 0 1 0 2.4 0a1.2 1.2 0 1 0 -2.4 0M300.6 244.26a1.2 1.2 0 1 0 2.4 0a1.2 1.2 0 1 0 -2.4 0M302.7 244.13a1.2 1.2 0 1 0 2.4 0a1.2 1.2 0 1 0 -2.4 0M304.8 244.01a1.2 1.2 0 1 0 2.4 0a1.2 1.2 0 1 0 -2.4 0M306.9 243.89a1.2 1.2 0 1 0 2.4 0a1.2 1.2 0 1 0 -2.4 0M309 243.77a1.2 1.2 0 1 0 2.4 0a1.2 1.2 0 1 0 -2.4 0M311.1 243.64a1.2 1.2 0 1 0 2.4 0a1.2 1.2 0 1 0 -2.4 0" fill="#1a1a86"/>
<path d="M77.55 309.6a1.65 1.65 0 1 0 3.3 0a1.65 1.65 0 1 0 -3.3 0M79.55 303.9a1.65 1.65 0 1 0 3.3 0a1.65 1.65 0 1 0 -3.3 0M81.55 300.48a1.65 1.65 0 1 0 3.3 0a1.65 1.65 0 1 0 -3.3 0M83.55 297.37a1.65 1.65 0 1 0 3.3 0a1.65 1.65 0 1 0 -3.3 0M85.55 294.32a1.65 1.65 0 1 0 3.3 0a1.65 1.65 0 1 0 -3.3 0M87.55 291.34a1.65 1.65 0 1 0 3.3 0a1.65 1.65 0 1 0 -3.3 0M89.55 288.5a1.65 1.65 0 1 0 3.3 0a1.65 1.65 0 1 0 -3.3 0M91.55 285.4a1.65 1.65 0 1 0 3.3 0a1.65 1.65 0 1 0 -3.3 0M93.55 283.08a1.65 1.65 0 1 0 3.3 0a1.65 1.65 0 1 0 -3.3 0M95.55 280.62a1.65 1.65 0 1 0 3.3 0a1.65 1.65 0 1 0 -3.3 0M97.55 277.98a1.65 1.65 0 1 0 3.3 0a1.65 1.65 0 1 0 -3.3 0M99.55 275.93a1.65 1.65 0 1 0 3.3 0a1.65 1.65 0 1 0 -3.3 0M101.55 274.35a1.65 1.65 0 1 0 3.3 0a1.65 1.65 0 1 0 -3.3 0M103.55 272.6a1.65 1.65 0 1 0 3.3 0a1.65 1.65 0 1 0 -3.3 0M105.55 270.62a1.65 1.65 0 1 0 3.3 0a1.65 1.65 0 1 0 -3.3 0M107.55 268.67a1.65 1.65 0 1 0 3.3 0a1.65 1.65 0 1 0 -3.3 0M109.55 267.05a1.65 1.65 0 1 0 3.3 0a1.65 1.65 0 1 0 -3.3 0M111.55 265.58a1.65 1.65 0 1 0 3.3 0a1.65 1.65 0 1 0 -3.3 0M113.55 264.24a1.65 1.65 0 1 0 3.3 0a1.65 1.65 0 1 0 -3.3 0M115.55 263a1.65 1.65 0 1 0 3.3 0a1.65 1.65 0 1 0 -3.3 0M117.55 261.85a1.65 1.65 0 1 0 3.3 0a1.65 1.65 0 1 0 -3.3 0M119.55 260.77a1.65 1.65 0 1 0 3.3 0a1.65 1.65 0 1 0 -3.3 0M121.55 259.75a1.65 1.65 0 1 0 3.3 0a1.65 1.65 0 1 0 -3.3 0M123.55 258.81a1.65 1.65 0 1 0 3.3 0a1.65 1.65 0 1 0 -3.3 0M125.55 257.89a1.65 1.65 0 1 0 3.3 0a1.65 1.65 0 1 0 -3.3 0M127.55 256.99a1.65 1.65 0 1 0 3.3 0a1.65 1.65 0 1 0 -3.3 0M129.55 256.1a1.65 1.65 0 1 0 3.3 0a1.65 1.65 0 1 0 -3.3 0M131.55 255.25a1.65 1.65 0 1 0 3.3 0a1.65 1.65 0 1 0 -3.3 0M133.55 254.42a1.65 1.65 0 1 0 3.3 0a1.65 1.65 0 1 0 -3.3 0M135.55 253.61a1.65 1.65 0 1 0 3.3 0a1.65 1.65 0 1 0 -3.3 0M137.55 252.8a1.65 1.65 0 1 0 3.3 0a1.65 1.65 0 1 0 -3.3 0M139.55 252.1a1.65 1.65 0 1 0 3.3 0a1.65 1.65 0 1 0 -3.3 0M141.55 251.47a1.65 1.65 0 1 0 3.3 0a1.65 1.65 0 1 0 -3.3 0M143.55 250.88a1.65 1.65 0 1 0 3.3 0a1.65 1.65 0 1 0 -3.3 0M145.55 250.34a1.65 1.65 0 1 0 3.3 0a1.65 1.65 0 1 0 -3.3 0M147.55 249.85a1.65 1.65 0 1 0 3.3 0a1.65 1.65 0 1 0 -3.3 0M149.55 249.41a1.65 1.65 0 1 0 3.3 0a1.65 1.65 0 1 0 -3.3 0M151.55 249a1.65 1.65 0 1 0 3.3 0a1.65 1.65 0 1 0 -3.3 0M153.55 248.63a1.65 1.65 0 1 0 3.3 0a1.65 1.65 0 1 0 -3.3 0M155.55 248.28a1.65 1.65 0 1 0 3.3 0a1.65 1.65 0 1 0 -3.3 0M157.55 247.97a1.65 1.65 0 1 0 3.3 0a1.65 1.65 0 1 0 -3.3 0M159.55 247.69a1.65 1.65 0 1 0 3.3 0a1.65 1.65 0 1 0 -3.3 0M161.55 247.43a1.65 1.65 0 1 0 3.3 0a1.65 1.65 0 1 0 -3.3 0M163.55 247.18a1.65 1.65 0 1 0 3.3 0a1.65 1.65 0 1 0 -3.3 0M165.55 246.96a1.65 1.65 0 1 0 3.3 0a1.65 1.65 0 1 0 -3.3 0M167.55 246.77a1.65 1.65 0 1 0 3.3 0a1.65 1.65 0 1 0 -3.3 0M169.55 246.6a1.65 1.65 0 1 0 3.3 0a1.65 1.65 0 1 0 -3.3 0M171.55 246.45a1.65 1.65 0 1 0 3.3 0a1.65 1.65 0 1 0 -3.3 0M173.55 246.3a1.65 1.65 0 1 0 3.3 0a1.65 1.65 0 1 0 -3.3 0M175.55 246.17a1.65 1.65 0 1 0 3.3 0a1.65 1.65 0 1 0 -3.3 0M177.55 246.05a1.65 1.65 0 1 0 3.3 0a1.65 1.65 0 1 0 -3.3 0M179.55 245.93a1.65 1.65 0 1 0 3.3 0a1.65 1.65 0 1 0 -3.3 0M181.55 245.82a1.65 1.65 0 1 0 3.3 0a1.65 1.65 0 1 0 -3.3 0M183.55 245.71a1.65 1.65 0 1 0 3.3 0a1.65 1.65 0 1 0 -3.3 0M185.55 245.61a1.65 1.65 0 1 0 3.3 0a1.65 1.65 0 1 0 -3.3 0M187.55 245.51a1.65 1.65 0 1 0 3.3 0a1.65 1.65 0 1 0 -3.3 0M189.55 245.42a1.65 1.65 0 1 0 3.3 0a1.65 1.65 0 1 0 -3.3 0M191.55 245.33a1.65 1.65 0 1 0 3.3 0a1.65 1.65 0 1 0 -3.3 0M193.55 245.24a1.65 1.65 0 1 0 3.3 0a1.65 1.65 0 1 0 -3.3 0M195.55 245.16a1.65 1.65 0 1 0 3.3 0a1.65 1.65 0 1 0 -3.3 0M197.55 245.08a1.65 1.65 0 1 0 3.3 0a1.65 1.65 0 1 0 -3.3 0M199.55 245a1.65 1.65 0 1 0 3.3 0a1.65 1.65 0 1 0 -3.3 0M201.55 244.92a1.65 1.65 0 1 0 3.3 0a1.65 1.65 0 1 0 -3.3 0M203.55 244.85a1.65 1.65 0 1 0 3.3 0a1.65 1.65 0 1 0 -3.3 0M205.55 244.78a1.65 1.65 0 1 0 3.3 0a1.65 1.65 0 1 0 -3.3 0M207.55 244.72a1.65 1.65 0 1 0 3.3 0a1.65 1.65 0 1 0 -3.3 0M209.55 244.66a1.65 1.65 0 1 0 3.3 0a1.65 1.65 0 1 0 -3.3 0M211.55 244.59a1.65 1.65 0 1 0 3.3 0a1.65 1.65 0 1 0 -3.3 0M213.55 244.53a1.65 1.65 0 1 0 3.3 0a1.65 1.65 0 1 0 -3.3 0M215.55 244.47a1.65 1.65 0 1 0 3.3 0a1.65 1.65 0 1 0 -3.3 0M217.55 244.41a1.65 1.65 0 1 0 3.3 0a1.65 1.65 0 1 0 -3.3 0M219.55 244.35a1.65 1.65 0 1 0 3.3 0a1.65 1.65 0 1 0 -3.3 0M221.55 244.29a1.65 1.65 0 1 0 3.3 0a1.65 1.65 0 1 0 -3.3 0M223.55 244.24a1.65 1.65 0 1 0 3.3 0a1.65 1.65 0 1 0 -3.3 0M225.55 244.18a1.65 1.65 0 1 0 3.3 0a1.65 1.65 0 1 0 -3.3 0M227.55 244.13a1.65 1.65 0 1 0 3.3 0a1.65 1.65 0 1 0 -3.3 0M229.55 244.08a1.65 1.65 0 1 0 3.3 0a1.65 1.65 0 1 0 -3.3 0M231.55 244.03a1.65 1.65 0 1 0 3.3 0a1.65 1.65 0 1 0 -3.3 0M233.55 243.99a1.65 1.65 0 1 0 3.3 0a1.65 1.65 0 1 0 -3.3 0M235.55 243.94a1.65 1.65 0 1 0 3.3 0a1.65 1.65 0 1 0 -3.3 0M237.55 243.9a1.65 1.65 0 1 0 3.3 0a1.65 1.65 0 1 0 -3.3 0M239.55 243.87a1.65 1.65 0 1 0 3.3 0a1.65 1.65 0 1 0 -3.3 0M241.55 243.83a1.65 1.65 0 1 0 3.3 0a1.65 1.65 0 1 0 -3.3 0M243.55 243.8a1.65 1.65 0 1 0 3.3 0a1.65 1.65 0 1 0 -3.3 0M245.55 243.77a1.65 1.65 0 1 0 3.3 0a1.65 1.65 0 1 0 -3.3 0M247.55 243.74a1.65 1.65 0 1 0 3.3 0a1.65 1.65 0 1 0 -3.3 0M249.55 243.71a1.65 1.65 0 1 0 3.3 0a1.65 1.65 0 1 0 -3.3 0M251.55 243.68a1.65 1.65 0 1 0 3.3 0a1.65 1.65 0 1 0 -3.3 0M253.55 243.66a1.65 1.65 0 1 0 3.3 0a1.65 1.65 0 1 0 -3.3 0M255.55 243.63a1.65 1.65 0 1 0 3.3 0a1.65 1.65 0 1 0 -3.3 0M257.55 243.61a1.65 1.65 0 1 0 3.3 0a1.65 1.65 0 1 0 -3.3 0M259.55 243.59a1.65 1.65 0 1 0 3.3 0a1.65 1.65 0 1 0 -3.3 0M261.55 243.57a1.65 1.65 0 1 0 3.3 0a1.65 1.65 0 1 0 -3.3 0M263.55 243.55a1.65 1.65 0 1 0 3.3 0a1.65 1.65 0 1 0 -3.3 0M265.55 243.53a1.65 1.65 0 1 0 3.3 0a1.65 1.65 0 1 0 -3.3 0M267.55 243.51a1.65 1.65 0 1 0 3.3 0a1.65 1.65 0 1 0 -3.3 0M269.55 243.49a1.65 1.65 0 1 0 3.3 0a1.65 1.65 0 1 0 -3.3 0M271.55 243.47a1.65 1.65 0 1 0 3.3 0a1.65 1.65 0 1 0 -3.3 0M273.55 243.45a1.65 1.65 0 1 0 3.3 0a1.65 1.65 0 1 0 -3.3 0M275.55 243.43a1.65 1.65 0 1 0 3.3 0a1.65 1.65 0 1 0 -3.3 0M277.55 243.41a1.65 1.65 0 1 0 3.3 0a1.65 1.65 0 1 0 -3.3 0M279.55 243.39a1.65 1.65 0 1 0 3.3 0a1.65 1.65 0 1 0 -3.3 0M281.55 243.37a1.65 1.65 0 1 0 3.3 0a1.65 1.65 0 1 0 -3.3 0M283.55 243.35a1.65 1.65 0 1 0 3.3 0a1.65 1.65 0 1 0 -3.3 0M285.55 243.33a1.65 1.65 0 1 0 3.3 0a1.65 1.65 0 1 0 -3.3 0M287.55 243.31a1.65 1.65 0 1 0 3.3 0a1.65 1.65 0 1 0 -3.3 0M289.55 243.29a1.65 1.65 0 1 0 3.3 0a1.65 1.65 0 1 0 -3.3 0M291.55 243.27a1.65 1.65 0 1 0 3.3 0a1.65 1.65 0 1 0 -3.3 0M293.55 243.25a1.65 1.65 0 1 0 3.3 0a1.65 1.65 0 1 0 -3.3 0M295.55 243.23a1.65 1.65 0 1 0 3.3 0a1.65 1.65 0 1 0 -3.3 0M297.55 243.22a1.65 1.65 0 1 0 3.3 0a1.65 1.65 0 1 0 -3.3 0M299.55 243.2a1.65 1.65 0 1 0 3.3 0a1.65 1.65 0 1 0 -3.3 0M301.55 243.18a1.65 1.65 0 1 0 3.3 0a1.65 1.65 0 1 0 -3.3 0M303.55 243.16a1.65 1.65 0 1 0 3.3 0a1.65 1.65 0 1 0 -3.3 0M305.55 243.15a1.65 1.65 0 1 0 3.3 0a1.65 1.65 0 1 0 -3.3 0M307.55 243.13a1.65 1.65 0 1 0 3.3 0a1.65 1.65 0 1 0 -3.3 0M309.55 243.11a1.65 1.65 0 1 0 3.3 0a1.65 1.65 0 1 0 -3.3 0" fill="#b8101a"/>
<line x1="78.9" y1="260.1" x2="81.4" y2="260.1" stroke="#000" stroke-width="0.9"/>
<line x1="312.1" y1="260.1" x2="314.6" y2="260.1" stroke="#000" stroke-width="0.9"/>
<line x1="78.9" y1="276.9" x2="81.4" y2="276.9" stroke="#000" stroke-width="0.9"/>
<line x1="312.1" y1="276.9" x2="314.6" y2="276.9" stroke="#000" stroke-width="0.9"/>
<line x1="78.9" y1="293.7" x2="81.4" y2="293.7" stroke="#000" stroke-width="0.9"/>
<line x1="312.1" y1="293.7" x2="314.6" y2="293.7" stroke="#000" stroke-width="0.9"/>
<line x1="157.4" y1="308.4" x2="157.4" y2="310.9" stroke="#000" stroke-width="0.9"/>
<line x1="157.4" y1="243.4" x2="157.4" y2="245.9" stroke="#000" stroke-width="0.9"/>
<line x1="235.3" y1="308.4" x2="235.3" y2="310.9" stroke="#000" stroke-width="0.9"/>
<line x1="235.3" y1="243.4" x2="235.3" y2="245.9" stroke="#000" stroke-width="0.9"/>
<rect x="78.9" y="243.4" width="235.7" height="67.5" fill="none" stroke="#3a3a3a" stroke-width="1.25"/>
<text x="76.2" y="251.22" font-size="12.8" text-anchor="end">1</text>
<text x="77.2" y="281.22" font-size="12.8" text-anchor="end">0.5</text>
<text x="76.6" y="316.19" font-size="13.0" text-anchor="end">0</text>
<text x="79.2" y="323.99" font-size="13.6" text-anchor="middle">0</text>
<text x="157.4" y="323.99" font-size="13.6" text-anchor="middle">1.5</text>
<text x="235.3" y="323.99" font-size="13.6" text-anchor="middle">3</text>
<text x="312.2" y="323.99" font-size="13.6" text-anchor="middle">4.5</text>
<text x="47" y="304" font-size="13.4" text-anchor="start" textLength="51.6" lengthAdjust="spacingAndGlyphs" transform="rotate(-90 47 304)">Quantiles</text>
<text x="59.3" y="303.6" font-size="13.4" text-anchor="start" textLength="54.4" lengthAdjust="spacingAndGlyphs" transform="rotate(-90 59.3 303.6)">of Sample</text>
<line x1="130.8" y1="259.9" x2="113.76" y2="229.35" stroke="#1f2a96" stroke-width="1.4"/>
<path d="M108.1 219.2L120.02 230.3L113.76 229.35L111.28 235.17Z" fill="#1f2a96"/>
<line x1="193.8" y1="242.3" x2="258.86" y2="220.93" stroke="#b81820" stroke-width="1.4"/>
<path d="M269.9 217.3L256.73 226.89L258.86 220.93L253.61 217.39Z" fill="#b81820"/>
<line x1="46.1" y1="341.4" x2="330" y2="339.05" stroke="#cbcbcb" stroke-width="1.0" stroke-dasharray="3.6,2.8"/>
<line x1="46.1" y1="359.7" x2="330" y2="357.35" stroke="#cbcbcb" stroke-width="1.0" stroke-dasharray="3.6,2.8"/>
<line x1="46.1" y1="378.8" x2="330" y2="376.45" stroke="#cbcbcb" stroke-width="1.0" stroke-dasharray="3.6,2.8"/>
<line x1="46.1" y1="397.8" x2="330" y2="395.45" stroke="#cbcbcb" stroke-width="1.0" stroke-dasharray="3.6,2.8"/>
<line x1="46.1" y1="412.8" x2="330" y2="410.45" stroke="#cbcbcb" stroke-width="1.0" stroke-dasharray="3.6,2.8"/>
<line x1="46.1" y1="428.6" x2="330" y2="426.25" stroke="#cbcbcb" stroke-width="1.0" stroke-dasharray="3.6,2.8"/>
<line x1="46.1" y1="447.5" x2="330" y2="445.15" stroke="#cbcbcb" stroke-width="1.0" stroke-dasharray="3.6,2.8"/>
<line x1="46.1" y1="466.3" x2="330" y2="463.95" stroke="#cbcbcb" stroke-width="1.0" stroke-dasharray="3.6,2.8"/>
<line x1="103.4" y1="331" x2="103.4" y2="481.6" stroke="#cbcbcb" stroke-width="1.0" stroke-dasharray="3.6,2.8"/>
<line x1="160.1" y1="331" x2="160.1" y2="481.6" stroke="#cbcbcb" stroke-width="1.0" stroke-dasharray="3.6,2.8"/>
<line x1="216.8" y1="331" x2="216.8" y2="481.6" stroke="#cbcbcb" stroke-width="1.0" stroke-dasharray="3.6,2.8"/>
<line x1="273.5" y1="331" x2="273.5" y2="481.6" stroke="#cbcbcb" stroke-width="1.0" stroke-dasharray="3.6,2.8"/>
<path d="M81.3 335.5L87.6 338.8L93.9 343.9L100.2 346.4L106.5 351.4L112.8 355.2L119.1 357.7L125.4 361L131.7 364L138 365.8L144.3 368.3L150.6 370.3L156.9 371.1L163.1 373.6L170.1 373.1L176.4 377.1L182.7 378.1L189 377.6L195.3 378.9L201.6 379.7L207.9 383.2L214.2 383.4L220.5 384.5L226.8 386L233.1 384.5L239.4 387L245.7 388L252.3 386.7L258.4 390.2L264.6 389.6L270.9 389.8L277 390L283.2 391.8L289.7 394L296 392.5L302.7 392L309.5 394" stroke="#262686" stroke-width="1.4" fill="none"/>
<path d="M79.1 335.5L81.3 333.7L83.5 335.5L81.3 337.3ZM85.4 338.8L87.6 337L89.8 338.8L87.6 340.6ZM91.7 343.9L93.9 342.1L96.1 343.9L93.9 345.7ZM98 346.4L100.2 344.6L102.4 346.4L100.2 348.2ZM104.3 351.4L106.5 349.6L108.7 351.4L106.5 353.2ZM110.6 355.2L112.8 353.4L115 355.2L112.8 357ZM116.9 357.7L119.1 355.9L121.3 357.7L119.1 359.5ZM123.2 361L125.4 359.2L127.6 361L125.4 362.8ZM129.5 364L131.7 362.2L133.9 364L131.7 365.8ZM135.8 365.8L138 364L140.2 365.8L138 367.6ZM142.1 368.3L144.3 366.5L146.5 368.3L144.3 370.1ZM148.4 370.3L150.6 368.5L152.8 370.3L150.6 372.1ZM154.7 371.1L156.9 369.3L159.1 371.1L156.9 372.9ZM160.9 373.6L163.1 371.8L165.3 373.6L163.1 375.4ZM167.9 373.1L170.1 371.3L172.3 373.1L170.1 374.9ZM174.2 377.1L176.4 375.3L178.6 377.1L176.4 378.9ZM180.5 378.1L182.7 376.3L184.9 378.1L182.7 379.9ZM186.8 377.6L189 375.8L191.2 377.6L189 379.4ZM193.1 378.9L195.3 377.1L197.5 378.9L195.3 380.7ZM199.4 379.7L201.6 377.9L203.8 379.7L201.6 381.5ZM205.7 383.2L207.9 381.4L210.1 383.2L207.9 385ZM212 383.4L214.2 381.6L216.4 383.4L214.2 385.2ZM218.3 384.5L220.5 382.7L222.7 384.5L220.5 386.3ZM224.6 386L226.8 384.2L229 386L226.8 387.8ZM230.9 384.5L233.1 382.7L235.3 384.5L233.1 386.3ZM237.2 387L239.4 385.2L241.6 387L239.4 388.8ZM243.5 388L245.7 386.2L247.9 388L245.7 389.8ZM250.1 386.7L252.3 384.9L254.5 386.7L252.3 388.5ZM256.2 390.2L258.4 388.4L260.6 390.2L258.4 392ZM262.4 389.6L264.6 387.8L266.8 389.6L264.6 391.4ZM268.7 389.8L270.9 388L273.1 389.8L270.9 391.6ZM274.8 390L277 388.2L279.2 390L277 391.8ZM281 391.8L283.2 390L285.4 391.8L283.2 393.6ZM287.5 394L289.7 392.2L291.9 394L289.7 395.8ZM293.8 392.5L296 390.7L298.2 392.5L296 394.3ZM300.5 392L302.7 390.2L304.9 392L302.7 393.8ZM307.3 394L309.5 392.2L311.7 394L309.5 395.8Z" fill="#262686"/>
<path d="M78.8 452.54L79.05 448.48L79.3 443.88L79.55 438.93L79.8 434.02L80.05 429.79L80.3 427.03L80.55 426.35L80.8 427.9L81.05 431.32L81.3 435.87L81.55 440.83L81.8 445.65L82.05 450.02L82.3 453.82L82.55 457.04L82.8 459.73L83.05 461.95L83.3 463.78L83.55 465.27L83.8 466.46L84.05 467.42L84.3 468.16L84.55 468.72L84.8 469.1L85.05 469.32L85.3 469.39L85.55 469.31L85.8 469.07L86.05 468.67L86.3 468.08L86.55 467.29L86.8 466.26L87.05 464.96L87.3 463.33L87.55 461.33L87.8 458.88L88.05 455.89L88.3 452.31L88.55 448.07L88.8 443.18L89.05 437.79L89.3 432.23L89.55 427.13L89.8 423.3L90.05 421.55L90.3 422.34L90.55 425.5L90.8 430.31L91.05 435.85L91.3 441.41L91.55 446.52L91.8 451L92.05 454.8L92.3 457.97L92.55 460.58L92.8 462.72L93.05 464.45L93.3 465.84L93.55 466.94L93.8 467.79L94.05 468.43L94.3 468.87L94.55 469.12L94.8 469.2L95.05 469.11L95.3 468.83L95.55 468.36L95.8 467.69L96.05 466.78L96.3 465.61L96.55 464.14L96.8 462.29L97.05 460.02L97.3 457.23L97.55 453.84L97.8 449.76L98.05 444.96L98.3 439.47L98.55 433.5L98.8 427.55L99.05 422.39L99.3 419L99.55 418.16L99.8 420.34L100.05 425.02L100.3 431.08L100.55 437.45L100.8 443.42L101.05 448.66L101.3 453.08L101.55 456.71L101.8 459.67L102.05 462.04L102.3 463.94L102.55 465.43L102.8 466.58L103.05 467.45L103.3 468.06L103.55 468.44L103.8 468.61L104.05 468.58L104.3 468.33L104.55 467.87L104.8 467.16L105.05 466.19L105.3 464.91L105.55 463.26L105.8 461.18L106.05 458.57L106.3 455.34L106.55 451.37L106.8 446.57L107.05 440.91L107.3 434.53L107.55 427.85L107.8 421.7L108.05 417.24L108.3 415.6L108.55 417.23L108.8 421.65L109.05 427.74L109.3 434.36L109.55 440.68L109.8 446.28L110.05 451.03L110.3 454.96L110.55 458.16L110.8 460.74L111.05 462.81L111.3 464.44L111.55 465.71L111.8 466.67L112.05 467.36L112.3 467.8L112.55 468.02L112.8 468.03L113.05 467.82L113.3 467.38L113.55 466.69L113.8 465.73L114.05 464.45L114.3 462.8L114.55 460.7L114.8 458.07L115.05 454.8L115.3 450.78L115.55 445.89L115.8 440.1L116.05 433.49L116.3 426.44L116.55 419.74L116.8 414.57L117.05 412.17L117.3 413.51L117.55 418.66L117.8 426.03L118.05 433.89L118.3 441.15L118.55 447.34L118.8 452.4L119.05 456.43L119.3 459.6L119.55 462.06L119.8 463.95L120.05 465.37L120.3 466.38L120.55 467.06L120.8 467.42L121.05 467.49L121.3 467.27L121.55 466.75L121.8 465.89L122.05 464.66L122.3 462.98L122.55 460.76L122.8 457.88L123.05 454.19L123.3 449.52L123.55 443.7L123.8 436.67L124.05 428.64L124.3 420.35L124.55 413.27L124.8 409.28L125.05 409.68L125.3 414.09L125.55 421.11L125.8 429.06L126.05 436.7L126.3 443.4L126.55 448.99L126.8 453.52L127.05 457.13L127.3 459.98L127.55 462.2L127.8 463.9L128.05 465.18L128.3 466.08L128.55 466.67L128.8 466.96L129.05 466.98L129.3 466.71L129.55 466.16L129.8 465.28L130.05 464.05L130.3 462.38L130.55 460.21L130.8 457.41L131.05 453.86L131.3 449.39L131.55 443.86L131.8 437.18L132.05 429.47L132.3 421.27L132.55 413.72L132.8 408.51L133.05 407.2L133.3 410.68L133.55 417.85L133.8 426.56L134.05 435.08L134.3 442.53L134.55 448.65L134.8 453.53L135.05 457.34L135.3 460.28L135.55 462.52L135.8 464.19L136.05 465.39L136.3 466.18L136.55 466.61L136.8 466.7L137.05 466.46L137.3 465.86L137.55 464.87L137.8 463.45L138.05 461.49L138.3 458.9L138.55 455.5L138.8 451.12L139.05 445.54L139.3 438.6L139.55 430.33L139.8 421.2L140.05 412.49L140.3 406.3L140.55 404.71L140.8 408.22L141.05 415.5L141.3 424.4L141.55 433.17L141.8 440.87L142.05 447.23L142.3 452.32L142.55 456.32L142.8 459.42L143.05 461.79L143.3 463.57L143.55 464.86L143.8 465.73L144.05 466.23L144.3 466.4L144.55 466.23L144.8 465.71L145.05 464.82L145.3 463.49L145.55 461.67L145.8 459.24L146.05 456.06L146.3 451.95L146.55 446.71L146.8 440.16L147.05 432.23L147.3 423.2L147.55 414.03L147.8 406.53L148.05 402.91L148.3 404.59L148.55 411.06L148.8 420.12L149.05 429.56L149.3 438.06L149.55 445.14L149.8 450.81L150.05 455.25L150.3 458.67L150.55 461.28L150.8 463.24L151.05 464.65L151.3 465.6L151.55 466.15L151.8 466.33L152.05 466.15L152.3 465.59L152.55 464.63L152.8 463.2L153.05 461.22L153.3 458.58L153.55 455.1L153.8 450.6L154.05 444.84L154.3 437.64L154.55 429.01L154.8 419.41L155.05 410.2L155.3 403.62L155.55 401.95L155.8 406.72L156.05 416.17L156.3 426.95L156.55 436.83L156.8 444.94L157.05 451.25L157.3 456.04L157.55 459.61L157.8 462.23L158.05 464.08L158.3 465.32L158.55 466.03L158.8 466.26L159.05 466.03L159.3 465.31L159.55 464.05L159.8 462.16L160.05 459.49L160.3 455.84L160.55 450.93L160.8 444.45L161.05 436.12L161.3 425.97L161.55 414.88L161.8 405.16L162.05 400.25L162.3 402.29L162.55 410.09L162.8 420.59L163.05 431.06L163.3 440.1L163.55 447.36L163.8 452.97L164.05 457.23L164.3 460.41L164.55 462.74L164.8 464.39L165.05 465.47L165.3 466.05L165.55 466.19L165.8 465.87L166.05 465.09L166.3 463.78L166.55 461.86L166.8 459.19L167.05 455.58L167.3 450.78L167.55 444.48L167.8 436.44L168.05 426.65L168.3 415.82L168.55 405.92L168.8 400.07L169.05 400.96L169.3 408.87L169.55 420.23L169.8 431.58L170.05 441.17L170.3 448.68L170.55 454.34L170.8 458.52L171.05 461.54L171.3 463.67L171.55 465.07L171.8 465.87L172.05 466.13L172.3 465.87L172.55 465.06L172.8 463.65L173.05 461.52L173.3 458.49L173.55 454.32L173.8 448.66L174.05 441.15L174.3 431.55L174.55 420.22L174.8 408.86L175.05 400.96L175.3 400.16L175.55 406.86L175.8 417.85L176.05 429.38L176.3 439.37L176.55 447.29L176.8 453.28L177.05 457.73L177.3 460.97L177.55 463.26L177.8 464.81L178.05 465.73L178.3 466.1L178.55 465.94L178.8 465.25L179.05 463.96L179.3 461.97L179.55 459.11L179.8 455.15L180.05 449.76L180.3 442.56L180.55 433.27L180.8 422.07L181.05 410.33L181.3 401.3L181.55 398.87L181.8 404.32L182.05 414.93L182.3 426.74L182.55 437.26L182.8 445.69L183.05 452.12L183.3 456.9L183.55 460.39L183.8 462.88L184.05 464.57L184.3 465.61L184.55 466.09L184.8 466.03L185.05 465.45L185.3 464.3L185.55 462.48L185.8 459.84L186.05 456.17L186.3 451.17L186.55 444.48L186.8 435.76L187.05 425.07L187.3 413.45L187.55 403.72L187.8 399.8L188.05 403.18L188.3 411.8L188.55 422.51L188.8 432.8L189.05 441.51L189.3 448.45L189.55 453.79L189.8 457.83L190.05 460.84L190.3 463.04L190.55 464.58L190.8 465.57L191.05 466.07L191.3 466.11L191.55 465.7L191.8 464.81L192.05 463.38L192.3 461.3L192.55 458.42L192.8 454.54L193.05 449.38L193.3 442.65L193.55 434.1L193.8 423.85L194.05 412.81L194.3 403.3L194.55 398.54L194.8 401.01L195.05 410.09L195.3 421.88L195.55 433.14L195.8 442.48L196.05 449.71L196.3 455.13L196.55 459.12L196.8 461.99L197.05 464L197.3 465.3L197.55 466L197.8 466.15L198.05 465.79L198.3 464.86L198.55 463.3L198.8 460.99L199.05 457.73L199.3 453.25L199.55 447.2L199.8 439.22L200.05 429.14L200.3 417.51L200.55 406.43L200.8 399.66L201.05 400.48L201.3 408.45L201.55 419.93L201.8 431.37L202.05 441.05L202.3 448.62L202.55 454.33L202.8 458.53L203.05 461.57L203.3 463.71L203.55 465.12L203.8 465.92L204.05 466.18L204.3 465.92L204.55 465.13L204.8 463.73L205.05 461.63L205.3 458.64L205.55 454.53L205.8 448.95L206.05 441.56L206.3 432.12L206.55 420.97L206.8 409.8L207.05 402.04L207.3 401.36L207.55 409.03L207.8 421.1L208.05 433.15L208.3 443.11L208.55 450.67L208.8 456.19L209.05 460.14L209.3 462.88L209.55 464.69L209.8 465.76L210.05 466.19L210.3 466.01L210.55 465.22L210.8 463.73L211.05 461.41L211.3 458.02L211.55 453.24L211.8 446.63L212.05 437.76L212.3 426.57L212.55 414.25L212.8 404.33L213.05 401.59L213.3 407.7L213.55 419.19L213.8 431.36L214.05 441.69L214.3 449.63L214.55 455.46L214.8 459.64L215.05 462.56L215.3 464.53L215.55 465.72L215.8 466.27L216.05 466.21L216.3 465.56L216.55 464.24L216.8 462.14L217.05 459.04L217.3 454.65L217.55 448.55L217.8 440.32L218.05 429.75L218.3 417.69L218.55 407.1L218.8 402.7L219.05 407.56L219.3 419.01L219.55 431.63L219.8 442.34L220.05 450.45L220.3 456.3L220.55 460.42L220.8 463.24L221.05 465.07L221.3 466.1L221.55 466.43L221.8 466.1L222.05 465.08L222.3 463.24L222.55 460.38L222.8 456.2L223.05 450.23L223.3 441.94L223.55 430.98L223.8 418.03L224.05 406.28L224.3 401.3L224.55 406.12L224.8 417.59L225.05 430.35L225.3 441.3L225.55 449.66L225.8 455.73L226.05 460.03L226.3 462.99L226.55 464.94L226.8 466.08L227.05 466.53L227.3 466.34L227.55 465.51L227.8 463.94L228.05 461.48L228.3 457.88L228.55 452.76L228.8 445.64L229.05 436.1L229.3 424.33L229.55 412.27L229.8 404.48L230.05 405.71L230.3 416.01L230.55 429.33L230.8 441.1L231.05 450.01L231.3 456.35L231.55 460.72L231.8 463.64L232.05 465.47L232.3 466.44L232.55 466.66L232.8 466.17L233.05 464.89L233.3 462.69L233.55 459.3L233.8 454.3L234.05 447.13L234.3 437.24L234.55 424.76L234.8 412.13L235.05 405.03L235.3 407.9L235.55 418.22L235.8 430.63L236.05 441.53L236.3 449.92L236.55 456.02L236.8 460.32L237.05 463.28L237.3 465.23L237.55 466.37L237.8 466.83L238.05 466.64L238.3 465.8L238.55 464.21L238.8 461.7L239.05 457.99L239.3 452.68L239.55 445.26L239.8 435.33L240.05 423.24L240.3 411.45L240.55 405L240.8 408.28L241.05 419.6L241.3 432.73L241.55 443.84L241.8 452.09L242.05 457.9L242.3 461.87L242.55 464.49L242.8 466.09L243.05 466.88L243.3 466.96L243.55 466.36L243.8 465L244.05 462.74L244.3 459.31L244.55 454.3L244.8 447.17L245.05 437.47L245.3 425.62L245.55 414.46L245.8 409.6L246.05 413.85L246.3 423.95L246.55 435.21L246.8 444.87L247.05 452.26L247.3 457.65L247.55 461.47L247.8 464.12L248.05 465.87L248.3 466.9L248.55 467.32L248.8 467.16L249.05 466.41L249.3 464.99L249.55 462.74L249.8 459.42L250.05 454.69L250.3 448.1L250.55 439.24L250.8 428.3L251.05 417.08L251.3 409.83L251.55 411.12L251.8 421.31L252.05 434.17L252.3 445.22L252.55 453.39L252.8 459.09L253.05 462.93L253.3 465.43L253.55 466.92L253.8 467.59L254.05 467.53L254.3 466.74L254.55 465.12L254.8 462.46L255.05 458.4L255.3 452.43L255.55 443.92L255.8 432.66L256.05 420.19L256.3 411.59L256.55 412.6L256.8 422.28L257.05 434.64L257.3 445.41L257.55 453.46L257.8 459.12L258.05 462.98L258.3 465.52L258.55 467.08L258.8 467.85L259.05 467.94L259.3 467.36L259.55 466.05L259.8 463.86L260.05 460.51L260.3 455.59L260.55 448.55L260.8 439L261.05 427.57L261.3 417.59L261.55 414.73L261.8 421.83L262.05 433.92L262.3 445.19L262.55 453.7L262.8 459.6L263.05 463.57L263.3 466.13L263.55 467.65L263.8 468.34L264.05 468.29L264.3 467.48L264.55 465.79L264.8 462.97L265.05 458.61L265.3 452.11L265.55 442.8L265.8 430.76L266.05 418.74L266.3 413.3L266.55 418.37L266.8 429.8L267.05 441.61L267.3 451.01L267.55 457.75L267.8 462.37L268.05 465.45L268.3 467.4L268.55 468.48L268.8 468.84L269.05 468.52L269.3 467.51L269.55 465.67L269.8 462.77L270.05 458.43L270.3 452.12L270.55 443.34L270.8 432.31L271.05 421.63L271.3 416.9L271.55 422.04L271.8 433.41L272.05 444.82L272.3 453.65L272.55 459.83L272.8 463.99L273.05 466.68L273.3 468.3L273.55 469.1L273.8 469.17L274.05 468.56L274.3 467.16L274.55 464.81L274.8 461.15L275.05 455.69L275.3 447.83L275.55 437.39L275.8 426.2L276.05 419.61L276.3 422.4L276.55 432.03L276.8 442.91L277.05 451.87L277.3 458.38L277.55 462.88L277.8 465.9L278.05 467.83L278.3 468.94L278.55 469.38L278.8 469.21L279.05 468.41L279.3 466.88L279.55 464.43L279.8 460.74L280.05 455.34L280.3 447.73L280.55 437.9L280.8 427.67L281.05 421.79L281.3 424.71L281.55 434.49L281.8 445.22L282.05 453.83L282.3 459.94L282.55 464.08L282.8 466.8L283.05 468.48L283.3 469.36L283.55 469.56L283.8 469.11L284.05 467.95L284.3 465.91L284.55 462.69L284.8 457.84L285.05 450.77L285.3 441.15L285.55 430.18L285.8 422.41L286.05 423.55L286.3 433.1L286.55 444.46L286.8 453.65L287.05 460.1L287.3 464.4L287.55 467.15L287.8 468.8L288.05 469.61L288.3 469.68L288.55 469.05L288.8 467.62L289.05 465.16L289.3 461.29L289.55 455.43L289.8 446.97L290.05 436.07L290.3 425.82L290.55 422.69L290.8 428.54L291.05 438.72L291.3 448.49L291.55 456.03L291.8 461.38L292.05 465.02L292.3 467.42L292.55 468.91L292.8 469.69L293.05 469.86L293.3 469.47L293.55 468.46L293.8 466.72L294.05 464.01L294.3 459.99L294.55 454.19L294.8 446.24L295.05 436.6L295.3 428.06L295.55 425.62L295.8 432.24L296.05 443.06L296.3 452.64L296.55 459.54L296.8 464.14L297.05 467.08L297.3 468.86L297.55 469.78L297.8 469.98L298.05 469.52L298.3 468.33L298.55 466.22L298.8 462.87L299.05 457.74L299.3 450.24L299.55 440.44L299.8 431.07L300.05 428.2L300.3 434.2L300.55 444.15L300.8 453.13L301.05 459.69L301.3 464.13L301.55 467.02L301.8 468.82L302.05 469.79L302.3 470.11L302.55 469.81L302.8 468.85L303.05 467.09L303.3 464.25L303.55 459.91L303.8 453.48L304.05 444.7L304.3 434.97L304.55 429.09L304.8 431.93L305.05 441.19L305.3 450.87L305.55 458.26L305.8 463.3L306.05 466.58L306.3 468.62L306.55 469.76L306.8 470.21L307.05 470.03L307.3 469.21L307.55 467.62L307.8 465.02L308.05 460.98L308.3 454.94L308.55 446.58L308.8 437.16L309.05 431.39L309.3 434.06L309.55 442.81L309.85 453.54" stroke="#b0141e" stroke-width="1.3" fill="none" stroke-linejoin="round"/>
<line x1="46.1" y1="341.4" x2="49.6" y2="341.4" stroke="#000" stroke-width="1.1"/>
<line x1="46.1" y1="359.7" x2="49.6" y2="359.7" stroke="#000" stroke-width="1.1"/>
<line x1="46.1" y1="378.8" x2="49.6" y2="378.8" stroke="#000" stroke-width="1.1"/>
<line x1="46.1" y1="397.8" x2="49.6" y2="397.8" stroke="#000" stroke-width="1.1"/>
<line x1="46.1" y1="412.8" x2="49.6" y2="412.8" stroke="#000" stroke-width="1.1"/>
<line x1="46.1" y1="428.6" x2="49.6" y2="428.6" stroke="#000" stroke-width="1.1"/>
<line x1="46.1" y1="447.5" x2="49.6" y2="447.5" stroke="#000" stroke-width="1.1"/>
<line x1="46.1" y1="466.3" x2="49.6" y2="466.3" stroke="#000" stroke-width="1.1"/>
<line x1="103.4" y1="479.1" x2="103.4" y2="481.6" stroke="#000" stroke-width="1"/>
<line x1="160.1" y1="479.1" x2="160.1" y2="481.6" stroke="#000" stroke-width="1"/>
<line x1="216.8" y1="479.1" x2="216.8" y2="481.6" stroke="#000" stroke-width="1"/>
<line x1="273.5" y1="479.1" x2="273.5" y2="481.6" stroke="#000" stroke-width="1"/>
<rect x="46.1" y="331.0" width="283.9" height="150.6" fill="none" stroke="#000" stroke-width="1.7"/>
<rect x="168.8" y="336" width="53.8" height="13.2" fill="#fff"/>
<text x="169.8" y="347.7" font-size="16" text-anchor="start" textLength="51.8" lengthAdjust="spacingAndGlyphs">FWHM</text>
<text x="40.8" y="417.19" font-size="13.3" text-anchor="end">4</text>
<text x="40.8" y="432.99" font-size="13.3" text-anchor="end">3</text>
<text x="40.8" y="451.79" font-size="13.3" text-anchor="end">2</text>
<text x="40.8" y="470.19" font-size="13.3" text-anchor="end">1</text>
<text x="40.8" y="484.39" font-size="13.3" text-anchor="end">0</text>
<text x="334.5" y="344.15" font-size="13.5" text-anchor="start">7</text>
<text x="334.5" y="360.25" font-size="13.5" text-anchor="start">6</text>
<text x="334.5" y="380.06" font-size="13.5" text-anchor="start">5</text>
<text x="334.5" y="398.56" font-size="13.5" text-anchor="start">4</text>
<text x="46.2" y="498.32" font-size="13.4" text-anchor="middle">1200</text>
<text x="102.95" y="498.32" font-size="13.4" text-anchor="middle">1300</text>
<text x="159.7" y="498.32" font-size="13.4" text-anchor="middle">1400</text>
<text x="216.45" y="498.32" font-size="13.4" text-anchor="middle">1500</text>
<text x="273.2" y="498.32" font-size="13.4" text-anchor="middle">1600</text>
<text x="329.95" y="498.32" font-size="13.4" text-anchor="middle">1700</text>
<text x="153.2" y="516.2" font-size="13.3" text-anchor="start" textLength="73.8" lengthAdjust="spacingAndGlyphs">Pizel Number</text>
<text x="20.2" y="482.8" font-size="12.8" text-anchor="start" textLength="73.2" lengthAdjust="spacingAndGlyphs" transform="rotate(-90 20.2 482.8)">Intenity (a.u.)</text>
<text x="354.2" y="403.7" font-size="12.8" text-anchor="start" textLength="79.6" lengthAdjust="spacingAndGlyphs" transform="rotate(-90 354.2 403.7)">FWHM (pixel)</text>
</svg>
</body></html>
